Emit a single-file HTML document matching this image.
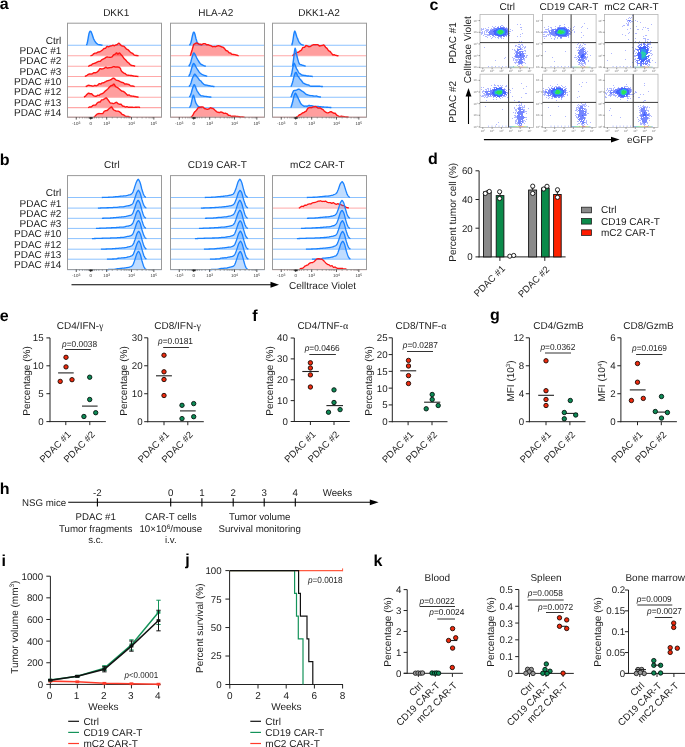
<!DOCTYPE html>
<html><head><meta charset="utf-8"><title>Figure</title>
<style>html,body{margin:0;padding:0;background:#fff;} svg{display:block;will-change:transform;} text{font-family:"Liberation Sans",sans-serif;text-rendering:geometricPrecision;}</style>
</head><body>
<svg width="685" height="747" viewBox="0 0 685 747" font-family="Liberation Sans, sans-serif">
<rect width="685" height="747" fill="#fff"/>
<text x="-0.30" y="9.20" font-size="16" text-anchor="start" font-weight="bold" fill="#000">a</text>
<text x="61.30" y="43.90" font-size="10" text-anchor="end" fill="#1c1c1c">Ctrl</text>
<text x="61.30" y="54.19" font-size="10" text-anchor="end" fill="#1c1c1c">PDAC #1</text>
<text x="61.30" y="64.48" font-size="10" text-anchor="end" fill="#1c1c1c">PDAC #2</text>
<text x="61.30" y="74.77" font-size="10" text-anchor="end" fill="#1c1c1c">PDAC #3</text>
<text x="61.30" y="85.06" font-size="10" text-anchor="end" fill="#1c1c1c">PDAC #10</text>
<text x="61.30" y="95.35" font-size="10" text-anchor="end" fill="#1c1c1c">PDAC #12</text>
<text x="61.30" y="105.64" font-size="10" text-anchor="end" fill="#1c1c1c">PDAC #13</text>
<text x="61.30" y="115.93" font-size="10" text-anchor="end" fill="#1c1c1c">PDAC #14</text>
<text x="116.20" y="16.30" font-size="10" text-anchor="middle" fill="#1c1c1c">DKK1</text>
<text x="215.70" y="16.30" font-size="10" text-anchor="middle" fill="#1c1c1c">HLA-A2</text>
<text x="319.00" y="16.30" font-size="10" text-anchor="middle" fill="#1c1c1c">DKK1-A2</text>
<path d="M86.5,45.30 L86.5,45.30 L87.0,43.74 L87.5,41.82 L88.0,39.11 L88.5,36.10 L89.0,33.56 L89.5,32.16 L90.0,31.28 L90.5,31.24 L91.0,31.59 L91.5,32.71 L92.0,34.05 L92.5,35.49 L93.0,37.03 L93.5,38.52 L94.0,39.69 L94.5,40.51 L95.0,41.28 L95.5,42.05 L96.0,42.85 L96.5,43.34 L97.0,43.67 L97.5,44.01 L98.0,44.33 L98.5,44.59 L99.0,44.67 L99.5,44.73 L100.0,44.80 L100.5,44.91 L101.0,45.02 L101.5,45.12 L102.0,45.19 L102.5,45.30 L102.5,45.30 Z" fill="rgba(26,130,255,0.42)" stroke="none"/>
<line x1="67.50" y1="45.30" x2="161.50" y2="45.30" stroke="#8cc2ff" stroke-width="1.1"/>
<path d="M86.5,45.30 L86.5,45.30 L87.0,43.74 L87.5,41.82 L88.0,39.11 L88.5,36.10 L89.0,33.56 L89.5,32.16 L90.0,31.28 L90.5,31.24 L91.0,31.59 L91.5,32.71 L92.0,34.05 L92.5,35.49 L93.0,37.03 L93.5,38.52 L94.0,39.69 L94.5,40.51 L95.0,41.28 L95.5,42.05 L96.0,42.85 L96.5,43.34 L97.0,43.67 L97.5,44.01 L98.0,44.33 L98.5,44.59 L99.0,44.67 L99.5,44.73 L100.0,44.80 L100.5,44.91 L101.0,45.02 L101.5,45.12 L102.0,45.19 L102.5,45.30" fill="none" stroke="#1a82ff" stroke-width="1.4000000000000001" stroke-linejoin="round"/>
<path d="M90.5,55.80 L90.5,55.80 L91.0,55.59 L91.5,55.42 L92.0,55.32 L92.5,54.94 L93.0,54.46 L93.5,53.86 L94.0,53.59 L94.5,53.38 L95.0,53.16 L95.5,53.12 L96.0,53.08 L96.5,53.05 L97.0,52.70 L97.5,52.36 L98.0,52.02 L98.5,51.98 L99.0,51.94 L99.5,51.88 L100.0,51.58 L100.5,51.28 L101.0,50.98 L101.5,50.66 L102.0,50.33 L102.5,50.00 L103.0,49.52 L103.5,49.03 L104.0,48.55 L104.5,48.47 L105.0,48.40 L105.5,48.32 L106.0,47.67 L106.5,47.01 L107.0,46.36 L107.5,46.48 L108.0,46.61 L108.5,46.81 L109.0,46.57 L109.5,46.34 L110.0,46.11 L110.5,45.99 L111.0,45.87 L111.5,45.84 L112.0,45.61 L112.5,45.41 L113.0,45.22 L113.5,45.51 L114.0,45.68 L114.5,45.70 L115.0,45.45 L115.5,45.20 L116.0,44.94 L116.5,44.79 L117.0,44.54 L117.5,44.28 L118.0,43.80 L118.5,43.35 L119.0,43.12 L119.5,43.62 L120.0,44.23 L120.5,44.83 L121.0,45.37 L121.5,45.69 L122.0,45.95 L122.5,46.02 L123.0,46.09 L123.5,46.16 L124.0,46.42 L124.5,46.84 L125.0,47.37 L125.5,47.96 L126.0,48.55 L126.5,49.14 L127.0,49.31 L127.5,49.47 L128.0,49.63 L128.5,50.18 L129.0,50.73 L129.5,51.28 L130.0,51.78 L130.5,52.25 L131.0,52.65 L131.5,52.87 L132.0,53.08 L132.5,53.29 L133.0,53.83 L133.5,54.38 L134.0,54.86 L134.5,55.13 L135.0,55.29 L135.5,55.37 L136.0,55.44 L136.5,55.50 L137.0,55.56 L137.5,55.63 L138.0,55.70 L138.5,55.80 L138.5,55.80 Z" fill="rgba(255,40,40,0.45)" stroke="none"/>
<line x1="67.50" y1="55.80" x2="161.50" y2="55.80" stroke="#ffa8a8" stroke-width="1.1"/>
<path d="M90.5,55.80 L90.5,55.80 L91.0,55.59 L91.5,55.42 L92.0,55.32 L92.5,54.94 L93.0,54.46 L93.5,53.86 L94.0,53.59 L94.5,53.38 L95.0,53.16 L95.5,53.12 L96.0,53.08 L96.5,53.05 L97.0,52.70 L97.5,52.36 L98.0,52.02 L98.5,51.98 L99.0,51.94 L99.5,51.88 L100.0,51.58 L100.5,51.28 L101.0,50.98 L101.5,50.66 L102.0,50.33 L102.5,50.00 L103.0,49.52 L103.5,49.03 L104.0,48.55 L104.5,48.47 L105.0,48.40 L105.5,48.32 L106.0,47.67 L106.5,47.01 L107.0,46.36 L107.5,46.48 L108.0,46.61 L108.5,46.81 L109.0,46.57 L109.5,46.34 L110.0,46.11 L110.5,45.99 L111.0,45.87 L111.5,45.84 L112.0,45.61 L112.5,45.41 L113.0,45.22 L113.5,45.51 L114.0,45.68 L114.5,45.70 L115.0,45.45 L115.5,45.20 L116.0,44.94 L116.5,44.79 L117.0,44.54 L117.5,44.28 L118.0,43.80 L118.5,43.35 L119.0,43.12 L119.5,43.62 L120.0,44.23 L120.5,44.83 L121.0,45.37 L121.5,45.69 L122.0,45.95 L122.5,46.02 L123.0,46.09 L123.5,46.16 L124.0,46.42 L124.5,46.84 L125.0,47.37 L125.5,47.96 L126.0,48.55 L126.5,49.14 L127.0,49.31 L127.5,49.47 L128.0,49.63 L128.5,50.18 L129.0,50.73 L129.5,51.28 L130.0,51.78 L130.5,52.25 L131.0,52.65 L131.5,52.87 L132.0,53.08 L132.5,53.29 L133.0,53.83 L133.5,54.38 L134.0,54.86 L134.5,55.13 L135.0,55.29 L135.5,55.37 L136.0,55.44 L136.5,55.50 L137.0,55.56 L137.5,55.63 L138.0,55.70 L138.5,55.80" fill="none" stroke="#ff1414" stroke-width="1.4000000000000001" stroke-linejoin="round"/>
<path d="M88.1,66.30 L88.1,66.30 L88.6,66.11 L89.1,65.84 L89.6,65.51 L90.1,65.38 L90.6,65.31 L91.1,65.31 L91.6,64.85 L92.1,64.36 L92.6,63.88 L93.1,63.71 L93.6,63.54 L94.1,63.37 L94.6,63.26 L95.1,63.15 L95.6,63.03 L96.1,62.70 L96.6,62.37 L97.1,62.03 L97.6,61.82 L98.1,61.60 L98.6,61.37 L99.1,61.37 L99.6,61.37 L100.1,61.37 L100.6,60.90 L101.1,60.43 L101.6,59.96 L102.1,59.67 L102.6,59.37 L103.1,59.08 L103.6,58.88 L104.1,58.68 L104.6,58.47 L105.1,58.05 L105.6,57.64 L106.1,57.22 L106.6,57.06 L107.1,57.02 L107.6,57.00 L108.1,57.09 L108.6,57.17 L109.1,57.26 L109.6,57.24 L110.1,57.23 L110.6,57.22 L111.1,57.16 L111.6,57.03 L112.1,56.80 L112.6,56.18 L113.1,55.56 L113.6,54.95 L114.1,54.70 L114.6,54.46 L115.1,54.19 L115.6,53.74 L116.1,53.14 L116.6,52.85 L117.1,53.36 L117.6,53.95 L118.1,54.01 L118.6,53.55 L119.1,53.09 L119.6,53.00 L120.1,53.53 L120.6,54.16 L121.1,54.83 L121.6,55.30 L122.1,55.78 L122.6,56.26 L123.1,57.06 L123.6,57.87 L124.1,58.67 L124.6,59.07 L125.1,59.48 L125.6,59.88 L126.1,60.50 L126.6,61.12 L127.1,61.72 L127.6,62.20 L128.1,62.54 L128.6,62.85 L129.1,63.38 L129.6,63.91 L130.1,64.43 L130.6,64.83 L131.1,65.23 L131.6,65.50 L132.1,65.53 L132.6,65.58 L133.1,65.64 L133.6,65.71 L134.1,65.82 L134.6,65.96 L135.1,66.30 L135.1,66.30 Z" fill="rgba(255,40,40,0.45)" stroke="none"/>
<line x1="67.50" y1="66.30" x2="161.50" y2="66.30" stroke="#ffa8a8" stroke-width="1.1"/>
<path d="M88.1,66.30 L88.1,66.30 L88.6,66.11 L89.1,65.84 L89.6,65.51 L90.1,65.38 L90.6,65.31 L91.1,65.31 L91.6,64.85 L92.1,64.36 L92.6,63.88 L93.1,63.71 L93.6,63.54 L94.1,63.37 L94.6,63.26 L95.1,63.15 L95.6,63.03 L96.1,62.70 L96.6,62.37 L97.1,62.03 L97.6,61.82 L98.1,61.60 L98.6,61.37 L99.1,61.37 L99.6,61.37 L100.1,61.37 L100.6,60.90 L101.1,60.43 L101.6,59.96 L102.1,59.67 L102.6,59.37 L103.1,59.08 L103.6,58.88 L104.1,58.68 L104.6,58.47 L105.1,58.05 L105.6,57.64 L106.1,57.22 L106.6,57.06 L107.1,57.02 L107.6,57.00 L108.1,57.09 L108.6,57.17 L109.1,57.26 L109.6,57.24 L110.1,57.23 L110.6,57.22 L111.1,57.16 L111.6,57.03 L112.1,56.80 L112.6,56.18 L113.1,55.56 L113.6,54.95 L114.1,54.70 L114.6,54.46 L115.1,54.19 L115.6,53.74 L116.1,53.14 L116.6,52.85 L117.1,53.36 L117.6,53.95 L118.1,54.01 L118.6,53.55 L119.1,53.09 L119.6,53.00 L120.1,53.53 L120.6,54.16 L121.1,54.83 L121.6,55.30 L122.1,55.78 L122.6,56.26 L123.1,57.06 L123.6,57.87 L124.1,58.67 L124.6,59.07 L125.1,59.48 L125.6,59.88 L126.1,60.50 L126.6,61.12 L127.1,61.72 L127.6,62.20 L128.1,62.54 L128.6,62.85 L129.1,63.38 L129.6,63.91 L130.1,64.43 L130.6,64.83 L131.1,65.23 L131.6,65.50 L132.1,65.53 L132.6,65.58 L133.1,65.64 L133.6,65.71 L134.1,65.82 L134.6,65.96 L135.1,66.30" fill="none" stroke="#ff1414" stroke-width="1.4000000000000001" stroke-linejoin="round"/>
<path d="M84.9,76.50 L84.9,76.50 L85.4,76.16 L85.9,75.91 L86.4,75.74 L86.9,75.41 L87.4,75.03 L87.9,74.62 L88.4,74.35 L88.9,74.09 L89.4,73.90 L89.9,73.98 L90.4,74.06 L90.9,74.13 L91.4,74.03 L91.9,73.93 L92.4,73.82 L92.9,73.41 L93.4,73.00 L93.9,72.61 L94.4,72.69 L94.9,72.78 L95.4,72.87 L95.9,72.61 L96.4,72.36 L96.9,72.10 L97.4,71.73 L97.9,71.35 L98.4,70.89 L98.9,70.26 L99.4,69.45 L99.9,68.69 L100.4,68.61 L100.9,68.80 L101.4,69.04 L101.9,68.95 L102.4,68.85 L102.9,68.76 L103.4,68.58 L103.9,68.40 L104.4,68.22 L104.9,67.84 L105.4,67.48 L105.9,67.15 L106.4,67.47 L106.9,67.79 L107.4,68.12 L107.9,67.97 L108.4,67.82 L108.9,67.68 L109.4,67.68 L109.9,67.67 L110.4,67.65 L110.9,67.56 L111.4,67.46 L111.9,67.37 L112.4,67.10 L112.9,66.84 L113.4,66.57 L113.9,66.64 L114.4,66.74 L114.9,66.93 L115.4,66.94 L115.9,66.96 L116.4,66.98 L116.9,66.95 L117.4,66.93 L117.9,66.91 L118.4,67.08 L118.9,67.25 L119.4,67.42 L119.9,67.80 L120.4,68.58 L120.9,69.87 L121.4,70.91 L121.9,71.71 L122.4,71.96 L122.9,72.36 L123.4,72.76 L123.9,73.16 L124.4,73.34 L124.9,73.52 L125.4,73.70 L125.9,74.22 L126.4,74.64 L126.9,75.04 L127.4,75.12 L127.9,75.20 L128.4,75.26 L128.9,75.29 L129.4,75.34 L129.9,75.41 L130.4,75.45 L130.9,75.47 L131.4,75.47 L131.9,75.61 L132.4,75.74 L132.9,75.86 L133.4,75.94 L133.9,76.01 L134.4,76.08 L134.9,76.16 L135.4,76.22 L135.9,76.29 L136.4,76.32 L136.9,76.36 L137.4,76.40 L137.9,76.44 L138.4,76.50 L138.4,76.50 Z" fill="rgba(255,40,40,0.45)" stroke="none"/>
<line x1="67.50" y1="76.50" x2="161.50" y2="76.50" stroke="#ffa8a8" stroke-width="1.1"/>
<path d="M84.9,76.50 L84.9,76.50 L85.4,76.16 L85.9,75.91 L86.4,75.74 L86.9,75.41 L87.4,75.03 L87.9,74.62 L88.4,74.35 L88.9,74.09 L89.4,73.90 L89.9,73.98 L90.4,74.06 L90.9,74.13 L91.4,74.03 L91.9,73.93 L92.4,73.82 L92.9,73.41 L93.4,73.00 L93.9,72.61 L94.4,72.69 L94.9,72.78 L95.4,72.87 L95.9,72.61 L96.4,72.36 L96.9,72.10 L97.4,71.73 L97.9,71.35 L98.4,70.89 L98.9,70.26 L99.4,69.45 L99.9,68.69 L100.4,68.61 L100.9,68.80 L101.4,69.04 L101.9,68.95 L102.4,68.85 L102.9,68.76 L103.4,68.58 L103.9,68.40 L104.4,68.22 L104.9,67.84 L105.4,67.48 L105.9,67.15 L106.4,67.47 L106.9,67.79 L107.4,68.12 L107.9,67.97 L108.4,67.82 L108.9,67.68 L109.4,67.68 L109.9,67.67 L110.4,67.65 L110.9,67.56 L111.4,67.46 L111.9,67.37 L112.4,67.10 L112.9,66.84 L113.4,66.57 L113.9,66.64 L114.4,66.74 L114.9,66.93 L115.4,66.94 L115.9,66.96 L116.4,66.98 L116.9,66.95 L117.4,66.93 L117.9,66.91 L118.4,67.08 L118.9,67.25 L119.4,67.42 L119.9,67.80 L120.4,68.58 L120.9,69.87 L121.4,70.91 L121.9,71.71 L122.4,71.96 L122.9,72.36 L123.4,72.76 L123.9,73.16 L124.4,73.34 L124.9,73.52 L125.4,73.70 L125.9,74.22 L126.4,74.64 L126.9,75.04 L127.4,75.12 L127.9,75.20 L128.4,75.26 L128.9,75.29 L129.4,75.34 L129.9,75.41 L130.4,75.45 L130.9,75.47 L131.4,75.47 L131.9,75.61 L132.4,75.74 L132.9,75.86 L133.4,75.94 L133.9,76.01 L134.4,76.08 L134.9,76.16 L135.4,76.22 L135.9,76.29 L136.4,76.32 L136.9,76.36 L137.4,76.40 L137.9,76.44 L138.4,76.50" fill="none" stroke="#ff1414" stroke-width="1.4000000000000001" stroke-linejoin="round"/>
<path d="M85.7,86.60 L85.7,86.60 L86.2,86.31 L86.7,86.03 L87.2,85.76 L87.7,85.52 L88.2,85.34 L88.7,85.26 L89.2,85.35 L89.7,85.46 L90.2,85.61 L90.7,85.61 L91.2,85.73 L91.7,85.88 L92.2,86.00 L92.7,86.14 L93.2,86.10 L93.7,85.92 L94.2,85.71 L94.7,85.49 L95.2,85.54 L95.7,85.67 L96.2,85.86 L96.7,85.69 L97.2,85.43 L97.7,85.18 L98.2,84.65 L98.7,84.13 L99.2,83.60 L99.7,83.78 L100.2,83.96 L100.7,84.14 L101.2,83.70 L101.7,83.27 L102.2,82.85 L102.7,82.83 L103.2,82.82 L103.7,82.81 L104.2,82.49 L104.7,82.18 L105.2,81.86 L105.7,81.60 L106.2,81.32 L106.7,81.03 L107.2,80.92 L107.7,80.80 L108.2,80.69 L108.7,80.52 L109.2,80.36 L109.7,80.20 L110.2,79.98 L110.7,79.75 L111.2,79.53 L111.7,79.13 L112.2,78.74 L112.7,78.34 L113.2,78.12 L113.7,78.13 L114.2,78.41 L114.7,78.87 L115.2,79.32 L115.7,79.77 L116.2,80.07 L116.7,80.24 L117.2,80.38 L117.7,80.51 L118.2,80.65 L118.7,80.78 L119.2,81.08 L119.7,81.38 L120.2,81.67 L120.7,81.88 L121.2,82.12 L121.7,82.40 L122.2,82.47 L122.7,82.54 L123.2,82.60 L123.7,83.07 L124.2,83.54 L124.7,84.01 L125.2,84.03 L125.7,84.03 L126.2,83.99 L126.7,84.06 L127.2,84.13 L127.7,84.20 L128.2,84.35 L128.7,84.50 L129.2,84.65 L129.7,85.10 L130.2,85.50 L130.7,85.83 L131.2,85.88 L131.7,85.95 L132.2,86.02 L132.7,86.06 L133.2,86.14 L133.7,86.25 L134.2,86.45 L134.7,86.60 L134.7,86.60 Z" fill="rgba(255,40,40,0.45)" stroke="none"/>
<line x1="67.50" y1="86.60" x2="161.50" y2="86.60" stroke="#ffa8a8" stroke-width="1.1"/>
<path d="M85.7,86.60 L85.7,86.60 L86.2,86.31 L86.7,86.03 L87.2,85.76 L87.7,85.52 L88.2,85.34 L88.7,85.26 L89.2,85.35 L89.7,85.46 L90.2,85.61 L90.7,85.61 L91.2,85.73 L91.7,85.88 L92.2,86.00 L92.7,86.14 L93.2,86.10 L93.7,85.92 L94.2,85.71 L94.7,85.49 L95.2,85.54 L95.7,85.67 L96.2,85.86 L96.7,85.69 L97.2,85.43 L97.7,85.18 L98.2,84.65 L98.7,84.13 L99.2,83.60 L99.7,83.78 L100.2,83.96 L100.7,84.14 L101.2,83.70 L101.7,83.27 L102.2,82.85 L102.7,82.83 L103.2,82.82 L103.7,82.81 L104.2,82.49 L104.7,82.18 L105.2,81.86 L105.7,81.60 L106.2,81.32 L106.7,81.03 L107.2,80.92 L107.7,80.80 L108.2,80.69 L108.7,80.52 L109.2,80.36 L109.7,80.20 L110.2,79.98 L110.7,79.75 L111.2,79.53 L111.7,79.13 L112.2,78.74 L112.7,78.34 L113.2,78.12 L113.7,78.13 L114.2,78.41 L114.7,78.87 L115.2,79.32 L115.7,79.77 L116.2,80.07 L116.7,80.24 L117.2,80.38 L117.7,80.51 L118.2,80.65 L118.7,80.78 L119.2,81.08 L119.7,81.38 L120.2,81.67 L120.7,81.88 L121.2,82.12 L121.7,82.40 L122.2,82.47 L122.7,82.54 L123.2,82.60 L123.7,83.07 L124.2,83.54 L124.7,84.01 L125.2,84.03 L125.7,84.03 L126.2,83.99 L126.7,84.06 L127.2,84.13 L127.7,84.20 L128.2,84.35 L128.7,84.50 L129.2,84.65 L129.7,85.10 L130.2,85.50 L130.7,85.83 L131.2,85.88 L131.7,85.95 L132.2,86.02 L132.7,86.06 L133.2,86.14 L133.7,86.25 L134.2,86.45 L134.7,86.60" fill="none" stroke="#ff1414" stroke-width="1.4000000000000001" stroke-linejoin="round"/>
<path d="M84.1,97.20 L84.1,97.20 L84.6,96.66 L85.1,96.26 L85.6,96.02 L86.1,95.38 L86.6,94.76 L87.1,94.22 L87.6,93.83 L88.1,93.44 L88.6,93.08 L89.1,93.23 L89.6,93.55 L90.1,93.91 L90.6,93.76 L91.1,93.64 L91.6,93.64 L92.1,94.16 L92.6,94.70 L93.1,95.23 L93.6,95.62 L94.1,95.92 L94.6,96.17 L95.1,96.21 L95.6,96.27 L96.1,96.29 L96.6,96.01 L97.1,95.62 L97.6,95.22 L98.1,95.29 L98.6,95.36 L99.1,95.43 L99.6,94.98 L100.1,94.53 L100.6,94.08 L101.1,94.02 L101.6,93.93 L102.1,93.74 L102.6,93.43 L103.1,93.09 L103.6,92.76 L104.1,92.22 L104.6,91.69 L105.1,91.15 L105.6,90.75 L106.1,90.36 L106.6,89.96 L107.1,89.52 L107.6,89.09 L108.1,88.66 L108.6,88.06 L109.1,87.46 L109.6,86.87 L110.1,86.45 L110.6,86.03 L111.1,85.60 L111.6,85.51 L112.1,85.42 L112.6,85.33 L113.1,84.59 L113.6,84.12 L114.1,84.23 L114.6,85.00 L115.1,85.76 L115.6,86.53 L116.1,86.92 L116.6,87.15 L117.1,87.30 L117.6,87.67 L118.1,88.04 L118.6,88.41 L119.1,88.84 L119.6,89.28 L120.1,89.72 L120.6,90.15 L121.1,90.60 L121.6,91.09 L122.1,91.13 L122.6,91.18 L123.1,91.23 L123.6,91.56 L124.1,91.89 L124.6,92.23 L125.1,92.77 L125.6,93.29 L126.1,93.76 L126.6,94.25 L127.1,94.74 L127.6,95.22 L128.1,95.13 L128.6,95.05 L129.1,94.96 L129.6,95.24 L130.1,95.56 L130.6,95.86 L131.1,95.97 L131.6,96.03 L132.1,96.08 L132.6,96.14 L133.1,96.21 L133.6,96.28 L134.1,96.37 L134.6,96.46 L135.1,96.55 L135.6,96.67 L136.1,96.78 L136.6,96.88 L137.1,96.98 L137.6,97.06 L138.1,97.13 L138.6,97.20 L138.6,97.20 Z" fill="rgba(255,40,40,0.45)" stroke="none"/>
<line x1="67.50" y1="97.20" x2="161.50" y2="97.20" stroke="#ffa8a8" stroke-width="1.1"/>
<path d="M84.1,97.20 L84.1,97.20 L84.6,96.66 L85.1,96.26 L85.6,96.02 L86.1,95.38 L86.6,94.76 L87.1,94.22 L87.6,93.83 L88.1,93.44 L88.6,93.08 L89.1,93.23 L89.6,93.55 L90.1,93.91 L90.6,93.76 L91.1,93.64 L91.6,93.64 L92.1,94.16 L92.6,94.70 L93.1,95.23 L93.6,95.62 L94.1,95.92 L94.6,96.17 L95.1,96.21 L95.6,96.27 L96.1,96.29 L96.6,96.01 L97.1,95.62 L97.6,95.22 L98.1,95.29 L98.6,95.36 L99.1,95.43 L99.6,94.98 L100.1,94.53 L100.6,94.08 L101.1,94.02 L101.6,93.93 L102.1,93.74 L102.6,93.43 L103.1,93.09 L103.6,92.76 L104.1,92.22 L104.6,91.69 L105.1,91.15 L105.6,90.75 L106.1,90.36 L106.6,89.96 L107.1,89.52 L107.6,89.09 L108.1,88.66 L108.6,88.06 L109.1,87.46 L109.6,86.87 L110.1,86.45 L110.6,86.03 L111.1,85.60 L111.6,85.51 L112.1,85.42 L112.6,85.33 L113.1,84.59 L113.6,84.12 L114.1,84.23 L114.6,85.00 L115.1,85.76 L115.6,86.53 L116.1,86.92 L116.6,87.15 L117.1,87.30 L117.6,87.67 L118.1,88.04 L118.6,88.41 L119.1,88.84 L119.6,89.28 L120.1,89.72 L120.6,90.15 L121.1,90.60 L121.6,91.09 L122.1,91.13 L122.6,91.18 L123.1,91.23 L123.6,91.56 L124.1,91.89 L124.6,92.23 L125.1,92.77 L125.6,93.29 L126.1,93.76 L126.6,94.25 L127.1,94.74 L127.6,95.22 L128.1,95.13 L128.6,95.05 L129.1,94.96 L129.6,95.24 L130.1,95.56 L130.6,95.86 L131.1,95.97 L131.6,96.03 L132.1,96.08 L132.6,96.14 L133.1,96.21 L133.6,96.28 L134.1,96.37 L134.6,96.46 L135.1,96.55 L135.6,96.67 L136.1,96.78 L136.6,96.88 L137.1,96.98 L137.6,97.06 L138.1,97.13 L138.6,97.20" fill="none" stroke="#ff1414" stroke-width="1.4000000000000001" stroke-linejoin="round"/>
<path d="M88.1,107.60 L88.1,107.60 L88.6,107.40 L89.1,107.18 L89.6,106.94 L90.1,106.89 L90.6,106.94 L91.1,107.07 L91.6,106.66 L92.1,106.15 L92.6,105.56 L93.1,105.43 L93.6,105.30 L94.1,105.08 L94.6,105.11 L95.1,105.13 L95.6,105.15 L96.1,104.47 L96.6,103.79 L97.1,103.10 L97.6,102.77 L98.1,102.44 L98.6,102.11 L99.1,102.07 L99.6,102.03 L100.1,101.99 L100.6,101.30 L101.1,100.61 L101.6,99.92 L102.1,99.87 L102.6,99.83 L103.1,99.79 L103.6,99.44 L104.1,99.11 L104.6,98.78 L105.1,98.40 L105.6,98.02 L106.1,97.77 L106.6,98.13 L107.1,98.75 L107.6,99.40 L108.1,100.04 L108.6,100.68 L109.1,101.32 L109.6,102.15 L110.1,102.73 L110.6,103.11 L111.1,103.14 L111.6,103.17 L112.1,103.20 L112.6,103.47 L113.1,103.66 L113.6,103.66 L114.1,103.40 L114.6,103.13 L115.1,102.86 L115.6,102.56 L116.1,102.32 L116.6,102.35 L117.1,102.81 L117.6,103.29 L118.1,103.76 L118.6,103.92 L119.1,104.07 L119.6,104.21 L120.1,104.24 L120.6,104.28 L121.1,104.31 L121.6,104.86 L122.1,105.40 L122.6,105.95 L123.1,106.08 L123.6,106.21 L124.1,106.31 L124.6,106.59 L125.1,106.80 L125.6,106.99 L126.1,106.82 L126.6,106.69 L127.1,106.59 L127.6,106.84 L128.1,107.05 L128.6,107.24 L129.1,107.27 L129.6,107.28 L130.1,107.29 L130.6,107.24 L131.1,107.20 L131.6,107.18 L132.1,107.25 L132.6,107.31 L133.1,107.36 L133.6,107.38 L134.1,107.38 L134.6,107.34 L135.1,107.31 L135.6,107.27 L136.1,107.23 L136.6,107.21 L137.1,107.19 L137.6,107.17 L138.1,107.15 L138.6,107.15 L139.1,107.26 L139.6,107.42 L140.1,107.60 L140.1,107.60 Z" fill="rgba(255,40,40,0.45)" stroke="none"/>
<line x1="67.50" y1="107.60" x2="161.50" y2="107.60" stroke="#ffa8a8" stroke-width="1.1"/>
<path d="M88.1,107.60 L88.1,107.60 L88.6,107.40 L89.1,107.18 L89.6,106.94 L90.1,106.89 L90.6,106.94 L91.1,107.07 L91.6,106.66 L92.1,106.15 L92.6,105.56 L93.1,105.43 L93.6,105.30 L94.1,105.08 L94.6,105.11 L95.1,105.13 L95.6,105.15 L96.1,104.47 L96.6,103.79 L97.1,103.10 L97.6,102.77 L98.1,102.44 L98.6,102.11 L99.1,102.07 L99.6,102.03 L100.1,101.99 L100.6,101.30 L101.1,100.61 L101.6,99.92 L102.1,99.87 L102.6,99.83 L103.1,99.79 L103.6,99.44 L104.1,99.11 L104.6,98.78 L105.1,98.40 L105.6,98.02 L106.1,97.77 L106.6,98.13 L107.1,98.75 L107.6,99.40 L108.1,100.04 L108.6,100.68 L109.1,101.32 L109.6,102.15 L110.1,102.73 L110.6,103.11 L111.1,103.14 L111.6,103.17 L112.1,103.20 L112.6,103.47 L113.1,103.66 L113.6,103.66 L114.1,103.40 L114.6,103.13 L115.1,102.86 L115.6,102.56 L116.1,102.32 L116.6,102.35 L117.1,102.81 L117.6,103.29 L118.1,103.76 L118.6,103.92 L119.1,104.07 L119.6,104.21 L120.1,104.24 L120.6,104.28 L121.1,104.31 L121.6,104.86 L122.1,105.40 L122.6,105.95 L123.1,106.08 L123.6,106.21 L124.1,106.31 L124.6,106.59 L125.1,106.80 L125.6,106.99 L126.1,106.82 L126.6,106.69 L127.1,106.59 L127.6,106.84 L128.1,107.05 L128.6,107.24 L129.1,107.27 L129.6,107.28 L130.1,107.29 L130.6,107.24 L131.1,107.20 L131.6,107.18 L132.1,107.25 L132.6,107.31 L133.1,107.36 L133.6,107.38 L134.1,107.38 L134.6,107.34 L135.1,107.31 L135.6,107.27 L136.1,107.23 L136.6,107.21 L137.1,107.19 L137.6,107.17 L138.1,107.15 L138.6,107.15 L139.1,107.26 L139.6,107.42 L140.1,107.60" fill="none" stroke="#ff1414" stroke-width="1.4000000000000001" stroke-linejoin="round"/>
<path d="M93.7,117.20 L93.7,117.20 L94.2,116.88 L94.7,116.49 L95.2,116.02 L95.7,115.45 L96.2,114.90 L96.7,114.35 L97.2,114.13 L97.7,113.92 L98.2,113.72 L98.7,113.57 L99.2,113.56 L99.7,113.58 L100.2,113.60 L100.7,113.62 L101.2,113.64 L101.7,113.66 L102.2,113.67 L102.7,113.60 L103.2,112.90 L103.7,112.16 L104.2,111.42 L104.7,111.20 L105.2,110.97 L105.7,110.75 L106.2,110.65 L106.7,110.55 L107.2,110.45 L107.7,109.96 L108.2,109.46 L108.7,108.97 L109.2,108.57 L109.7,108.17 L110.2,107.76 L110.7,107.31 L111.2,106.95 L111.7,107.00 L112.2,107.76 L112.7,108.57 L113.2,109.38 L113.7,109.85 L114.2,110.13 L114.7,110.32 L115.2,110.58 L115.7,110.84 L116.2,111.10 L116.7,111.11 L117.2,111.12 L117.7,111.15 L118.2,111.26 L118.7,111.40 L119.2,111.55 L119.7,111.94 L120.2,112.32 L120.7,112.71 L121.2,113.29 L121.7,113.86 L122.2,114.41 L122.7,114.57 L123.2,114.72 L123.7,114.88 L124.2,115.28 L124.7,115.68 L125.2,116.08 L125.7,116.27 L126.2,116.35 L126.7,116.42 L127.2,116.41 L127.7,116.44 L128.2,116.49 L128.7,116.69 L129.2,116.86 L129.7,117.01 L130.2,117.10 L130.7,117.20 L130.7,117.20 Z" fill="rgba(255,40,40,0.45)" stroke="none"/>
<line x1="67.50" y1="117.20" x2="161.50" y2="117.20" stroke="#ffa8a8" stroke-width="1.1"/>
<path d="M93.7,117.20 L93.7,117.20 L94.2,116.88 L94.7,116.49 L95.2,116.02 L95.7,115.45 L96.2,114.90 L96.7,114.35 L97.2,114.13 L97.7,113.92 L98.2,113.72 L98.7,113.57 L99.2,113.56 L99.7,113.58 L100.2,113.60 L100.7,113.62 L101.2,113.64 L101.7,113.66 L102.2,113.67 L102.7,113.60 L103.2,112.90 L103.7,112.16 L104.2,111.42 L104.7,111.20 L105.2,110.97 L105.7,110.75 L106.2,110.65 L106.7,110.55 L107.2,110.45 L107.7,109.96 L108.2,109.46 L108.7,108.97 L109.2,108.57 L109.7,108.17 L110.2,107.76 L110.7,107.31 L111.2,106.95 L111.7,107.00 L112.2,107.76 L112.7,108.57 L113.2,109.38 L113.7,109.85 L114.2,110.13 L114.7,110.32 L115.2,110.58 L115.7,110.84 L116.2,111.10 L116.7,111.11 L117.2,111.12 L117.7,111.15 L118.2,111.26 L118.7,111.40 L119.2,111.55 L119.7,111.94 L120.2,112.32 L120.7,112.71 L121.2,113.29 L121.7,113.86 L122.2,114.41 L122.7,114.57 L123.2,114.72 L123.7,114.88 L124.2,115.28 L124.7,115.68 L125.2,116.08 L125.7,116.27 L126.2,116.35 L126.7,116.42 L127.2,116.41 L127.7,116.44 L128.2,116.49 L128.7,116.69 L129.2,116.86 L129.7,117.01 L130.2,117.10 L130.7,117.20" fill="none" stroke="#ff1414" stroke-width="1.4000000000000001" stroke-linejoin="round"/>
<rect x="67.50" y="23.20" width="94.00" height="94.00" fill="none" stroke="#9a9a9a" stroke-width="1"/>
<line x1="76.25" y1="117.20" x2="76.25" y2="119.60" stroke="#111" stroke-width="0.7"/>
<text x="76.25" y="125.00" font-size="4.4" text-anchor="middle" fill="#333">-10<tspan dy="-1.5" font-size="3.5">3</tspan></text>
<line x1="90.68" y1="117.20" x2="90.68" y2="119.60" stroke="#111" stroke-width="0.7"/>
<text x="90.68" y="125.00" font-size="4.4" text-anchor="middle" fill="#333">0</text>
<line x1="106.69" y1="117.20" x2="106.69" y2="119.60" stroke="#111" stroke-width="0.7"/>
<text x="106.69" y="125.00" font-size="4.4" text-anchor="middle" fill="#333">10<tspan dy="-1.5" font-size="3.5">3</tspan></text>
<line x1="131.46" y1="117.20" x2="131.46" y2="119.60" stroke="#111" stroke-width="0.7"/>
<text x="131.46" y="125.00" font-size="4.4" text-anchor="middle" fill="#333">10<tspan dy="-1.5" font-size="3.5">4</tspan></text>
<line x1="153.84" y1="117.20" x2="153.84" y2="119.60" stroke="#111" stroke-width="0.7"/>
<text x="153.84" y="125.00" font-size="4.4" text-anchor="middle" fill="#333">10<tspan dy="-1.5" font-size="3.5">5</tspan></text>
<line x1="79.44" y1="117.20" x2="79.44" y2="118.50" stroke="#555" stroke-width="0.5"/>
<line x1="82.42" y1="117.20" x2="82.42" y2="118.50" stroke="#555" stroke-width="0.5"/>
<line x1="84.91" y1="117.20" x2="84.91" y2="118.50" stroke="#555" stroke-width="0.5"/>
<line x1="86.90" y1="117.20" x2="86.90" y2="118.50" stroke="#555" stroke-width="0.5"/>
<line x1="88.39" y1="117.20" x2="88.39" y2="118.50" stroke="#555" stroke-width="0.5"/>
<line x1="89.38" y1="117.20" x2="89.38" y2="118.50" stroke="#555" stroke-width="0.5"/>
<line x1="91.87" y1="117.20" x2="91.87" y2="118.50" stroke="#555" stroke-width="0.5"/>
<line x1="92.87" y1="117.20" x2="92.87" y2="118.50" stroke="#555" stroke-width="0.5"/>
<line x1="94.36" y1="117.20" x2="94.36" y2="118.50" stroke="#555" stroke-width="0.5"/>
<line x1="96.35" y1="117.20" x2="96.35" y2="118.50" stroke="#555" stroke-width="0.5"/>
<line x1="98.83" y1="117.20" x2="98.83" y2="118.50" stroke="#555" stroke-width="0.5"/>
<line x1="102.31" y1="117.20" x2="102.31" y2="118.50" stroke="#555" stroke-width="0.5"/>
<line x1="112.26" y1="117.20" x2="112.26" y2="118.50" stroke="#555" stroke-width="0.5"/>
<line x1="117.24" y1="117.20" x2="117.24" y2="118.50" stroke="#555" stroke-width="0.5"/>
<line x1="121.21" y1="117.20" x2="121.21" y2="118.50" stroke="#555" stroke-width="0.5"/>
<line x1="124.20" y1="117.20" x2="124.20" y2="118.50" stroke="#555" stroke-width="0.5"/>
<line x1="126.19" y1="117.20" x2="126.19" y2="118.50" stroke="#555" stroke-width="0.5"/>
<line x1="128.18" y1="117.20" x2="128.18" y2="118.50" stroke="#555" stroke-width="0.5"/>
<line x1="129.67" y1="117.20" x2="129.67" y2="118.50" stroke="#555" stroke-width="0.5"/>
<line x1="137.13" y1="117.20" x2="137.13" y2="118.50" stroke="#555" stroke-width="0.5"/>
<line x1="142.10" y1="117.20" x2="142.10" y2="118.50" stroke="#555" stroke-width="0.5"/>
<line x1="146.08" y1="117.20" x2="146.08" y2="118.50" stroke="#555" stroke-width="0.5"/>
<line x1="149.07" y1="117.20" x2="149.07" y2="118.50" stroke="#555" stroke-width="0.5"/>
<line x1="151.06" y1="117.20" x2="151.06" y2="118.50" stroke="#555" stroke-width="0.5"/>
<line x1="152.55" y1="117.20" x2="152.55" y2="118.50" stroke="#555" stroke-width="0.5"/>
<rect x="89.38" y="117.20" width="3.20" height="1.60" fill="#222" stroke="none" stroke-width="1"/>
<path d="M189.5,45.30 L189.5,45.30 L190.0,44.43 L190.5,43.47 L191.0,42.23 L191.5,40.06 L192.0,37.69 L192.5,35.46 L193.0,33.60 L193.5,32.14 L194.0,32.24 L194.5,32.97 L195.0,34.41 L195.5,36.55 L196.0,38.68 L196.5,40.32 L197.0,41.76 L197.5,42.73 L198.0,43.39 L198.5,43.99 L199.0,44.36 L199.5,44.52 L200.0,44.65 L200.5,44.83 L201.0,44.99 L201.5,45.15 L202.0,45.30 L202.0,45.30 Z" fill="rgba(26,130,255,0.42)" stroke="none"/>
<line x1="170.50" y1="45.30" x2="264.50" y2="45.30" stroke="#8cc2ff" stroke-width="1.1"/>
<path d="M189.5,45.30 L189.5,45.30 L190.0,44.43 L190.5,43.47 L191.0,42.23 L191.5,40.06 L192.0,37.69 L192.5,35.46 L193.0,33.60 L193.5,32.14 L194.0,32.24 L194.5,32.97 L195.0,34.41 L195.5,36.55 L196.0,38.68 L196.5,40.32 L197.0,41.76 L197.5,42.73 L198.0,43.39 L198.5,43.99 L199.0,44.36 L199.5,44.52 L200.0,44.65 L200.5,44.83 L201.0,44.99 L201.5,45.15 L202.0,45.30" fill="none" stroke="#1a82ff" stroke-width="1.4000000000000001" stroke-linejoin="round"/>
<path d="M190.1,55.80 L190.1,55.80 L190.6,54.76 L191.1,53.11 L191.6,51.47 L192.1,50.02 L192.6,48.28 L193.1,46.46 L193.6,44.68 L194.1,44.15 L194.6,43.93 L195.1,43.63 L195.6,43.32 L196.1,43.02 L196.6,43.04 L197.1,43.19 L197.6,43.38 L198.1,43.64 L198.6,43.91 L199.1,44.17 L199.6,44.20 L200.1,44.22 L200.6,44.23 L201.1,44.42 L201.6,44.48 L202.1,44.52 L202.6,44.23 L203.1,43.93 L203.6,43.64 L204.1,43.65 L204.6,43.67 L205.1,43.71 L205.6,43.99 L206.1,44.36 L206.6,44.76 L207.1,44.73 L207.6,44.71 L208.1,44.68 L208.6,44.90 L209.1,45.12 L209.6,45.33 L210.1,45.48 L210.6,45.62 L211.1,45.76 L211.6,46.08 L212.1,46.40 L212.6,46.72 L213.1,46.67 L213.6,46.60 L214.1,46.45 L214.6,46.56 L215.1,46.62 L215.6,46.69 L216.1,46.47 L216.6,46.25 L217.1,46.02 L217.6,45.88 L218.1,45.76 L218.6,45.76 L219.1,45.87 L219.6,46.01 L220.1,46.15 L220.6,46.35 L221.1,46.57 L221.6,46.90 L222.1,47.02 L222.6,47.15 L223.1,47.28 L223.6,47.72 L224.1,48.15 L224.6,48.59 L225.1,49.29 L225.6,49.98 L226.1,50.65 L226.6,50.77 L227.1,50.89 L227.6,51.00 L228.1,51.61 L228.6,52.21 L229.1,52.81 L229.6,52.92 L230.1,53.02 L230.6,53.13 L231.1,53.60 L231.6,54.01 L232.1,54.28 L232.6,54.34 L233.1,54.40 L233.6,54.47 L234.1,54.52 L234.6,54.58 L235.1,54.66 L235.6,54.81 L236.1,54.96 L236.6,55.12 L237.1,55.28 L237.6,55.44 L238.1,55.60 L238.6,55.80 L238.6,55.80 Z" fill="rgba(255,40,40,0.45)" stroke="none"/>
<line x1="170.50" y1="55.80" x2="264.50" y2="55.80" stroke="#ffa8a8" stroke-width="1.1"/>
<path d="M190.1,55.80 L190.1,55.80 L190.6,54.76 L191.1,53.11 L191.6,51.47 L192.1,50.02 L192.6,48.28 L193.1,46.46 L193.6,44.68 L194.1,44.15 L194.6,43.93 L195.1,43.63 L195.6,43.32 L196.1,43.02 L196.6,43.04 L197.1,43.19 L197.6,43.38 L198.1,43.64 L198.6,43.91 L199.1,44.17 L199.6,44.20 L200.1,44.22 L200.6,44.23 L201.1,44.42 L201.6,44.48 L202.1,44.52 L202.6,44.23 L203.1,43.93 L203.6,43.64 L204.1,43.65 L204.6,43.67 L205.1,43.71 L205.6,43.99 L206.1,44.36 L206.6,44.76 L207.1,44.73 L207.6,44.71 L208.1,44.68 L208.6,44.90 L209.1,45.12 L209.6,45.33 L210.1,45.48 L210.6,45.62 L211.1,45.76 L211.6,46.08 L212.1,46.40 L212.6,46.72 L213.1,46.67 L213.6,46.60 L214.1,46.45 L214.6,46.56 L215.1,46.62 L215.6,46.69 L216.1,46.47 L216.6,46.25 L217.1,46.02 L217.6,45.88 L218.1,45.76 L218.6,45.76 L219.1,45.87 L219.6,46.01 L220.1,46.15 L220.6,46.35 L221.1,46.57 L221.6,46.90 L222.1,47.02 L222.6,47.15 L223.1,47.28 L223.6,47.72 L224.1,48.15 L224.6,48.59 L225.1,49.29 L225.6,49.98 L226.1,50.65 L226.6,50.77 L227.1,50.89 L227.6,51.00 L228.1,51.61 L228.6,52.21 L229.1,52.81 L229.6,52.92 L230.1,53.02 L230.6,53.13 L231.1,53.60 L231.6,54.01 L232.1,54.28 L232.6,54.34 L233.1,54.40 L233.6,54.47 L234.1,54.52 L234.6,54.58 L235.1,54.66 L235.6,54.81 L236.1,54.96 L236.6,55.12 L237.1,55.28 L237.6,55.44 L238.1,55.60 L238.6,55.80" fill="none" stroke="#ff1414" stroke-width="1.4000000000000001" stroke-linejoin="round"/>
<path d="M188.8,66.30 L188.8,66.30 L189.3,65.35 L189.8,64.44 L190.3,63.47 L190.8,61.99 L191.3,60.11 L191.8,58.19 L192.3,56.47 L192.8,54.92 L193.3,53.54 L193.8,52.88 L194.3,53.29 L194.8,53.97 L195.3,54.89 L195.8,55.98 L196.3,57.06 L196.8,58.12 L197.3,59.04 L197.8,59.94 L198.3,60.72 L198.8,61.50 L199.3,62.24 L199.8,62.98 L200.3,63.56 L200.8,64.11 L201.3,64.44 L201.8,64.74 L202.3,64.92 L202.8,65.19 L203.3,65.45 L203.8,65.68 L204.3,65.85 L204.8,65.98 L205.3,66.11 L205.8,66.30 L205.8,66.30 Z" fill="rgba(26,130,255,0.42)" stroke="none"/>
<line x1="170.50" y1="66.30" x2="264.50" y2="66.30" stroke="#8cc2ff" stroke-width="1.1"/>
<path d="M188.8,66.30 L188.8,66.30 L189.3,65.35 L189.8,64.44 L190.3,63.47 L190.8,61.99 L191.3,60.11 L191.8,58.19 L192.3,56.47 L192.8,54.92 L193.3,53.54 L193.8,52.88 L194.3,53.29 L194.8,53.97 L195.3,54.89 L195.8,55.98 L196.3,57.06 L196.8,58.12 L197.3,59.04 L197.8,59.94 L198.3,60.72 L198.8,61.50 L199.3,62.24 L199.8,62.98 L200.3,63.56 L200.8,64.11 L201.3,64.44 L201.8,64.74 L202.3,64.92 L202.8,65.19 L203.3,65.45 L203.8,65.68 L204.3,65.85 L204.8,65.98 L205.3,66.11 L205.8,66.30" fill="none" stroke="#1a82ff" stroke-width="1.4000000000000001" stroke-linejoin="round"/>
<path d="M188.6,76.50 L188.6,76.50 L189.1,75.66 L189.6,74.69 L190.1,73.57 L190.6,72.09 L191.1,70.21 L191.6,68.31 L192.1,66.69 L192.6,65.28 L193.1,64.05 L193.6,63.42 L194.1,63.77 L194.6,64.35 L195.1,65.13 L195.6,66.09 L196.1,67.10 L196.6,68.03 L197.1,68.88 L197.6,69.59 L198.1,70.34 L198.6,71.09 L199.1,71.84 L199.6,72.50 L200.1,73.00 L200.6,73.37 L201.1,73.73 L201.6,74.07 L202.1,74.37 L202.6,74.63 L203.1,74.87 L203.6,75.11 L204.1,75.30 L204.6,75.49 L205.1,75.67 L205.6,75.77 L206.1,75.92 L206.6,76.09 L207.1,76.50 L207.1,76.50 Z" fill="rgba(26,130,255,0.42)" stroke="none"/>
<line x1="170.50" y1="76.50" x2="264.50" y2="76.50" stroke="#8cc2ff" stroke-width="1.1"/>
<path d="M188.6,76.50 L188.6,76.50 L189.1,75.66 L189.6,74.69 L190.1,73.57 L190.6,72.09 L191.1,70.21 L191.6,68.31 L192.1,66.69 L192.6,65.28 L193.1,64.05 L193.6,63.42 L194.1,63.77 L194.6,64.35 L195.1,65.13 L195.6,66.09 L196.1,67.10 L196.6,68.03 L197.1,68.88 L197.6,69.59 L198.1,70.34 L198.6,71.09 L199.1,71.84 L199.6,72.50 L200.1,73.00 L200.6,73.37 L201.1,73.73 L201.6,74.07 L202.1,74.37 L202.6,74.63 L203.1,74.87 L203.6,75.11 L204.1,75.30 L204.6,75.49 L205.1,75.67 L205.6,75.77 L206.1,75.92 L206.6,76.09 L207.1,76.50" fill="none" stroke="#1a82ff" stroke-width="1.4000000000000001" stroke-linejoin="round"/>
<path d="M189.0,86.60 L189.0,86.60 L189.5,85.82 L190.0,85.09 L190.5,84.25 L191.0,82.97 L191.5,81.31 L192.0,79.56 L192.5,78.06 L193.0,76.95 L193.5,76.03 L194.0,75.00 L194.5,74.18 L195.0,74.27 L195.5,74.87 L196.0,75.53 L196.5,76.19 L197.0,76.78 L197.5,77.38 L198.0,77.98 L198.5,78.73 L199.0,79.45 L199.5,80.07 L200.0,80.44 L200.5,80.80 L201.0,81.17 L201.5,81.82 L202.0,82.46 L202.5,83.07 L203.0,83.50 L203.5,83.93 L204.0,84.36 L204.5,84.69 L205.0,84.96 L205.5,85.01 L206.0,85.07 L206.5,85.13 L207.0,85.21 L207.5,85.34 L208.0,85.47 L208.5,85.59 L209.0,85.70 L209.5,85.79 L210.0,85.87 L210.5,85.99 L211.0,86.10 L211.5,86.20 L212.0,86.26 L212.5,86.32 L213.0,86.39 L213.5,86.45 L214.0,86.51 L214.5,86.60 L214.5,86.60 Z" fill="rgba(26,130,255,0.42)" stroke="none"/>
<line x1="170.50" y1="86.60" x2="264.50" y2="86.60" stroke="#8cc2ff" stroke-width="1.1"/>
<path d="M189.0,86.60 L189.0,86.60 L189.5,85.82 L190.0,85.09 L190.5,84.25 L191.0,82.97 L191.5,81.31 L192.0,79.56 L192.5,78.06 L193.0,76.95 L193.5,76.03 L194.0,75.00 L194.5,74.18 L195.0,74.27 L195.5,74.87 L196.0,75.53 L196.5,76.19 L197.0,76.78 L197.5,77.38 L198.0,77.98 L198.5,78.73 L199.0,79.45 L199.5,80.07 L200.0,80.44 L200.5,80.80 L201.0,81.17 L201.5,81.82 L202.0,82.46 L202.5,83.07 L203.0,83.50 L203.5,83.93 L204.0,84.36 L204.5,84.69 L205.0,84.96 L205.5,85.01 L206.0,85.07 L206.5,85.13 L207.0,85.21 L207.5,85.34 L208.0,85.47 L208.5,85.59 L209.0,85.70 L209.5,85.79 L210.0,85.87 L210.5,85.99 L211.0,86.10 L211.5,86.20 L212.0,86.26 L212.5,86.32 L213.0,86.39 L213.5,86.45 L214.0,86.51 L214.5,86.60" fill="none" stroke="#1a82ff" stroke-width="1.4000000000000001" stroke-linejoin="round"/>
<path d="M189.4,97.20 L189.4,97.20 L189.9,96.25 L190.4,95.26 L190.9,94.13 L191.4,92.48 L191.9,90.55 L192.4,88.68 L192.9,87.23 L193.4,85.97 L193.9,84.90 L194.4,84.64 L194.9,85.49 L195.4,86.59 L195.9,87.92 L196.4,89.29 L196.9,90.62 L197.4,91.44 L197.9,92.13 L198.4,92.80 L198.9,93.63 L199.4,94.22 L199.9,94.71 L200.4,95.18 L200.9,95.61 L201.4,95.87 L201.9,95.87 L202.4,95.87 L202.9,95.88 L203.4,96.05 L203.9,96.21 L204.4,96.36 L204.9,96.38 L205.4,96.39 L205.9,96.40 L206.4,96.49 L206.9,96.58 L207.4,96.66 L207.9,96.75 L208.4,96.84 L208.9,96.91 L209.4,96.95 L209.9,96.99 L210.4,97.04 L210.9,97.12 L211.4,97.20 L211.4,97.20 Z" fill="rgba(26,130,255,0.42)" stroke="none"/>
<line x1="170.50" y1="97.20" x2="264.50" y2="97.20" stroke="#8cc2ff" stroke-width="1.1"/>
<path d="M189.4,97.20 L189.4,97.20 L189.9,96.25 L190.4,95.26 L190.9,94.13 L191.4,92.48 L191.9,90.55 L192.4,88.68 L192.9,87.23 L193.4,85.97 L193.9,84.90 L194.4,84.64 L194.9,85.49 L195.4,86.59 L195.9,87.92 L196.4,89.29 L196.9,90.62 L197.4,91.44 L197.9,92.13 L198.4,92.80 L198.9,93.63 L199.4,94.22 L199.9,94.71 L200.4,95.18 L200.9,95.61 L201.4,95.87 L201.9,95.87 L202.4,95.87 L202.9,95.88 L203.4,96.05 L203.9,96.21 L204.4,96.36 L204.9,96.38 L205.4,96.39 L205.9,96.40 L206.4,96.49 L206.9,96.58 L207.4,96.66 L207.9,96.75 L208.4,96.84 L208.9,96.91 L209.4,96.95 L209.9,96.99 L210.4,97.04 L210.9,97.12 L211.4,97.20" fill="none" stroke="#1a82ff" stroke-width="1.4000000000000001" stroke-linejoin="round"/>
<path d="M189.4,107.60 L189.4,107.60 L189.9,106.79 L190.4,105.87 L190.9,104.68 L191.4,102.57 L191.9,100.11 L192.4,97.94 L192.9,96.25 L193.4,95.16 L193.9,96.13 L194.4,97.71 L194.9,99.67 L195.4,101.62 L195.9,102.87 L196.4,103.89 L196.9,104.68 L197.4,105.42 L197.9,106.03 L198.4,106.44 L198.9,106.65 L199.4,106.87 L199.9,107.08 L200.4,107.22 L200.9,107.33 L201.4,107.45 L201.9,107.60 L201.9,107.60 Z" fill="rgba(26,130,255,0.42)" stroke="none"/>
<line x1="170.50" y1="107.60" x2="264.50" y2="107.60" stroke="#8cc2ff" stroke-width="1.1"/>
<path d="M189.4,107.60 L189.4,107.60 L189.9,106.79 L190.4,105.87 L190.9,104.68 L191.4,102.57 L191.9,100.11 L192.4,97.94 L192.9,96.25 L193.4,95.16 L193.9,96.13 L194.4,97.71 L194.9,99.67 L195.4,101.62 L195.9,102.87 L196.4,103.89 L196.9,104.68 L197.4,105.42 L197.9,106.03 L198.4,106.44 L198.9,106.65 L199.4,106.87 L199.9,107.08 L200.4,107.22 L200.9,107.33 L201.4,107.45 L201.9,107.60" fill="none" stroke="#1a82ff" stroke-width="1.4000000000000001" stroke-linejoin="round"/>
<path d="M191.0,117.20 L191.0,117.20 L191.5,116.67 L192.0,116.09 L192.5,115.46 L193.0,114.80 L193.5,113.84 L194.0,112.81 L194.5,112.15 L195.0,111.56 L195.5,111.21 L196.0,110.65 L196.5,110.10 L197.0,109.54 L197.5,108.72 L198.0,107.97 L198.5,107.50 L199.0,107.50 L199.5,107.50 L200.0,107.49 L200.5,107.19 L201.0,106.95 L201.5,106.87 L202.0,106.92 L202.5,106.97 L203.0,107.02 L203.5,107.51 L204.0,108.05 L204.5,108.63 L205.0,108.71 L205.5,108.79 L206.0,108.87 L206.5,109.15 L207.0,109.28 L207.5,109.30 L208.0,109.14 L208.5,108.99 L209.0,108.83 L209.5,108.45 L210.0,108.08 L210.5,107.70 L211.0,107.94 L211.5,108.19 L212.0,108.43 L212.5,108.31 L213.0,108.48 L213.5,108.78 L214.0,109.28 L214.5,109.78 L215.0,110.29 L215.5,110.71 L216.0,111.14 L216.5,111.56 L217.0,111.90 L217.5,112.07 L218.0,112.21 L218.5,112.36 L219.0,112.51 L219.5,112.66 L220.0,112.43 L220.5,112.20 L221.0,111.97 L221.5,112.13 L222.0,112.30 L222.5,112.47 L223.0,112.76 L223.5,113.08 L224.0,113.39 L224.5,113.35 L225.0,113.31 L225.5,113.28 L226.0,113.40 L226.5,113.55 L227.0,113.70 L227.5,114.24 L228.0,114.78 L228.5,115.32 L229.0,115.36 L229.5,115.40 L230.0,115.42 L230.5,115.76 L231.0,116.05 L231.5,116.32 L232.0,116.28 L232.5,116.26 L233.0,116.23 L233.5,116.25 L234.0,116.27 L234.5,116.29 L235.0,116.30 L235.5,116.32 L236.0,116.35 L236.5,116.36 L237.0,116.38 L237.5,116.41 L238.0,116.53 L238.5,116.64 L239.0,116.74 L239.5,116.80 L240.0,116.85 L240.5,116.89 L241.0,116.88 L241.5,116.89 L242.0,116.91 L242.5,116.99 L243.0,117.05 L243.5,117.11 L244.0,117.14 L244.5,117.20 L244.5,117.20 Z" fill="rgba(255,40,40,0.45)" stroke="none"/>
<line x1="170.50" y1="117.20" x2="264.50" y2="117.20" stroke="#ffa8a8" stroke-width="1.1"/>
<path d="M191.0,117.20 L191.0,117.20 L191.5,116.67 L192.0,116.09 L192.5,115.46 L193.0,114.80 L193.5,113.84 L194.0,112.81 L194.5,112.15 L195.0,111.56 L195.5,111.21 L196.0,110.65 L196.5,110.10 L197.0,109.54 L197.5,108.72 L198.0,107.97 L198.5,107.50 L199.0,107.50 L199.5,107.50 L200.0,107.49 L200.5,107.19 L201.0,106.95 L201.5,106.87 L202.0,106.92 L202.5,106.97 L203.0,107.02 L203.5,107.51 L204.0,108.05 L204.5,108.63 L205.0,108.71 L205.5,108.79 L206.0,108.87 L206.5,109.15 L207.0,109.28 L207.5,109.30 L208.0,109.14 L208.5,108.99 L209.0,108.83 L209.5,108.45 L210.0,108.08 L210.5,107.70 L211.0,107.94 L211.5,108.19 L212.0,108.43 L212.5,108.31 L213.0,108.48 L213.5,108.78 L214.0,109.28 L214.5,109.78 L215.0,110.29 L215.5,110.71 L216.0,111.14 L216.5,111.56 L217.0,111.90 L217.5,112.07 L218.0,112.21 L218.5,112.36 L219.0,112.51 L219.5,112.66 L220.0,112.43 L220.5,112.20 L221.0,111.97 L221.5,112.13 L222.0,112.30 L222.5,112.47 L223.0,112.76 L223.5,113.08 L224.0,113.39 L224.5,113.35 L225.0,113.31 L225.5,113.28 L226.0,113.40 L226.5,113.55 L227.0,113.70 L227.5,114.24 L228.0,114.78 L228.5,115.32 L229.0,115.36 L229.5,115.40 L230.0,115.42 L230.5,115.76 L231.0,116.05 L231.5,116.32 L232.0,116.28 L232.5,116.26 L233.0,116.23 L233.5,116.25 L234.0,116.27 L234.5,116.29 L235.0,116.30 L235.5,116.32 L236.0,116.35 L236.5,116.36 L237.0,116.38 L237.5,116.41 L238.0,116.53 L238.5,116.64 L239.0,116.74 L239.5,116.80 L240.0,116.85 L240.5,116.89 L241.0,116.88 L241.5,116.89 L242.0,116.91 L242.5,116.99 L243.0,117.05 L243.5,117.11 L244.0,117.14 L244.5,117.20" fill="none" stroke="#ff1414" stroke-width="1.4000000000000001" stroke-linejoin="round"/>
<rect x="170.50" y="23.20" width="94.00" height="94.00" fill="none" stroke="#9a9a9a" stroke-width="1"/>
<line x1="179.25" y1="117.20" x2="179.25" y2="119.60" stroke="#111" stroke-width="0.7"/>
<text x="179.25" y="125.00" font-size="4.4" text-anchor="middle" fill="#333">-10<tspan dy="-1.5" font-size="3.5">3</tspan></text>
<line x1="193.68" y1="117.20" x2="193.68" y2="119.60" stroke="#111" stroke-width="0.7"/>
<text x="193.68" y="125.00" font-size="4.4" text-anchor="middle" fill="#333">0</text>
<line x1="209.69" y1="117.20" x2="209.69" y2="119.60" stroke="#111" stroke-width="0.7"/>
<text x="209.69" y="125.00" font-size="4.4" text-anchor="middle" fill="#333">10<tspan dy="-1.5" font-size="3.5">3</tspan></text>
<line x1="234.46" y1="117.20" x2="234.46" y2="119.60" stroke="#111" stroke-width="0.7"/>
<text x="234.46" y="125.00" font-size="4.4" text-anchor="middle" fill="#333">10<tspan dy="-1.5" font-size="3.5">4</tspan></text>
<line x1="256.84" y1="117.20" x2="256.84" y2="119.60" stroke="#111" stroke-width="0.7"/>
<text x="256.84" y="125.00" font-size="4.4" text-anchor="middle" fill="#333">10<tspan dy="-1.5" font-size="3.5">5</tspan></text>
<line x1="182.44" y1="117.20" x2="182.44" y2="118.50" stroke="#555" stroke-width="0.5"/>
<line x1="185.42" y1="117.20" x2="185.42" y2="118.50" stroke="#555" stroke-width="0.5"/>
<line x1="187.91" y1="117.20" x2="187.91" y2="118.50" stroke="#555" stroke-width="0.5"/>
<line x1="189.90" y1="117.20" x2="189.90" y2="118.50" stroke="#555" stroke-width="0.5"/>
<line x1="191.39" y1="117.20" x2="191.39" y2="118.50" stroke="#555" stroke-width="0.5"/>
<line x1="192.38" y1="117.20" x2="192.38" y2="118.50" stroke="#555" stroke-width="0.5"/>
<line x1="194.87" y1="117.20" x2="194.87" y2="118.50" stroke="#555" stroke-width="0.5"/>
<line x1="195.87" y1="117.20" x2="195.87" y2="118.50" stroke="#555" stroke-width="0.5"/>
<line x1="197.36" y1="117.20" x2="197.36" y2="118.50" stroke="#555" stroke-width="0.5"/>
<line x1="199.35" y1="117.20" x2="199.35" y2="118.50" stroke="#555" stroke-width="0.5"/>
<line x1="201.83" y1="117.20" x2="201.83" y2="118.50" stroke="#555" stroke-width="0.5"/>
<line x1="205.31" y1="117.20" x2="205.31" y2="118.50" stroke="#555" stroke-width="0.5"/>
<line x1="215.26" y1="117.20" x2="215.26" y2="118.50" stroke="#555" stroke-width="0.5"/>
<line x1="220.24" y1="117.20" x2="220.24" y2="118.50" stroke="#555" stroke-width="0.5"/>
<line x1="224.21" y1="117.20" x2="224.21" y2="118.50" stroke="#555" stroke-width="0.5"/>
<line x1="227.20" y1="117.20" x2="227.20" y2="118.50" stroke="#555" stroke-width="0.5"/>
<line x1="229.19" y1="117.20" x2="229.19" y2="118.50" stroke="#555" stroke-width="0.5"/>
<line x1="231.18" y1="117.20" x2="231.18" y2="118.50" stroke="#555" stroke-width="0.5"/>
<line x1="232.67" y1="117.20" x2="232.67" y2="118.50" stroke="#555" stroke-width="0.5"/>
<line x1="240.13" y1="117.20" x2="240.13" y2="118.50" stroke="#555" stroke-width="0.5"/>
<line x1="245.10" y1="117.20" x2="245.10" y2="118.50" stroke="#555" stroke-width="0.5"/>
<line x1="249.08" y1="117.20" x2="249.08" y2="118.50" stroke="#555" stroke-width="0.5"/>
<line x1="252.07" y1="117.20" x2="252.07" y2="118.50" stroke="#555" stroke-width="0.5"/>
<line x1="254.06" y1="117.20" x2="254.06" y2="118.50" stroke="#555" stroke-width="0.5"/>
<line x1="255.55" y1="117.20" x2="255.55" y2="118.50" stroke="#555" stroke-width="0.5"/>
<rect x="192.38" y="117.20" width="3.20" height="1.60" fill="#222" stroke="none" stroke-width="1"/>
<path d="M291.8,45.30 L291.8,45.30 L292.3,43.29 L292.8,41.06 L293.3,37.74 L293.8,34.38 L294.3,32.06 L294.8,31.10 L295.3,32.04 L295.8,33.49 L296.3,35.18 L296.8,36.80 L297.3,38.02 L297.8,39.14 L298.3,40.41 L298.8,41.57 L299.3,42.36 L299.8,42.95 L300.3,43.51 L300.8,43.95 L301.3,44.35 L301.8,44.69 L302.3,44.91 L302.8,45.02 L303.3,45.13 L303.8,45.30 L303.8,45.30 Z" fill="rgba(26,130,255,0.42)" stroke="none"/>
<line x1="272.50" y1="45.30" x2="366.50" y2="45.30" stroke="#8cc2ff" stroke-width="1.1"/>
<path d="M291.8,45.30 L291.8,45.30 L292.3,43.29 L292.8,41.06 L293.3,37.74 L293.8,34.38 L294.3,32.06 L294.8,31.10 L295.3,32.04 L295.8,33.49 L296.3,35.18 L296.8,36.80 L297.3,38.02 L297.8,39.14 L298.3,40.41 L298.8,41.57 L299.3,42.36 L299.8,42.95 L300.3,43.51 L300.8,43.95 L301.3,44.35 L301.8,44.69 L302.3,44.91 L302.8,45.02 L303.3,45.13 L303.8,45.30" fill="none" stroke="#1a82ff" stroke-width="1.4000000000000001" stroke-linejoin="round"/>
<path d="M292.5,55.80 L292.5,55.80 L293.0,55.37 L293.5,54.85 L294.0,54.24 L294.5,53.90 L295.0,53.65 L295.5,53.39 L296.0,53.01 L296.5,52.65 L297.0,52.42 L297.5,52.33 L298.0,52.25 L298.5,52.16 L299.0,51.78 L299.5,51.39 L300.0,50.95 L300.5,50.69 L301.0,50.32 L301.5,49.94 L302.0,49.03 L302.5,48.14 L303.0,47.34 L303.5,47.34 L304.0,47.37 L304.5,47.39 L305.0,46.74 L305.5,46.09 L306.0,45.45 L306.5,45.57 L307.0,45.74 L307.5,46.02 L308.0,46.19 L308.5,46.55 L309.0,46.75 L309.5,46.66 L310.0,46.48 L310.5,46.30 L311.0,45.97 L311.5,45.64 L312.0,45.23 L312.5,45.03 L313.0,44.84 L313.5,44.65 L314.0,44.65 L314.5,44.66 L315.0,44.73 L315.5,44.64 L316.0,44.62 L316.5,44.60 L317.0,44.63 L317.5,44.65 L318.0,44.69 L318.5,45.15 L319.0,45.61 L319.5,46.07 L320.0,45.91 L320.5,45.76 L321.0,45.57 L321.5,45.57 L322.0,45.48 L322.5,45.36 L323.0,45.18 L323.5,45.02 L324.0,45.05 L324.5,45.73 L325.0,46.46 L325.5,47.24 L326.0,47.60 L326.5,48.01 L327.0,48.41 L327.5,49.19 L328.0,49.95 L328.5,50.65 L329.0,50.93 L329.5,51.19 L330.0,51.46 L330.5,52.05 L331.0,52.64 L331.5,53.19 L332.0,53.89 L332.5,54.49 L333.0,55.03 L333.5,54.81 L334.0,54.73 L334.5,54.78 L335.0,55.10 L335.5,55.29 L336.0,55.40 L336.5,55.51 L337.0,55.61 L337.5,55.69 L338.0,55.72 L338.5,55.80 L338.5,55.80 Z" fill="rgba(255,40,40,0.45)" stroke="none"/>
<line x1="272.50" y1="55.80" x2="366.50" y2="55.80" stroke="#ffa8a8" stroke-width="1.1"/>
<path d="M292.5,55.80 L292.5,55.80 L293.0,55.37 L293.5,54.85 L294.0,54.24 L294.5,53.90 L295.0,53.65 L295.5,53.39 L296.0,53.01 L296.5,52.65 L297.0,52.42 L297.5,52.33 L298.0,52.25 L298.5,52.16 L299.0,51.78 L299.5,51.39 L300.0,50.95 L300.5,50.69 L301.0,50.32 L301.5,49.94 L302.0,49.03 L302.5,48.14 L303.0,47.34 L303.5,47.34 L304.0,47.37 L304.5,47.39 L305.0,46.74 L305.5,46.09 L306.0,45.45 L306.5,45.57 L307.0,45.74 L307.5,46.02 L308.0,46.19 L308.5,46.55 L309.0,46.75 L309.5,46.66 L310.0,46.48 L310.5,46.30 L311.0,45.97 L311.5,45.64 L312.0,45.23 L312.5,45.03 L313.0,44.84 L313.5,44.65 L314.0,44.65 L314.5,44.66 L315.0,44.73 L315.5,44.64 L316.0,44.62 L316.5,44.60 L317.0,44.63 L317.5,44.65 L318.0,44.69 L318.5,45.15 L319.0,45.61 L319.5,46.07 L320.0,45.91 L320.5,45.76 L321.0,45.57 L321.5,45.57 L322.0,45.48 L322.5,45.36 L323.0,45.18 L323.5,45.02 L324.0,45.05 L324.5,45.73 L325.0,46.46 L325.5,47.24 L326.0,47.60 L326.5,48.01 L327.0,48.41 L327.5,49.19 L328.0,49.95 L328.5,50.65 L329.0,50.93 L329.5,51.19 L330.0,51.46 L330.5,52.05 L331.0,52.64 L331.5,53.19 L332.0,53.89 L332.5,54.49 L333.0,55.03 L333.5,54.81 L334.0,54.73 L334.5,54.78 L335.0,55.10 L335.5,55.29 L336.0,55.40 L336.5,55.51 L337.0,55.61 L337.5,55.69 L338.0,55.72 L338.5,55.80" fill="none" stroke="#ff1414" stroke-width="1.4000000000000001" stroke-linejoin="round"/>
<path d="M292.6,66.30 L292.6,66.30 L293.1,62.64 L293.6,58.96 L294.1,54.42 L294.6,50.35 L295.1,48.12 L295.6,49.51 L296.1,51.84 L296.6,54.35 L297.1,56.77 L297.6,58.65 L298.1,60.38 L298.6,62.01 L299.1,63.38 L299.6,64.14 L300.1,64.45 L300.6,64.59 L301.1,64.73 L301.6,64.87 L302.1,65.05 L302.6,65.23 L303.1,65.39 L303.6,65.53 L304.1,65.67 L304.6,65.82 L305.1,66.01 L305.6,66.30 L305.6,66.30 Z" fill="rgba(26,130,255,0.42)" stroke="none"/>
<line x1="272.50" y1="66.30" x2="366.50" y2="66.30" stroke="#8cc2ff" stroke-width="1.1"/>
<path d="M292.6,66.30 L292.6,66.30 L293.1,62.64 L293.6,58.96 L294.1,54.42 L294.6,50.35 L295.1,48.12 L295.6,49.51 L296.1,51.84 L296.6,54.35 L297.1,56.77 L297.6,58.65 L298.1,60.38 L298.6,62.01 L299.1,63.38 L299.6,64.14 L300.1,64.45 L300.6,64.59 L301.1,64.73 L301.6,64.87 L302.1,65.05 L302.6,65.23 L303.1,65.39 L303.6,65.53 L304.1,65.67 L304.6,65.82 L305.1,66.01 L305.6,66.30" fill="none" stroke="#1a82ff" stroke-width="1.4000000000000001" stroke-linejoin="round"/>
<path d="M290.8,76.50 L290.8,76.50 L291.3,74.91 L291.8,72.96 L292.3,70.38 L292.8,67.68 L293.3,65.29 L293.8,63.57 L294.3,63.28 L294.8,64.29 L295.3,65.52 L295.8,66.88 L296.3,68.15 L296.8,69.08 L297.3,69.86 L297.8,70.73 L298.3,71.77 L298.8,72.63 L299.3,73.20 L299.8,73.55 L300.3,73.92 L300.8,74.29 L301.3,74.66 L301.8,74.98 L302.3,75.17 L302.8,75.27 L303.3,75.29 L303.8,75.33 L304.3,75.37 L304.8,75.45 L305.3,75.54 L305.8,75.62 L306.3,75.76 L306.8,75.88 L307.3,75.97 L307.8,76.01 L308.3,76.04 L308.8,76.07 L309.3,76.12 L309.8,76.17 L310.3,76.21 L310.8,76.27 L311.3,76.32 L311.8,76.38 L312.3,76.43 L312.8,76.50 L312.8,76.50 Z" fill="rgba(26,130,255,0.42)" stroke="none"/>
<line x1="272.50" y1="76.50" x2="366.50" y2="76.50" stroke="#8cc2ff" stroke-width="1.1"/>
<path d="M290.8,76.50 L290.8,76.50 L291.3,74.91 L291.8,72.96 L292.3,70.38 L292.8,67.68 L293.3,65.29 L293.8,63.57 L294.3,63.28 L294.8,64.29 L295.3,65.52 L295.8,66.88 L296.3,68.15 L296.8,69.08 L297.3,69.86 L297.8,70.73 L298.3,71.77 L298.8,72.63 L299.3,73.20 L299.8,73.55 L300.3,73.92 L300.8,74.29 L301.3,74.66 L301.8,74.98 L302.3,75.17 L302.8,75.27 L303.3,75.29 L303.8,75.33 L304.3,75.37 L304.8,75.45 L305.3,75.54 L305.8,75.62 L306.3,75.76 L306.8,75.88 L307.3,75.97 L307.8,76.01 L308.3,76.04 L308.8,76.07 L309.3,76.12 L309.8,76.17 L310.3,76.21 L310.8,76.27 L311.3,76.32 L311.8,76.38 L312.3,76.43 L312.8,76.50" fill="none" stroke="#1a82ff" stroke-width="1.4000000000000001" stroke-linejoin="round"/>
<path d="M290.9,86.60 L290.9,86.60 L291.4,85.46 L291.9,84.19 L292.4,82.79 L292.9,80.94 L293.4,78.89 L293.9,76.87 L294.4,75.17 L294.9,73.65 L295.4,72.64 L295.9,72.35 L296.4,72.82 L296.9,74.07 L297.4,75.29 L297.9,76.09 L298.4,76.69 L298.9,77.41 L299.4,78.12 L299.9,78.83 L300.4,79.43 L300.9,80.01 L301.4,80.59 L301.9,81.28 L302.4,81.97 L302.9,82.65 L303.4,83.15 L303.9,83.43 L304.4,83.54 L304.9,83.83 L305.4,84.12 L305.9,84.41 L306.4,84.54 L306.9,84.67 L307.4,84.80 L307.9,84.87 L308.4,84.99 L308.9,85.15 L309.4,85.52 L309.9,85.85 L310.4,86.12 L310.9,86.22 L311.4,86.24 L311.9,86.23 L312.4,86.24 L312.9,86.25 L313.4,86.27 L313.9,86.26 L314.4,86.26 L314.9,86.26 L315.4,86.26 L315.9,86.26 L316.4,86.25 L316.9,86.25 L317.4,86.24 L317.9,86.23 L318.4,86.23 L318.9,86.24 L319.4,86.25 L319.9,86.28 L320.4,86.34 L320.9,86.40 L321.4,86.44 L321.9,86.49 L322.4,86.53 L322.9,86.60 L322.9,86.60 Z" fill="rgba(26,130,255,0.42)" stroke="none"/>
<line x1="272.50" y1="86.60" x2="366.50" y2="86.60" stroke="#8cc2ff" stroke-width="1.1"/>
<path d="M290.9,86.60 L290.9,86.60 L291.4,85.46 L291.9,84.19 L292.4,82.79 L292.9,80.94 L293.4,78.89 L293.9,76.87 L294.4,75.17 L294.9,73.65 L295.4,72.64 L295.9,72.35 L296.4,72.82 L296.9,74.07 L297.4,75.29 L297.9,76.09 L298.4,76.69 L298.9,77.41 L299.4,78.12 L299.9,78.83 L300.4,79.43 L300.9,80.01 L301.4,80.59 L301.9,81.28 L302.4,81.97 L302.9,82.65 L303.4,83.15 L303.9,83.43 L304.4,83.54 L304.9,83.83 L305.4,84.12 L305.9,84.41 L306.4,84.54 L306.9,84.67 L307.4,84.80 L307.9,84.87 L308.4,84.99 L308.9,85.15 L309.4,85.52 L309.9,85.85 L310.4,86.12 L310.9,86.22 L311.4,86.24 L311.9,86.23 L312.4,86.24 L312.9,86.25 L313.4,86.27 L313.9,86.26 L314.4,86.26 L314.9,86.26 L315.4,86.26 L315.9,86.26 L316.4,86.25 L316.9,86.25 L317.4,86.24 L317.9,86.23 L318.4,86.23 L318.9,86.24 L319.4,86.25 L319.9,86.28 L320.4,86.34 L320.9,86.40 L321.4,86.44 L321.9,86.49 L322.4,86.53 L322.9,86.60" fill="none" stroke="#1a82ff" stroke-width="1.4000000000000001" stroke-linejoin="round"/>
<path d="M290.9,97.20 L290.9,97.20 L291.4,95.92 L291.9,94.54 L292.4,93.27 L292.9,92.13 L293.4,91.10 L293.9,90.57 L294.4,90.50 L294.9,90.49 L295.4,90.45 L295.9,90.28 L296.4,90.09 L296.9,89.91 L297.4,89.63 L297.9,89.36 L298.4,89.11 L298.9,89.10 L299.4,89.33 L299.9,89.62 L300.4,89.97 L300.9,90.35 L301.4,90.74 L301.9,91.01 L302.4,91.27 L302.9,91.57 L303.4,91.98 L303.9,92.40 L304.4,92.82 L304.9,93.26 L305.4,93.70 L305.9,94.14 L306.4,94.47 L306.9,94.65 L307.4,94.78 L307.9,94.92 L308.4,95.06 L308.9,95.19 L309.4,95.39 L309.9,95.55 L310.4,95.65 L310.9,95.65 L311.4,95.64 L311.9,95.64 L312.4,95.75 L312.9,95.86 L313.4,95.96 L313.9,96.03 L314.4,96.09 L314.9,96.16 L315.4,96.11 L315.9,96.06 L316.4,96.03 L316.9,96.17 L317.4,96.34 L317.9,96.51 L318.4,96.62 L318.9,96.73 L319.4,96.84 L319.9,96.94 L320.4,97.04 L320.9,97.20 L320.9,97.20 Z" fill="rgba(26,130,255,0.42)" stroke="none"/>
<line x1="272.50" y1="97.20" x2="366.50" y2="97.20" stroke="#8cc2ff" stroke-width="1.1"/>
<path d="M290.9,97.20 L290.9,97.20 L291.4,95.92 L291.9,94.54 L292.4,93.27 L292.9,92.13 L293.4,91.10 L293.9,90.57 L294.4,90.50 L294.9,90.49 L295.4,90.45 L295.9,90.28 L296.4,90.09 L296.9,89.91 L297.4,89.63 L297.9,89.36 L298.4,89.11 L298.9,89.10 L299.4,89.33 L299.9,89.62 L300.4,89.97 L300.9,90.35 L301.4,90.74 L301.9,91.01 L302.4,91.27 L302.9,91.57 L303.4,91.98 L303.9,92.40 L304.4,92.82 L304.9,93.26 L305.4,93.70 L305.9,94.14 L306.4,94.47 L306.9,94.65 L307.4,94.78 L307.9,94.92 L308.4,95.06 L308.9,95.19 L309.4,95.39 L309.9,95.55 L310.4,95.65 L310.9,95.65 L311.4,95.64 L311.9,95.64 L312.4,95.75 L312.9,95.86 L313.4,95.96 L313.9,96.03 L314.4,96.09 L314.9,96.16 L315.4,96.11 L315.9,96.06 L316.4,96.03 L316.9,96.17 L317.4,96.34 L317.9,96.51 L318.4,96.62 L318.9,96.73 L319.4,96.84 L319.9,96.94 L320.4,97.04 L320.9,97.20" fill="none" stroke="#1a82ff" stroke-width="1.4000000000000001" stroke-linejoin="round"/>
<path d="M290.9,107.60 L290.9,107.60 L291.4,106.06 L291.9,104.48 L292.4,102.80 L292.9,100.75 L293.4,98.50 L293.9,96.39 L294.4,94.87 L294.9,93.75 L295.4,93.14 L295.9,93.71 L296.4,94.56 L296.9,95.64 L297.4,96.65 L297.9,97.67 L298.4,98.67 L298.9,99.76 L299.4,100.84 L299.9,101.92 L300.4,102.89 L300.9,103.77 L301.4,104.30 L301.9,104.69 L302.4,105.06 L302.9,105.41 L303.4,105.79 L303.9,106.02 L304.4,106.23 L304.9,106.15 L305.4,106.09 L305.9,106.03 L306.4,106.18 L306.9,106.22 L307.4,106.24 L307.9,105.97 L308.4,105.70 L308.9,105.43 L309.4,105.45 L309.9,105.54 L310.4,105.77 L310.9,105.76 L311.4,105.76 L311.9,105.76 L312.4,105.93 L312.9,106.11 L313.4,106.26 L313.9,106.30 L314.4,106.33 L314.9,106.37 L315.4,106.39 L315.9,106.42 L316.4,106.45 L316.9,106.44 L317.4,106.44 L317.9,106.44 L318.4,106.54 L318.9,106.64 L319.4,106.73 L319.9,106.71 L320.4,106.70 L320.9,106.70 L321.4,106.81 L321.9,106.92 L322.4,107.02 L322.9,107.04 L323.4,107.05 L323.9,107.07 L324.4,107.09 L324.9,107.10 L325.4,107.12 L325.9,107.16 L326.4,107.20 L326.9,107.24 L327.4,107.27 L327.9,107.30 L328.4,107.33 L328.9,107.37 L329.4,107.42 L329.9,107.46 L330.4,107.50 L330.9,107.54 L331.4,107.60 L331.4,107.60 Z" fill="rgba(26,130,255,0.42)" stroke="none"/>
<line x1="272.50" y1="107.60" x2="366.50" y2="107.60" stroke="#8cc2ff" stroke-width="1.1"/>
<path d="M290.9,107.60 L290.9,107.60 L291.4,106.06 L291.9,104.48 L292.4,102.80 L292.9,100.75 L293.4,98.50 L293.9,96.39 L294.4,94.87 L294.9,93.75 L295.4,93.14 L295.9,93.71 L296.4,94.56 L296.9,95.64 L297.4,96.65 L297.9,97.67 L298.4,98.67 L298.9,99.76 L299.4,100.84 L299.9,101.92 L300.4,102.89 L300.9,103.77 L301.4,104.30 L301.9,104.69 L302.4,105.06 L302.9,105.41 L303.4,105.79 L303.9,106.02 L304.4,106.23 L304.9,106.15 L305.4,106.09 L305.9,106.03 L306.4,106.18 L306.9,106.22 L307.4,106.24 L307.9,105.97 L308.4,105.70 L308.9,105.43 L309.4,105.45 L309.9,105.54 L310.4,105.77 L310.9,105.76 L311.4,105.76 L311.9,105.76 L312.4,105.93 L312.9,106.11 L313.4,106.26 L313.9,106.30 L314.4,106.33 L314.9,106.37 L315.4,106.39 L315.9,106.42 L316.4,106.45 L316.9,106.44 L317.4,106.44 L317.9,106.44 L318.4,106.54 L318.9,106.64 L319.4,106.73 L319.9,106.71 L320.4,106.70 L320.9,106.70 L321.4,106.81 L321.9,106.92 L322.4,107.02 L322.9,107.04 L323.4,107.05 L323.9,107.07 L324.4,107.09 L324.9,107.10 L325.4,107.12 L325.9,107.16 L326.4,107.20 L326.9,107.24 L327.4,107.27 L327.9,107.30 L328.4,107.33 L328.9,107.37 L329.4,107.42 L329.9,107.46 L330.4,107.50 L330.9,107.54 L331.4,107.60" fill="none" stroke="#1a82ff" stroke-width="1.4000000000000001" stroke-linejoin="round"/>
<path d="M296.2,117.20 L296.2,117.20 L296.7,116.87 L297.2,116.61 L297.7,116.41 L298.2,115.99 L298.7,115.50 L299.2,114.99 L299.7,114.75 L300.2,114.51 L300.7,114.26 L301.2,113.94 L301.7,113.57 L302.2,113.19 L302.7,112.95 L303.2,112.73 L303.7,112.59 L304.2,112.27 L304.7,111.98 L305.2,111.70 L305.7,111.48 L306.2,111.13 L306.7,110.22 L307.2,109.36 L307.7,108.53 L308.2,108.06 L308.7,107.79 L309.2,107.61 L309.7,107.46 L310.2,107.52 L310.7,107.61 L311.2,107.72 L311.7,107.50 L312.2,107.27 L312.7,106.99 L313.2,106.92 L313.7,106.84 L314.2,106.77 L314.7,106.65 L315.2,106.56 L315.7,106.62 L316.2,106.88 L316.7,107.18 L317.2,107.48 L317.7,107.86 L318.2,108.01 L318.7,108.11 L319.2,108.03 L319.7,107.96 L320.2,107.89 L320.7,108.27 L321.2,108.65 L321.7,109.07 L322.2,109.15 L322.7,109.47 L323.2,109.83 L323.7,110.37 L324.2,110.91 L324.7,111.42 L325.2,111.78 L325.7,112.11 L326.2,112.43 L326.7,112.69 L327.2,112.89 L327.7,112.85 L328.2,112.71 L328.7,112.55 L329.2,112.40 L329.7,112.14 L330.2,111.88 L330.7,111.62 L331.2,111.77 L331.7,111.97 L332.2,112.43 L332.7,112.68 L333.2,112.93 L333.7,113.18 L334.2,113.20 L334.7,113.21 L335.2,113.21 L335.7,113.86 L336.2,114.50 L336.7,115.14 L337.2,115.42 L337.7,115.70 L338.2,115.99 L338.7,116.26 L339.2,116.46 L339.7,116.60 L340.2,116.48 L340.7,116.35 L341.2,116.21 L341.7,116.28 L342.2,116.35 L342.7,116.42 L343.2,116.51 L343.7,116.59 L344.2,116.68 L344.7,116.78 L345.2,116.88 L345.7,116.96 L346.2,116.95 L346.7,116.96 L347.2,116.98 L347.7,117.07 L348.2,117.13 L348.7,117.20 L348.7,117.20 Z" fill="rgba(255,40,40,0.45)" stroke="none"/>
<line x1="272.50" y1="117.20" x2="366.50" y2="117.20" stroke="#ffa8a8" stroke-width="1.1"/>
<path d="M296.2,117.20 L296.2,117.20 L296.7,116.87 L297.2,116.61 L297.7,116.41 L298.2,115.99 L298.7,115.50 L299.2,114.99 L299.7,114.75 L300.2,114.51 L300.7,114.26 L301.2,113.94 L301.7,113.57 L302.2,113.19 L302.7,112.95 L303.2,112.73 L303.7,112.59 L304.2,112.27 L304.7,111.98 L305.2,111.70 L305.7,111.48 L306.2,111.13 L306.7,110.22 L307.2,109.36 L307.7,108.53 L308.2,108.06 L308.7,107.79 L309.2,107.61 L309.7,107.46 L310.2,107.52 L310.7,107.61 L311.2,107.72 L311.7,107.50 L312.2,107.27 L312.7,106.99 L313.2,106.92 L313.7,106.84 L314.2,106.77 L314.7,106.65 L315.2,106.56 L315.7,106.62 L316.2,106.88 L316.7,107.18 L317.2,107.48 L317.7,107.86 L318.2,108.01 L318.7,108.11 L319.2,108.03 L319.7,107.96 L320.2,107.89 L320.7,108.27 L321.2,108.65 L321.7,109.07 L322.2,109.15 L322.7,109.47 L323.2,109.83 L323.7,110.37 L324.2,110.91 L324.7,111.42 L325.2,111.78 L325.7,112.11 L326.2,112.43 L326.7,112.69 L327.2,112.89 L327.7,112.85 L328.2,112.71 L328.7,112.55 L329.2,112.40 L329.7,112.14 L330.2,111.88 L330.7,111.62 L331.2,111.77 L331.7,111.97 L332.2,112.43 L332.7,112.68 L333.2,112.93 L333.7,113.18 L334.2,113.20 L334.7,113.21 L335.2,113.21 L335.7,113.86 L336.2,114.50 L336.7,115.14 L337.2,115.42 L337.7,115.70 L338.2,115.99 L338.7,116.26 L339.2,116.46 L339.7,116.60 L340.2,116.48 L340.7,116.35 L341.2,116.21 L341.7,116.28 L342.2,116.35 L342.7,116.42 L343.2,116.51 L343.7,116.59 L344.2,116.68 L344.7,116.78 L345.2,116.88 L345.7,116.96 L346.2,116.95 L346.7,116.96 L347.2,116.98 L347.7,117.07 L348.2,117.13 L348.7,117.20" fill="none" stroke="#ff1414" stroke-width="1.4000000000000001" stroke-linejoin="round"/>
<rect x="272.50" y="23.20" width="94.00" height="94.00" fill="none" stroke="#9a9a9a" stroke-width="1"/>
<line x1="281.25" y1="117.20" x2="281.25" y2="119.60" stroke="#111" stroke-width="0.7"/>
<text x="281.25" y="125.00" font-size="4.4" text-anchor="middle" fill="#333">-10<tspan dy="-1.5" font-size="3.5">3</tspan></text>
<line x1="295.68" y1="117.20" x2="295.68" y2="119.60" stroke="#111" stroke-width="0.7"/>
<text x="295.68" y="125.00" font-size="4.4" text-anchor="middle" fill="#333">0</text>
<line x1="311.69" y1="117.20" x2="311.69" y2="119.60" stroke="#111" stroke-width="0.7"/>
<text x="311.69" y="125.00" font-size="4.4" text-anchor="middle" fill="#333">10<tspan dy="-1.5" font-size="3.5">3</tspan></text>
<line x1="336.46" y1="117.20" x2="336.46" y2="119.60" stroke="#111" stroke-width="0.7"/>
<text x="336.46" y="125.00" font-size="4.4" text-anchor="middle" fill="#333">10<tspan dy="-1.5" font-size="3.5">4</tspan></text>
<line x1="358.84" y1="117.20" x2="358.84" y2="119.60" stroke="#111" stroke-width="0.7"/>
<text x="358.84" y="125.00" font-size="4.4" text-anchor="middle" fill="#333">10<tspan dy="-1.5" font-size="3.5">5</tspan></text>
<line x1="284.44" y1="117.20" x2="284.44" y2="118.50" stroke="#555" stroke-width="0.5"/>
<line x1="287.42" y1="117.20" x2="287.42" y2="118.50" stroke="#555" stroke-width="0.5"/>
<line x1="289.91" y1="117.20" x2="289.91" y2="118.50" stroke="#555" stroke-width="0.5"/>
<line x1="291.90" y1="117.20" x2="291.90" y2="118.50" stroke="#555" stroke-width="0.5"/>
<line x1="293.39" y1="117.20" x2="293.39" y2="118.50" stroke="#555" stroke-width="0.5"/>
<line x1="294.38" y1="117.20" x2="294.38" y2="118.50" stroke="#555" stroke-width="0.5"/>
<line x1="296.87" y1="117.20" x2="296.87" y2="118.50" stroke="#555" stroke-width="0.5"/>
<line x1="297.87" y1="117.20" x2="297.87" y2="118.50" stroke="#555" stroke-width="0.5"/>
<line x1="299.36" y1="117.20" x2="299.36" y2="118.50" stroke="#555" stroke-width="0.5"/>
<line x1="301.35" y1="117.20" x2="301.35" y2="118.50" stroke="#555" stroke-width="0.5"/>
<line x1="303.83" y1="117.20" x2="303.83" y2="118.50" stroke="#555" stroke-width="0.5"/>
<line x1="307.31" y1="117.20" x2="307.31" y2="118.50" stroke="#555" stroke-width="0.5"/>
<line x1="317.26" y1="117.20" x2="317.26" y2="118.50" stroke="#555" stroke-width="0.5"/>
<line x1="322.24" y1="117.20" x2="322.24" y2="118.50" stroke="#555" stroke-width="0.5"/>
<line x1="326.21" y1="117.20" x2="326.21" y2="118.50" stroke="#555" stroke-width="0.5"/>
<line x1="329.20" y1="117.20" x2="329.20" y2="118.50" stroke="#555" stroke-width="0.5"/>
<line x1="331.19" y1="117.20" x2="331.19" y2="118.50" stroke="#555" stroke-width="0.5"/>
<line x1="333.18" y1="117.20" x2="333.18" y2="118.50" stroke="#555" stroke-width="0.5"/>
<line x1="334.67" y1="117.20" x2="334.67" y2="118.50" stroke="#555" stroke-width="0.5"/>
<line x1="342.13" y1="117.20" x2="342.13" y2="118.50" stroke="#555" stroke-width="0.5"/>
<line x1="347.10" y1="117.20" x2="347.10" y2="118.50" stroke="#555" stroke-width="0.5"/>
<line x1="351.08" y1="117.20" x2="351.08" y2="118.50" stroke="#555" stroke-width="0.5"/>
<line x1="354.07" y1="117.20" x2="354.07" y2="118.50" stroke="#555" stroke-width="0.5"/>
<line x1="356.06" y1="117.20" x2="356.06" y2="118.50" stroke="#555" stroke-width="0.5"/>
<line x1="357.55" y1="117.20" x2="357.55" y2="118.50" stroke="#555" stroke-width="0.5"/>
<rect x="294.38" y="117.20" width="3.20" height="1.60" fill="#222" stroke="none" stroke-width="1"/>
<text x="-0.30" y="165.20" font-size="16" text-anchor="start" font-weight="bold" fill="#000">b</text>
<text x="61.30" y="196.40" font-size="10" text-anchor="end" fill="#1c1c1c">Ctrl</text>
<text x="61.30" y="206.64" font-size="10" text-anchor="end" fill="#1c1c1c">PDAC #1</text>
<text x="61.30" y="216.88" font-size="10" text-anchor="end" fill="#1c1c1c">PDAC #2</text>
<text x="61.30" y="227.12" font-size="10" text-anchor="end" fill="#1c1c1c">PDAC #3</text>
<text x="61.30" y="237.36" font-size="10" text-anchor="end" fill="#1c1c1c">PDAC #10</text>
<text x="61.30" y="247.60" font-size="10" text-anchor="end" fill="#1c1c1c">PDAC #12</text>
<text x="61.30" y="257.84" font-size="10" text-anchor="end" fill="#1c1c1c">PDAC #13</text>
<text x="61.30" y="268.08" font-size="10" text-anchor="end" fill="#1c1c1c">PDAC #14</text>
<text x="111.90" y="168.00" font-size="10" text-anchor="middle" fill="#1c1c1c">Ctrl</text>
<text x="217.30" y="168.00" font-size="10" text-anchor="middle" fill="#1c1c1c">CD19 CAR-T</text>
<text x="317.30" y="168.00" font-size="10" text-anchor="middle" fill="#1c1c1c">mC2 CAR-T</text>
<path d="M101.8,197.50 L101.8,197.50 L102.3,197.48 L102.8,197.47 L103.3,197.45 L103.8,197.43 L104.3,197.41 L104.8,197.39 L105.3,197.37 L105.8,197.36 L106.3,197.34 L106.8,197.32 L107.3,197.30 L107.8,197.28 L108.3,197.26 L108.8,197.25 L109.3,197.24 L109.8,197.21 L110.3,197.19 L110.8,197.16 L111.3,197.14 L111.8,197.12 L112.3,197.07 L112.8,197.03 L113.3,196.98 L113.8,196.94 L114.3,196.87 L114.8,196.80 L115.3,196.73 L115.8,196.71 L116.3,196.69 L116.8,196.68 L117.3,196.65 L117.8,196.61 L118.3,196.57 L118.8,196.48 L119.3,196.39 L119.8,196.30 L120.3,196.24 L120.8,196.19 L121.3,196.14 L121.8,196.11 L122.3,196.07 L122.8,196.04 L123.3,196.00 L123.8,195.96 L124.3,195.90 L124.8,195.88 L125.3,195.85 L125.8,195.82 L126.3,195.70 L126.8,195.58 L127.3,195.46 L127.8,195.30 L128.3,195.15 L128.8,194.97 L129.3,194.88 L129.8,194.78 L130.3,194.67 L130.8,194.45 L131.3,194.13 L131.8,193.62 L132.3,193.10 L132.8,192.43 L133.3,191.21 L133.8,189.76 L134.3,188.29 L134.8,186.68 L135.3,185.16 L135.8,183.63 L136.3,182.21 L136.8,181.18 L137.3,180.36 L137.8,179.62 L138.3,179.30 L138.8,179.94 L139.3,180.81 L139.8,181.75 L140.3,183.19 L140.8,185.03 L141.3,187.03 L141.8,188.98 L142.3,190.70 L142.8,192.29 L143.3,193.79 L143.8,194.85 L144.3,195.74 L144.8,196.55 L145.3,196.96 L145.8,197.50 L145.8,197.50 Z" fill="rgba(26,130,255,0.27)" stroke="none"/>
<line x1="67.50" y1="197.50" x2="161.50" y2="197.50" stroke="#8cc2ff" stroke-width="1.0"/>
<path d="M101.8,197.50 L101.8,197.50 L102.3,197.48 L102.8,197.47 L103.3,197.45 L103.8,197.43 L104.3,197.41 L104.8,197.39 L105.3,197.37 L105.8,197.36 L106.3,197.34 L106.8,197.32 L107.3,197.30 L107.8,197.28 L108.3,197.26 L108.8,197.25 L109.3,197.24 L109.8,197.21 L110.3,197.19 L110.8,197.16 L111.3,197.14 L111.8,197.12 L112.3,197.07 L112.8,197.03 L113.3,196.98 L113.8,196.94 L114.3,196.87 L114.8,196.80 L115.3,196.73 L115.8,196.71 L116.3,196.69 L116.8,196.68 L117.3,196.65 L117.8,196.61 L118.3,196.57 L118.8,196.48 L119.3,196.39 L119.8,196.30 L120.3,196.24 L120.8,196.19 L121.3,196.14 L121.8,196.11 L122.3,196.07 L122.8,196.04 L123.3,196.00 L123.8,195.96 L124.3,195.90 L124.8,195.88 L125.3,195.85 L125.8,195.82 L126.3,195.70 L126.8,195.58 L127.3,195.46 L127.8,195.30 L128.3,195.15 L128.8,194.97 L129.3,194.88 L129.8,194.78 L130.3,194.67 L130.8,194.45 L131.3,194.13 L131.8,193.62 L132.3,193.10 L132.8,192.43 L133.3,191.21 L133.8,189.76 L134.3,188.29 L134.8,186.68 L135.3,185.16 L135.8,183.63 L136.3,182.21 L136.8,181.18 L137.3,180.36 L137.8,179.62 L138.3,179.30 L138.8,179.94 L139.3,180.81 L139.8,181.75 L140.3,183.19 L140.8,185.03 L141.3,187.03 L141.8,188.98 L142.3,190.70 L142.8,192.29 L143.3,193.79 L143.8,194.85 L144.3,195.74 L144.8,196.55 L145.3,196.96 L145.8,197.50" fill="none" stroke="#1a82ff" stroke-width="1.3" stroke-linejoin="round"/>
<path d="M97.9,208.10 L97.9,208.10 L98.4,208.08 L98.9,208.07 L99.4,208.05 L99.9,208.03 L100.4,208.01 L100.9,207.99 L101.4,207.97 L101.9,207.95 L102.4,207.93 L102.9,207.91 L103.4,207.90 L103.9,207.88 L104.4,207.87 L104.9,207.85 L105.4,207.84 L105.9,207.82 L106.4,207.79 L106.9,207.76 L107.4,207.75 L107.9,207.75 L108.4,207.75 L108.9,207.71 L109.4,207.66 L109.9,207.62 L110.4,207.59 L110.9,207.57 L111.4,207.55 L111.9,207.54 L112.4,207.53 L112.9,207.52 L113.4,207.47 L113.9,207.41 L114.4,207.34 L114.9,207.33 L115.4,207.31 L115.9,207.30 L116.4,207.30 L116.9,207.29 L117.4,207.29 L117.9,207.21 L118.4,207.12 L118.9,207.03 L119.4,206.99 L119.9,206.95 L120.4,206.91 L120.9,206.88 L121.4,206.84 L121.9,206.81 L122.4,206.81 L122.9,206.82 L123.4,206.83 L123.9,206.72 L124.4,206.61 L124.9,206.45 L125.4,206.32 L125.9,206.19 L126.4,206.06 L126.9,205.96 L127.4,205.87 L127.9,205.78 L128.4,205.74 L128.9,205.69 L129.4,205.58 L129.9,205.36 L130.4,205.15 L130.9,204.93 L131.4,204.75 L131.9,204.36 L132.4,203.92 L132.9,203.28 L133.4,202.16 L133.9,200.82 L134.4,199.49 L134.9,198.05 L135.4,196.54 L135.9,194.95 L136.4,193.44 L136.9,192.30 L137.4,191.50 L137.9,190.75 L138.4,190.28 L138.9,190.84 L139.4,191.67 L139.9,192.58 L140.4,193.91 L140.9,195.73 L141.4,197.65 L141.9,199.54 L142.4,201.24 L142.9,202.84 L143.4,204.29 L143.9,205.38 L144.4,206.20 L144.9,206.98 L145.4,207.46 L145.9,207.79 L146.4,208.10 L146.4,208.10 Z" fill="rgba(26,130,255,0.27)" stroke="none"/>
<line x1="67.50" y1="208.10" x2="161.50" y2="208.10" stroke="#8cc2ff" stroke-width="1.0"/>
<path d="M97.9,208.10 L97.9,208.10 L98.4,208.08 L98.9,208.07 L99.4,208.05 L99.9,208.03 L100.4,208.01 L100.9,207.99 L101.4,207.97 L101.9,207.95 L102.4,207.93 L102.9,207.91 L103.4,207.90 L103.9,207.88 L104.4,207.87 L104.9,207.85 L105.4,207.84 L105.9,207.82 L106.4,207.79 L106.9,207.76 L107.4,207.75 L107.9,207.75 L108.4,207.75 L108.9,207.71 L109.4,207.66 L109.9,207.62 L110.4,207.59 L110.9,207.57 L111.4,207.55 L111.9,207.54 L112.4,207.53 L112.9,207.52 L113.4,207.47 L113.9,207.41 L114.4,207.34 L114.9,207.33 L115.4,207.31 L115.9,207.30 L116.4,207.30 L116.9,207.29 L117.4,207.29 L117.9,207.21 L118.4,207.12 L118.9,207.03 L119.4,206.99 L119.9,206.95 L120.4,206.91 L120.9,206.88 L121.4,206.84 L121.9,206.81 L122.4,206.81 L122.9,206.82 L123.4,206.83 L123.9,206.72 L124.4,206.61 L124.9,206.45 L125.4,206.32 L125.9,206.19 L126.4,206.06 L126.9,205.96 L127.4,205.87 L127.9,205.78 L128.4,205.74 L128.9,205.69 L129.4,205.58 L129.9,205.36 L130.4,205.15 L130.9,204.93 L131.4,204.75 L131.9,204.36 L132.4,203.92 L132.9,203.28 L133.4,202.16 L133.9,200.82 L134.4,199.49 L134.9,198.05 L135.4,196.54 L135.9,194.95 L136.4,193.44 L136.9,192.30 L137.4,191.50 L137.9,190.75 L138.4,190.28 L138.9,190.84 L139.4,191.67 L139.9,192.58 L140.4,193.91 L140.9,195.73 L141.4,197.65 L141.9,199.54 L142.4,201.24 L142.9,202.84 L143.4,204.29 L143.9,205.38 L144.4,206.20 L144.9,206.98 L145.4,207.46 L145.9,207.79 L146.4,208.10" fill="none" stroke="#1a82ff" stroke-width="1.3" stroke-linejoin="round"/>
<path d="M101.9,218.30 L101.9,218.30 L102.4,218.28 L102.9,218.27 L103.4,218.25 L103.9,218.23 L104.4,218.21 L104.9,218.19 L105.4,218.18 L105.9,218.16 L106.4,218.15 L106.9,218.13 L107.4,218.11 L107.9,218.09 L108.4,218.07 L108.9,218.06 L109.4,218.04 L109.9,218.03 L110.4,218.01 L110.9,217.99 L111.4,217.97 L111.9,217.94 L112.4,217.88 L112.9,217.82 L113.4,217.76 L113.9,217.70 L114.4,217.67 L114.9,217.65 L115.4,217.63 L115.9,217.55 L116.4,217.47 L116.9,217.39 L117.4,217.36 L117.9,217.32 L118.4,217.28 L118.9,217.25 L119.4,217.21 L119.9,217.18 L120.4,217.12 L120.9,217.06 L121.4,217.00 L121.9,216.95 L122.4,216.89 L122.9,216.84 L123.4,216.80 L123.9,216.76 L124.4,216.70 L124.9,216.62 L125.4,216.54 L125.9,216.46 L126.4,216.33 L126.9,216.20 L127.4,216.06 L127.9,215.97 L128.4,215.87 L128.9,215.74 L129.4,215.60 L129.9,215.45 L130.4,215.29 L130.9,215.13 L131.4,214.84 L131.9,214.40 L132.4,213.85 L132.9,213.07 L133.4,211.82 L133.9,210.47 L134.4,209.08 L134.9,207.55 L135.4,205.96 L135.9,204.38 L136.4,202.92 L136.9,201.94 L137.4,201.10 L137.9,200.36 L138.4,200.37 L138.9,201.16 L139.4,202.11 L139.9,203.07 L140.4,204.63 L140.9,206.47 L141.4,208.41 L141.9,210.27 L142.4,211.93 L142.9,213.56 L143.4,215.06 L143.9,216.06 L144.4,216.84 L144.9,217.48 L145.4,217.83 L145.9,218.30 L145.9,218.30 Z" fill="rgba(26,130,255,0.27)" stroke="none"/>
<line x1="67.50" y1="218.30" x2="161.50" y2="218.30" stroke="#8cc2ff" stroke-width="1.0"/>
<path d="M101.9,218.30 L101.9,218.30 L102.4,218.28 L102.9,218.27 L103.4,218.25 L103.9,218.23 L104.4,218.21 L104.9,218.19 L105.4,218.18 L105.9,218.16 L106.4,218.15 L106.9,218.13 L107.4,218.11 L107.9,218.09 L108.4,218.07 L108.9,218.06 L109.4,218.04 L109.9,218.03 L110.4,218.01 L110.9,217.99 L111.4,217.97 L111.9,217.94 L112.4,217.88 L112.9,217.82 L113.4,217.76 L113.9,217.70 L114.4,217.67 L114.9,217.65 L115.4,217.63 L115.9,217.55 L116.4,217.47 L116.9,217.39 L117.4,217.36 L117.9,217.32 L118.4,217.28 L118.9,217.25 L119.4,217.21 L119.9,217.18 L120.4,217.12 L120.9,217.06 L121.4,217.00 L121.9,216.95 L122.4,216.89 L122.9,216.84 L123.4,216.80 L123.9,216.76 L124.4,216.70 L124.9,216.62 L125.4,216.54 L125.9,216.46 L126.4,216.33 L126.9,216.20 L127.4,216.06 L127.9,215.97 L128.4,215.87 L128.9,215.74 L129.4,215.60 L129.9,215.45 L130.4,215.29 L130.9,215.13 L131.4,214.84 L131.9,214.40 L132.4,213.85 L132.9,213.07 L133.4,211.82 L133.9,210.47 L134.4,209.08 L134.9,207.55 L135.4,205.96 L135.9,204.38 L136.4,202.92 L136.9,201.94 L137.4,201.10 L137.9,200.36 L138.4,200.37 L138.9,201.16 L139.4,202.11 L139.9,203.07 L140.4,204.63 L140.9,206.47 L141.4,208.41 L141.9,210.27 L142.4,211.93 L142.9,213.56 L143.4,215.06 L143.9,216.06 L144.4,216.84 L144.9,217.48 L145.4,217.83 L145.9,218.30" fill="none" stroke="#1a82ff" stroke-width="1.3" stroke-linejoin="round"/>
<path d="M95.9,228.40 L95.9,228.40 L96.4,228.38 L96.9,228.37 L97.4,228.35 L97.9,228.33 L98.4,228.31 L98.9,228.29 L99.4,228.27 L99.9,228.25 L100.4,228.23 L100.9,228.21 L101.4,228.19 L101.9,228.17 L102.4,228.15 L102.9,228.14 L103.4,228.13 L103.9,228.11 L104.4,228.10 L104.9,228.09 L105.4,228.06 L105.9,228.03 L106.4,227.99 L106.9,227.97 L107.4,227.95 L107.9,227.93 L108.4,227.91 L108.9,227.88 L109.4,227.86 L109.9,227.84 L110.4,227.82 L110.9,227.80 L111.4,227.77 L111.9,227.75 L112.4,227.72 L112.9,227.71 L113.4,227.71 L113.9,227.71 L114.4,227.68 L114.9,227.64 L115.4,227.61 L115.9,227.57 L116.4,227.52 L116.9,227.46 L117.4,227.43 L117.9,227.40 L118.4,227.38 L118.9,227.32 L119.4,227.25 L119.9,227.19 L120.4,227.14 L120.9,227.09 L121.4,227.04 L121.9,227.06 L122.4,227.08 L122.9,227.11 L123.4,227.07 L123.9,227.02 L124.4,226.96 L124.9,226.80 L125.4,226.64 L125.9,226.48 L126.4,226.36 L126.9,226.24 L127.4,226.12 L127.9,226.06 L128.4,225.99 L128.9,225.89 L129.4,225.70 L129.9,225.50 L130.4,225.30 L130.9,225.10 L131.4,224.78 L131.9,224.31 L132.4,223.79 L132.9,223.05 L133.4,221.83 L133.9,220.44 L134.4,219.00 L134.9,217.42 L135.4,215.85 L135.9,214.27 L136.4,212.82 L136.9,211.87 L137.4,211.06 L137.9,210.35 L138.4,210.30 L138.9,211.03 L139.4,211.94 L139.9,213.03 L140.4,214.74 L140.9,216.73 L141.4,218.60 L141.9,220.38 L142.4,221.97 L142.9,223.56 L143.4,225.03 L143.9,225.99 L144.4,226.82 L144.9,227.54 L145.4,227.92 L145.9,228.40 L145.9,228.40 Z" fill="rgba(26,130,255,0.27)" stroke="none"/>
<line x1="67.50" y1="228.40" x2="161.50" y2="228.40" stroke="#8cc2ff" stroke-width="1.0"/>
<path d="M95.9,228.40 L95.9,228.40 L96.4,228.38 L96.9,228.37 L97.4,228.35 L97.9,228.33 L98.4,228.31 L98.9,228.29 L99.4,228.27 L99.9,228.25 L100.4,228.23 L100.9,228.21 L101.4,228.19 L101.9,228.17 L102.4,228.15 L102.9,228.14 L103.4,228.13 L103.9,228.11 L104.4,228.10 L104.9,228.09 L105.4,228.06 L105.9,228.03 L106.4,227.99 L106.9,227.97 L107.4,227.95 L107.9,227.93 L108.4,227.91 L108.9,227.88 L109.4,227.86 L109.9,227.84 L110.4,227.82 L110.9,227.80 L111.4,227.77 L111.9,227.75 L112.4,227.72 L112.9,227.71 L113.4,227.71 L113.9,227.71 L114.4,227.68 L114.9,227.64 L115.4,227.61 L115.9,227.57 L116.4,227.52 L116.9,227.46 L117.4,227.43 L117.9,227.40 L118.4,227.38 L118.9,227.32 L119.4,227.25 L119.9,227.19 L120.4,227.14 L120.9,227.09 L121.4,227.04 L121.9,227.06 L122.4,227.08 L122.9,227.11 L123.4,227.07 L123.9,227.02 L124.4,226.96 L124.9,226.80 L125.4,226.64 L125.9,226.48 L126.4,226.36 L126.9,226.24 L127.4,226.12 L127.9,226.06 L128.4,225.99 L128.9,225.89 L129.4,225.70 L129.9,225.50 L130.4,225.30 L130.9,225.10 L131.4,224.78 L131.9,224.31 L132.4,223.79 L132.9,223.05 L133.4,221.83 L133.9,220.44 L134.4,219.00 L134.9,217.42 L135.4,215.85 L135.9,214.27 L136.4,212.82 L136.9,211.87 L137.4,211.06 L137.9,210.35 L138.4,210.30 L138.9,211.03 L139.4,211.94 L139.9,213.03 L140.4,214.74 L140.9,216.73 L141.4,218.60 L141.9,220.38 L142.4,221.97 L142.9,223.56 L143.4,225.03 L143.9,225.99 L144.4,226.82 L144.9,227.54 L145.4,227.92 L145.9,228.40" fill="none" stroke="#1a82ff" stroke-width="1.3" stroke-linejoin="round"/>
<path d="M91.9,238.60 L91.9,238.60 L92.4,238.58 L92.9,238.57 L93.4,238.55 L93.9,238.53 L94.4,238.52 L94.9,238.51 L95.4,238.49 L95.9,238.47 L96.4,238.46 L96.9,238.43 L97.4,238.41 L97.9,238.39 L98.4,238.37 L98.9,238.36 L99.4,238.35 L99.9,238.33 L100.4,238.31 L100.9,238.29 L101.4,238.28 L101.9,238.27 L102.4,238.26 L102.9,238.23 L103.4,238.19 L103.9,238.16 L104.4,238.15 L104.9,238.14 L105.4,238.13 L105.9,238.12 L106.4,238.11 L106.9,238.10 L107.4,238.08 L107.9,238.06 L108.4,238.05 L108.9,238.04 L109.4,238.04 L109.9,238.04 L110.4,238.01 L110.9,237.98 L111.4,237.95 L111.9,237.92 L112.4,237.90 L112.9,237.88 L113.4,237.89 L113.9,237.90 L114.4,237.91 L114.9,237.90 L115.4,237.89 L115.9,237.87 L116.4,237.84 L116.9,237.78 L117.4,237.72 L117.9,237.70 L118.4,237.68 L118.9,237.66 L119.4,237.60 L119.9,237.54 L120.4,237.48 L120.9,237.45 L121.4,237.42 L121.9,237.39 L122.4,237.36 L122.9,237.34 L123.4,237.32 L123.9,237.26 L124.4,237.18 L124.9,237.07 L125.4,236.92 L125.9,236.77 L126.4,236.63 L126.9,236.55 L127.4,236.48 L127.9,236.41 L128.4,236.34 L128.9,236.26 L129.4,236.14 L129.9,235.98 L130.4,235.81 L130.9,235.65 L131.4,235.42 L131.9,235.01 L132.4,234.51 L132.9,233.83 L133.4,232.75 L133.9,231.37 L134.4,230.02 L134.9,228.60 L135.4,227.07 L135.9,225.51 L136.4,224.00 L136.9,222.78 L137.4,221.92 L137.9,221.13 L138.4,220.57 L138.9,220.91 L139.4,221.70 L139.9,222.58 L140.4,223.85 L140.9,225.72 L141.4,227.73 L141.9,229.57 L142.4,231.25 L142.9,232.81 L143.4,234.35 L143.9,235.62 L144.4,236.53 L144.9,237.37 L145.4,237.94 L145.9,238.27 L146.4,238.60 L146.4,238.60 Z" fill="rgba(26,130,255,0.27)" stroke="none"/>
<line x1="67.50" y1="238.60" x2="161.50" y2="238.60" stroke="#8cc2ff" stroke-width="1.0"/>
<path d="M91.9,238.60 L91.9,238.60 L92.4,238.58 L92.9,238.57 L93.4,238.55 L93.9,238.53 L94.4,238.52 L94.9,238.51 L95.4,238.49 L95.9,238.47 L96.4,238.46 L96.9,238.43 L97.4,238.41 L97.9,238.39 L98.4,238.37 L98.9,238.36 L99.4,238.35 L99.9,238.33 L100.4,238.31 L100.9,238.29 L101.4,238.28 L101.9,238.27 L102.4,238.26 L102.9,238.23 L103.4,238.19 L103.9,238.16 L104.4,238.15 L104.9,238.14 L105.4,238.13 L105.9,238.12 L106.4,238.11 L106.9,238.10 L107.4,238.08 L107.9,238.06 L108.4,238.05 L108.9,238.04 L109.4,238.04 L109.9,238.04 L110.4,238.01 L110.9,237.98 L111.4,237.95 L111.9,237.92 L112.4,237.90 L112.9,237.88 L113.4,237.89 L113.9,237.90 L114.4,237.91 L114.9,237.90 L115.4,237.89 L115.9,237.87 L116.4,237.84 L116.9,237.78 L117.4,237.72 L117.9,237.70 L118.4,237.68 L118.9,237.66 L119.4,237.60 L119.9,237.54 L120.4,237.48 L120.9,237.45 L121.4,237.42 L121.9,237.39 L122.4,237.36 L122.9,237.34 L123.4,237.32 L123.9,237.26 L124.4,237.18 L124.9,237.07 L125.4,236.92 L125.9,236.77 L126.4,236.63 L126.9,236.55 L127.4,236.48 L127.9,236.41 L128.4,236.34 L128.9,236.26 L129.4,236.14 L129.9,235.98 L130.4,235.81 L130.9,235.65 L131.4,235.42 L131.9,235.01 L132.4,234.51 L132.9,233.83 L133.4,232.75 L133.9,231.37 L134.4,230.02 L134.9,228.60 L135.4,227.07 L135.9,225.51 L136.4,224.00 L136.9,222.78 L137.4,221.92 L137.9,221.13 L138.4,220.57 L138.9,220.91 L139.4,221.70 L139.9,222.58 L140.4,223.85 L140.9,225.72 L141.4,227.73 L141.9,229.57 L142.4,231.25 L142.9,232.81 L143.4,234.35 L143.9,235.62 L144.4,236.53 L144.9,237.37 L145.4,237.94 L145.9,238.27 L146.4,238.60" fill="none" stroke="#1a82ff" stroke-width="1.3" stroke-linejoin="round"/>
<path d="M100.9,249.20 L100.9,249.20 L101.4,249.18 L101.9,249.16 L102.4,249.14 L102.9,249.12 L103.4,249.11 L103.9,249.09 L104.4,249.07 L104.9,249.05 L105.4,249.03 L105.9,249.01 L106.4,248.99 L106.9,248.98 L107.4,248.96 L107.9,248.95 L108.4,248.93 L108.9,248.91 L109.4,248.89 L109.9,248.87 L110.4,248.87 L110.9,248.86 L111.4,248.84 L111.9,248.80 L112.4,248.75 L112.9,248.70 L113.4,248.66 L113.9,248.61 L114.4,248.57 L114.9,248.54 L115.4,248.52 L115.9,248.50 L116.4,248.47 L116.9,248.43 L117.4,248.39 L117.9,248.34 L118.4,248.29 L118.9,248.24 L119.4,248.22 L119.9,248.20 L120.4,248.19 L120.9,248.11 L121.4,248.02 L121.9,247.94 L122.4,247.89 L122.9,247.85 L123.4,247.80 L123.9,247.78 L124.4,247.76 L124.9,247.72 L125.4,247.64 L125.9,247.55 L126.4,247.46 L126.9,247.30 L127.4,247.14 L127.9,246.98 L128.4,246.88 L128.9,246.79 L129.4,246.66 L129.9,246.52 L130.4,246.38 L130.9,246.24 L131.4,246.02 L131.9,245.68 L132.4,245.20 L132.9,244.67 L133.4,243.91 L133.9,242.68 L134.4,241.34 L134.9,239.96 L135.4,238.44 L135.9,236.83 L136.4,235.21 L136.9,233.72 L137.4,232.86 L137.9,232.13 L138.4,231.51 L138.9,231.42 L139.4,232.09 L139.9,232.93 L140.4,233.94 L140.9,235.55 L141.4,237.44 L141.9,239.39 L142.4,241.25 L142.9,242.91 L143.4,244.48 L143.9,245.92 L144.4,246.85 L144.9,247.67 L145.4,248.37 L145.9,248.74 L146.4,249.20 L146.4,249.20 Z" fill="rgba(26,130,255,0.27)" stroke="none"/>
<line x1="67.50" y1="249.20" x2="161.50" y2="249.20" stroke="#8cc2ff" stroke-width="1.0"/>
<path d="M100.9,249.20 L100.9,249.20 L101.4,249.18 L101.9,249.16 L102.4,249.14 L102.9,249.12 L103.4,249.11 L103.9,249.09 L104.4,249.07 L104.9,249.05 L105.4,249.03 L105.9,249.01 L106.4,248.99 L106.9,248.98 L107.4,248.96 L107.9,248.95 L108.4,248.93 L108.9,248.91 L109.4,248.89 L109.9,248.87 L110.4,248.87 L110.9,248.86 L111.4,248.84 L111.9,248.80 L112.4,248.75 L112.9,248.70 L113.4,248.66 L113.9,248.61 L114.4,248.57 L114.9,248.54 L115.4,248.52 L115.9,248.50 L116.4,248.47 L116.9,248.43 L117.4,248.39 L117.9,248.34 L118.4,248.29 L118.9,248.24 L119.4,248.22 L119.9,248.20 L120.4,248.19 L120.9,248.11 L121.4,248.02 L121.9,247.94 L122.4,247.89 L122.9,247.85 L123.4,247.80 L123.9,247.78 L124.4,247.76 L124.9,247.72 L125.4,247.64 L125.9,247.55 L126.4,247.46 L126.9,247.30 L127.4,247.14 L127.9,246.98 L128.4,246.88 L128.9,246.79 L129.4,246.66 L129.9,246.52 L130.4,246.38 L130.9,246.24 L131.4,246.02 L131.9,245.68 L132.4,245.20 L132.9,244.67 L133.4,243.91 L133.9,242.68 L134.4,241.34 L134.9,239.96 L135.4,238.44 L135.9,236.83 L136.4,235.21 L136.9,233.72 L137.4,232.86 L137.9,232.13 L138.4,231.51 L138.9,231.42 L139.4,232.09 L139.9,232.93 L140.4,233.94 L140.9,235.55 L141.4,237.44 L141.9,239.39 L142.4,241.25 L142.9,242.91 L143.4,244.48 L143.9,245.92 L144.4,246.85 L144.9,247.67 L145.4,248.37 L145.9,248.74 L146.4,249.20" fill="none" stroke="#1a82ff" stroke-width="1.3" stroke-linejoin="round"/>
<path d="M106.9,259.20 L106.9,259.20 L107.4,259.18 L107.9,259.17 L108.4,259.15 L108.9,259.13 L109.4,259.11 L109.9,259.10 L110.4,259.08 L110.9,259.06 L111.4,259.05 L111.9,259.03 L112.4,259.02 L112.9,259.01 L113.4,258.99 L113.9,258.98 L114.4,258.96 L114.9,258.94 L115.4,258.93 L115.9,258.91 L116.4,258.88 L116.9,258.76 L117.4,258.36 L117.9,258.27 L118.4,258.26 L118.9,258.25 L119.4,258.22 L119.9,258.20 L120.4,258.17 L120.9,258.06 L121.4,257.95 L121.9,257.83 L122.4,257.82 L122.9,257.80 L123.4,257.79 L123.9,257.77 L124.4,257.74 L124.9,257.70 L125.4,257.63 L125.9,257.56 L126.4,257.48 L126.9,257.30 L127.4,257.12 L127.9,256.95 L128.4,256.87 L128.9,256.80 L129.4,256.70 L129.9,256.51 L130.4,256.30 L130.9,256.10 L131.4,255.98 L131.9,255.77 L132.4,255.37 L132.9,254.79 L133.4,254.08 L133.9,252.80 L134.4,251.47 L134.9,250.12 L135.4,248.64 L135.9,247.06 L136.4,245.47 L136.9,243.99 L137.4,242.91 L137.9,242.04 L138.4,241.25 L138.9,240.96 L139.4,241.63 L139.9,242.52 L140.4,243.58 L140.9,245.14 L141.4,247.10 L141.9,249.05 L142.4,250.96 L142.9,252.63 L143.4,254.20 L143.9,255.67 L144.4,256.71 L144.9,257.54 L145.4,258.28 L145.9,258.65 L146.4,259.20 L146.4,259.20 Z" fill="rgba(26,130,255,0.27)" stroke="none"/>
<line x1="67.50" y1="259.20" x2="161.50" y2="259.20" stroke="#8cc2ff" stroke-width="1.0"/>
<path d="M106.9,259.20 L106.9,259.20 L107.4,259.18 L107.9,259.17 L108.4,259.15 L108.9,259.13 L109.4,259.11 L109.9,259.10 L110.4,259.08 L110.9,259.06 L111.4,259.05 L111.9,259.03 L112.4,259.02 L112.9,259.01 L113.4,258.99 L113.9,258.98 L114.4,258.96 L114.9,258.94 L115.4,258.93 L115.9,258.91 L116.4,258.88 L116.9,258.76 L117.4,258.36 L117.9,258.27 L118.4,258.26 L118.9,258.25 L119.4,258.22 L119.9,258.20 L120.4,258.17 L120.9,258.06 L121.4,257.95 L121.9,257.83 L122.4,257.82 L122.9,257.80 L123.4,257.79 L123.9,257.77 L124.4,257.74 L124.9,257.70 L125.4,257.63 L125.9,257.56 L126.4,257.48 L126.9,257.30 L127.4,257.12 L127.9,256.95 L128.4,256.87 L128.9,256.80 L129.4,256.70 L129.9,256.51 L130.4,256.30 L130.9,256.10 L131.4,255.98 L131.9,255.77 L132.4,255.37 L132.9,254.79 L133.4,254.08 L133.9,252.80 L134.4,251.47 L134.9,250.12 L135.4,248.64 L135.9,247.06 L136.4,245.47 L136.9,243.99 L137.4,242.91 L137.9,242.04 L138.4,241.25 L138.9,240.96 L139.4,241.63 L139.9,242.52 L140.4,243.58 L140.9,245.14 L141.4,247.10 L141.9,249.05 L142.4,250.96 L142.9,252.63 L143.4,254.20 L143.9,255.67 L144.4,256.71 L144.9,257.54 L145.4,258.28 L145.9,258.65 L146.4,259.20" fill="none" stroke="#1a82ff" stroke-width="1.3" stroke-linejoin="round"/>
<path d="M105.9,269.60 L105.9,269.60 L106.4,269.58 L106.9,269.57 L107.4,269.55 L107.9,269.53 L108.4,269.51 L108.9,269.49 L109.4,269.47 L109.9,269.46 L110.4,269.44 L110.9,269.43 L111.4,269.41 L111.9,269.40 L112.4,269.37 L112.9,269.35 L113.4,269.32 L113.9,269.31 L114.4,269.29 L114.9,269.27 L115.4,269.26 L115.9,269.19 L116.4,268.92 L116.9,268.80 L117.4,268.77 L117.9,268.76 L118.4,268.68 L118.9,268.61 L119.4,268.53 L119.9,268.47 L120.4,268.41 L120.9,268.35 L121.4,268.29 L121.9,268.23 L122.4,268.18 L122.9,268.13 L123.4,268.08 L123.9,268.03 L124.4,268.02 L124.9,267.97 L125.4,267.92 L125.9,267.82 L126.4,267.73 L126.9,267.63 L127.4,267.56 L127.9,267.48 L128.4,267.41 L128.9,267.29 L129.4,267.14 L129.9,266.96 L130.4,266.76 L130.9,266.56 L131.4,266.32 L131.9,265.92 L132.4,265.43 L132.9,264.84 L133.4,263.83 L133.9,262.51 L134.4,261.12 L134.9,259.61 L135.4,257.99 L135.9,256.35 L136.4,254.83 L136.9,253.60 L137.4,252.74 L137.9,251.92 L138.4,251.31 L138.9,251.67 L139.4,252.51 L139.9,253.44 L140.4,254.67 L140.9,256.53 L141.4,258.54 L141.9,260.51 L142.4,262.28 L142.9,263.93 L143.4,265.50 L143.9,266.77 L144.4,267.67 L144.9,268.44 L145.4,268.93 L145.9,269.25 L146.4,269.60 L146.4,269.60 Z" fill="rgba(26,130,255,0.27)" stroke="none"/>
<line x1="67.50" y1="269.60" x2="161.50" y2="269.60" stroke="#8cc2ff" stroke-width="1.0"/>
<path d="M105.9,269.60 L105.9,269.60 L106.4,269.58 L106.9,269.57 L107.4,269.55 L107.9,269.53 L108.4,269.51 L108.9,269.49 L109.4,269.47 L109.9,269.46 L110.4,269.44 L110.9,269.43 L111.4,269.41 L111.9,269.40 L112.4,269.37 L112.9,269.35 L113.4,269.32 L113.9,269.31 L114.4,269.29 L114.9,269.27 L115.4,269.26 L115.9,269.19 L116.4,268.92 L116.9,268.80 L117.4,268.77 L117.9,268.76 L118.4,268.68 L118.9,268.61 L119.4,268.53 L119.9,268.47 L120.4,268.41 L120.9,268.35 L121.4,268.29 L121.9,268.23 L122.4,268.18 L122.9,268.13 L123.4,268.08 L123.9,268.03 L124.4,268.02 L124.9,267.97 L125.4,267.92 L125.9,267.82 L126.4,267.73 L126.9,267.63 L127.4,267.56 L127.9,267.48 L128.4,267.41 L128.9,267.29 L129.4,267.14 L129.9,266.96 L130.4,266.76 L130.9,266.56 L131.4,266.32 L131.9,265.92 L132.4,265.43 L132.9,264.84 L133.4,263.83 L133.9,262.51 L134.4,261.12 L134.9,259.61 L135.4,257.99 L135.9,256.35 L136.4,254.83 L136.9,253.60 L137.4,252.74 L137.9,251.92 L138.4,251.31 L138.9,251.67 L139.4,252.51 L139.9,253.44 L140.4,254.67 L140.9,256.53 L141.4,258.54 L141.9,260.51 L142.4,262.28 L142.9,263.93 L143.4,265.50 L143.9,266.77 L144.4,267.67 L144.9,268.44 L145.4,268.93 L145.9,269.25 L146.4,269.60" fill="none" stroke="#1a82ff" stroke-width="1.3" stroke-linejoin="round"/>
<rect x="67.50" y="175.60" width="94.00" height="94.00" fill="none" stroke="#9a9a9a" stroke-width="1"/>
<line x1="76.25" y1="269.60" x2="76.25" y2="272.00" stroke="#111" stroke-width="0.7"/>
<text x="76.25" y="277.40" font-size="4.4" text-anchor="middle" fill="#333">-10<tspan dy="-1.5" font-size="3.5">3</tspan></text>
<line x1="90.68" y1="269.60" x2="90.68" y2="272.00" stroke="#111" stroke-width="0.7"/>
<text x="90.68" y="277.40" font-size="4.4" text-anchor="middle" fill="#333">0</text>
<line x1="106.69" y1="269.60" x2="106.69" y2="272.00" stroke="#111" stroke-width="0.7"/>
<text x="106.69" y="277.40" font-size="4.4" text-anchor="middle" fill="#333">10<tspan dy="-1.5" font-size="3.5">3</tspan></text>
<line x1="131.46" y1="269.60" x2="131.46" y2="272.00" stroke="#111" stroke-width="0.7"/>
<text x="131.46" y="277.40" font-size="4.4" text-anchor="middle" fill="#333">10<tspan dy="-1.5" font-size="3.5">4</tspan></text>
<line x1="153.84" y1="269.60" x2="153.84" y2="272.00" stroke="#111" stroke-width="0.7"/>
<text x="153.84" y="277.40" font-size="4.4" text-anchor="middle" fill="#333">10<tspan dy="-1.5" font-size="3.5">5</tspan></text>
<line x1="79.44" y1="269.60" x2="79.44" y2="270.90" stroke="#555" stroke-width="0.5"/>
<line x1="82.42" y1="269.60" x2="82.42" y2="270.90" stroke="#555" stroke-width="0.5"/>
<line x1="84.91" y1="269.60" x2="84.91" y2="270.90" stroke="#555" stroke-width="0.5"/>
<line x1="86.90" y1="269.60" x2="86.90" y2="270.90" stroke="#555" stroke-width="0.5"/>
<line x1="88.39" y1="269.60" x2="88.39" y2="270.90" stroke="#555" stroke-width="0.5"/>
<line x1="89.38" y1="269.60" x2="89.38" y2="270.90" stroke="#555" stroke-width="0.5"/>
<line x1="91.87" y1="269.60" x2="91.87" y2="270.90" stroke="#555" stroke-width="0.5"/>
<line x1="92.87" y1="269.60" x2="92.87" y2="270.90" stroke="#555" stroke-width="0.5"/>
<line x1="94.36" y1="269.60" x2="94.36" y2="270.90" stroke="#555" stroke-width="0.5"/>
<line x1="96.35" y1="269.60" x2="96.35" y2="270.90" stroke="#555" stroke-width="0.5"/>
<line x1="98.83" y1="269.60" x2="98.83" y2="270.90" stroke="#555" stroke-width="0.5"/>
<line x1="102.31" y1="269.60" x2="102.31" y2="270.90" stroke="#555" stroke-width="0.5"/>
<line x1="112.26" y1="269.60" x2="112.26" y2="270.90" stroke="#555" stroke-width="0.5"/>
<line x1="117.24" y1="269.60" x2="117.24" y2="270.90" stroke="#555" stroke-width="0.5"/>
<line x1="121.21" y1="269.60" x2="121.21" y2="270.90" stroke="#555" stroke-width="0.5"/>
<line x1="124.20" y1="269.60" x2="124.20" y2="270.90" stroke="#555" stroke-width="0.5"/>
<line x1="126.19" y1="269.60" x2="126.19" y2="270.90" stroke="#555" stroke-width="0.5"/>
<line x1="128.18" y1="269.60" x2="128.18" y2="270.90" stroke="#555" stroke-width="0.5"/>
<line x1="129.67" y1="269.60" x2="129.67" y2="270.90" stroke="#555" stroke-width="0.5"/>
<line x1="137.13" y1="269.60" x2="137.13" y2="270.90" stroke="#555" stroke-width="0.5"/>
<line x1="142.10" y1="269.60" x2="142.10" y2="270.90" stroke="#555" stroke-width="0.5"/>
<line x1="146.08" y1="269.60" x2="146.08" y2="270.90" stroke="#555" stroke-width="0.5"/>
<line x1="149.07" y1="269.60" x2="149.07" y2="270.90" stroke="#555" stroke-width="0.5"/>
<line x1="151.06" y1="269.60" x2="151.06" y2="270.90" stroke="#555" stroke-width="0.5"/>
<line x1="152.55" y1="269.60" x2="152.55" y2="270.90" stroke="#555" stroke-width="0.5"/>
<rect x="89.38" y="269.60" width="3.20" height="1.60" fill="#222" stroke="none" stroke-width="1"/>
<path d="M204.8,197.50 L204.8,197.50 L205.3,197.48 L205.8,197.46 L206.3,197.44 L206.8,197.43 L207.3,197.41 L207.8,197.39 L208.3,197.38 L208.8,197.36 L209.3,197.35 L209.8,197.33 L210.3,197.30 L210.8,197.28 L211.3,197.27 L211.8,197.25 L212.3,197.24 L212.8,197.22 L213.3,197.19 L213.8,197.17 L214.3,197.16 L214.8,197.14 L215.3,197.09 L215.8,197.01 L216.3,196.93 L216.8,196.85 L217.3,196.77 L217.8,196.68 L218.3,196.62 L218.8,196.62 L219.3,196.62 L219.8,196.63 L220.3,196.57 L220.8,196.50 L221.3,196.44 L221.8,196.39 L222.3,196.34 L222.8,196.30 L223.3,196.26 L223.8,196.23 L224.3,196.20 L224.8,196.10 L225.3,195.99 L225.8,195.88 L226.3,195.88 L226.8,195.86 L227.3,195.85 L227.8,195.71 L228.3,195.57 L228.8,195.44 L229.3,195.35 L229.8,195.26 L230.3,195.17 L230.8,195.03 L231.3,194.87 L231.8,194.71 L232.3,194.53 L232.8,194.30 L233.3,193.88 L233.8,193.28 L234.3,192.59 L234.8,191.50 L235.3,190.24 L235.8,188.90 L236.3,187.48 L236.8,185.84 L237.3,184.19 L237.8,182.59 L238.3,181.39 L238.8,180.56 L239.3,179.80 L239.8,179.23 L240.3,179.61 L240.8,180.45 L241.3,181.39 L241.8,182.62 L242.3,184.46 L242.8,186.44 L243.3,188.39 L243.8,190.18 L244.3,191.83 L244.8,193.41 L245.3,194.71 L245.8,195.57 L246.3,196.30 L246.8,196.80 L247.3,197.14 L247.8,197.50 L247.8,197.50 Z" fill="rgba(26,130,255,0.27)" stroke="none"/>
<line x1="170.50" y1="197.50" x2="264.50" y2="197.50" stroke="#8cc2ff" stroke-width="1.0"/>
<path d="M204.8,197.50 L204.8,197.50 L205.3,197.48 L205.8,197.46 L206.3,197.44 L206.8,197.43 L207.3,197.41 L207.8,197.39 L208.3,197.38 L208.8,197.36 L209.3,197.35 L209.8,197.33 L210.3,197.30 L210.8,197.28 L211.3,197.27 L211.8,197.25 L212.3,197.24 L212.8,197.22 L213.3,197.19 L213.8,197.17 L214.3,197.16 L214.8,197.14 L215.3,197.09 L215.8,197.01 L216.3,196.93 L216.8,196.85 L217.3,196.77 L217.8,196.68 L218.3,196.62 L218.8,196.62 L219.3,196.62 L219.8,196.63 L220.3,196.57 L220.8,196.50 L221.3,196.44 L221.8,196.39 L222.3,196.34 L222.8,196.30 L223.3,196.26 L223.8,196.23 L224.3,196.20 L224.8,196.10 L225.3,195.99 L225.8,195.88 L226.3,195.88 L226.8,195.86 L227.3,195.85 L227.8,195.71 L228.3,195.57 L228.8,195.44 L229.3,195.35 L229.8,195.26 L230.3,195.17 L230.8,195.03 L231.3,194.87 L231.8,194.71 L232.3,194.53 L232.8,194.30 L233.3,193.88 L233.8,193.28 L234.3,192.59 L234.8,191.50 L235.3,190.24 L235.8,188.90 L236.3,187.48 L236.8,185.84 L237.3,184.19 L237.8,182.59 L238.3,181.39 L238.8,180.56 L239.3,179.80 L239.8,179.23 L240.3,179.61 L240.8,180.45 L241.3,181.39 L241.8,182.62 L242.3,184.46 L242.8,186.44 L243.3,188.39 L243.8,190.18 L244.3,191.83 L244.8,193.41 L245.3,194.71 L245.8,195.57 L246.3,196.30 L246.8,196.80 L247.3,197.14 L247.8,197.50" fill="none" stroke="#1a82ff" stroke-width="1.3" stroke-linejoin="round"/>
<path d="M200.9,208.10 L200.9,208.10 L201.4,208.08 L201.9,208.06 L202.4,208.05 L202.9,208.03 L203.4,208.01 L203.9,208.00 L204.4,207.98 L204.9,207.96 L205.4,207.93 L205.9,207.92 L206.4,207.91 L206.9,207.90 L207.4,207.88 L207.9,207.86 L208.4,207.84 L208.9,207.82 L209.4,207.80 L209.9,207.77 L210.4,207.76 L210.9,207.75 L211.4,207.73 L211.9,207.68 L212.4,207.63 L212.9,207.58 L213.4,207.56 L213.9,207.55 L214.4,207.54 L214.9,207.51 L215.4,207.48 L215.9,207.45 L216.4,207.44 L216.9,207.43 L217.4,207.42 L217.9,207.35 L218.4,207.27 L218.9,207.19 L219.4,207.17 L219.9,207.16 L220.4,207.16 L220.9,207.10 L221.4,207.04 L221.9,206.98 L222.4,206.92 L222.9,206.85 L223.4,206.79 L223.9,206.76 L224.4,206.74 L224.9,206.71 L225.4,206.62 L225.9,206.53 L226.4,206.40 L226.9,206.36 L227.4,206.32 L227.9,206.27 L228.4,206.18 L228.9,206.08 L229.4,205.98 L229.9,205.91 L230.4,205.83 L230.9,205.71 L231.4,205.54 L231.9,205.37 L232.4,205.19 L232.9,204.97 L233.4,204.61 L233.9,204.13 L234.4,203.54 L234.9,202.64 L235.4,201.34 L235.9,200.04 L236.4,198.68 L236.9,197.20 L237.4,195.60 L237.9,194.03 L238.4,192.67 L238.9,191.82 L239.4,191.07 L239.9,190.48 L240.4,190.57 L240.9,191.26 L241.4,192.06 L241.9,193.18 L242.4,195.00 L242.9,196.99 L243.4,198.82 L243.9,200.51 L244.4,202.06 L244.9,203.60 L245.4,204.94 L245.9,205.85 L246.4,206.65 L246.9,207.29 L247.4,207.66 L247.9,208.10 L247.9,208.10 Z" fill="rgba(26,130,255,0.27)" stroke="none"/>
<line x1="170.50" y1="208.10" x2="264.50" y2="208.10" stroke="#8cc2ff" stroke-width="1.0"/>
<path d="M200.9,208.10 L200.9,208.10 L201.4,208.08 L201.9,208.06 L202.4,208.05 L202.9,208.03 L203.4,208.01 L203.9,208.00 L204.4,207.98 L204.9,207.96 L205.4,207.93 L205.9,207.92 L206.4,207.91 L206.9,207.90 L207.4,207.88 L207.9,207.86 L208.4,207.84 L208.9,207.82 L209.4,207.80 L209.9,207.77 L210.4,207.76 L210.9,207.75 L211.4,207.73 L211.9,207.68 L212.4,207.63 L212.9,207.58 L213.4,207.56 L213.9,207.55 L214.4,207.54 L214.9,207.51 L215.4,207.48 L215.9,207.45 L216.4,207.44 L216.9,207.43 L217.4,207.42 L217.9,207.35 L218.4,207.27 L218.9,207.19 L219.4,207.17 L219.9,207.16 L220.4,207.16 L220.9,207.10 L221.4,207.04 L221.9,206.98 L222.4,206.92 L222.9,206.85 L223.4,206.79 L223.9,206.76 L224.4,206.74 L224.9,206.71 L225.4,206.62 L225.9,206.53 L226.4,206.40 L226.9,206.36 L227.4,206.32 L227.9,206.27 L228.4,206.18 L228.9,206.08 L229.4,205.98 L229.9,205.91 L230.4,205.83 L230.9,205.71 L231.4,205.54 L231.9,205.37 L232.4,205.19 L232.9,204.97 L233.4,204.61 L233.9,204.13 L234.4,203.54 L234.9,202.64 L235.4,201.34 L235.9,200.04 L236.4,198.68 L236.9,197.20 L237.4,195.60 L237.9,194.03 L238.4,192.67 L238.9,191.82 L239.4,191.07 L239.9,190.48 L240.4,190.57 L240.9,191.26 L241.4,192.06 L241.9,193.18 L242.4,195.00 L242.9,196.99 L243.4,198.82 L243.9,200.51 L244.4,202.06 L244.9,203.60 L245.4,204.94 L245.9,205.85 L246.4,206.65 L246.9,207.29 L247.4,207.66 L247.9,208.10" fill="none" stroke="#1a82ff" stroke-width="1.3" stroke-linejoin="round"/>
<path d="M204.9,218.30 L204.9,218.30 L205.4,218.28 L205.9,218.27 L206.4,218.25 L206.9,218.23 L207.4,218.22 L207.9,218.20 L208.4,218.18 L208.9,218.16 L209.4,218.13 L209.9,218.12 L210.4,218.10 L210.9,218.08 L211.4,218.07 L211.9,218.06 L212.4,218.05 L212.9,218.03 L213.4,217.99 L213.9,217.96 L214.4,217.94 L214.9,217.91 L215.4,217.84 L215.9,217.79 L216.4,217.75 L216.9,217.71 L217.4,217.61 L217.9,217.51 L218.4,217.43 L218.9,217.40 L219.4,217.37 L219.9,217.35 L220.4,217.33 L220.9,217.31 L221.4,217.29 L221.9,217.23 L222.4,217.17 L222.9,217.11 L223.4,217.04 L223.9,216.97 L224.4,216.89 L224.9,216.90 L225.4,216.91 L225.9,216.91 L226.4,216.80 L226.9,216.67 L227.4,216.55 L227.9,216.42 L228.4,216.28 L228.9,216.14 L229.4,216.09 L229.9,216.03 L230.4,215.97 L230.9,215.74 L231.4,215.49 L231.9,215.25 L232.4,215.10 L232.9,214.89 L233.4,214.47 L233.9,213.96 L234.4,213.34 L234.9,212.23 L235.4,210.96 L235.9,209.65 L236.4,208.23 L236.9,206.67 L237.4,205.09 L237.9,203.59 L238.4,202.40 L238.9,201.51 L239.4,200.66 L239.9,200.19 L240.4,200.83 L240.9,201.75 L241.4,202.66 L241.9,203.96 L242.4,205.76 L242.9,207.66 L243.4,209.52 L243.9,211.18 L244.4,212.82 L244.9,214.38 L245.4,215.58 L245.9,216.48 L246.4,217.26 L246.9,217.72 L247.4,218.02 L247.9,218.30 L247.9,218.30 Z" fill="rgba(26,130,255,0.27)" stroke="none"/>
<line x1="170.50" y1="218.30" x2="264.50" y2="218.30" stroke="#8cc2ff" stroke-width="1.0"/>
<path d="M204.9,218.30 L204.9,218.30 L205.4,218.28 L205.9,218.27 L206.4,218.25 L206.9,218.23 L207.4,218.22 L207.9,218.20 L208.4,218.18 L208.9,218.16 L209.4,218.13 L209.9,218.12 L210.4,218.10 L210.9,218.08 L211.4,218.07 L211.9,218.06 L212.4,218.05 L212.9,218.03 L213.4,217.99 L213.9,217.96 L214.4,217.94 L214.9,217.91 L215.4,217.84 L215.9,217.79 L216.4,217.75 L216.9,217.71 L217.4,217.61 L217.9,217.51 L218.4,217.43 L218.9,217.40 L219.4,217.37 L219.9,217.35 L220.4,217.33 L220.9,217.31 L221.4,217.29 L221.9,217.23 L222.4,217.17 L222.9,217.11 L223.4,217.04 L223.9,216.97 L224.4,216.89 L224.9,216.90 L225.4,216.91 L225.9,216.91 L226.4,216.80 L226.9,216.67 L227.4,216.55 L227.9,216.42 L228.4,216.28 L228.9,216.14 L229.4,216.09 L229.9,216.03 L230.4,215.97 L230.9,215.74 L231.4,215.49 L231.9,215.25 L232.4,215.10 L232.9,214.89 L233.4,214.47 L233.9,213.96 L234.4,213.34 L234.9,212.23 L235.4,210.96 L235.9,209.65 L236.4,208.23 L236.9,206.67 L237.4,205.09 L237.9,203.59 L238.4,202.40 L238.9,201.51 L239.4,200.66 L239.9,200.19 L240.4,200.83 L240.9,201.75 L241.4,202.66 L241.9,203.96 L242.4,205.76 L242.9,207.66 L243.4,209.52 L243.9,211.18 L244.4,212.82 L244.9,214.38 L245.4,215.58 L245.9,216.48 L246.4,217.26 L246.9,217.72 L247.4,218.02 L247.9,218.30" fill="none" stroke="#1a82ff" stroke-width="1.3" stroke-linejoin="round"/>
<path d="M198.9,228.40 L198.9,228.40 L199.4,228.38 L199.9,228.37 L200.4,228.35 L200.9,228.33 L201.4,228.32 L201.9,228.30 L202.4,228.28 L202.9,228.27 L203.4,228.25 L203.9,228.22 L204.4,228.20 L204.9,228.17 L205.4,228.17 L205.9,228.16 L206.4,228.16 L206.9,228.13 L207.4,228.10 L207.9,228.07 L208.4,228.05 L208.9,228.03 L209.4,228.01 L209.9,228.00 L210.4,228.00 L210.9,227.99 L211.4,227.97 L211.9,227.95 L212.4,227.92 L212.9,227.88 L213.4,227.84 L213.9,227.79 L214.4,227.75 L214.9,227.71 L215.4,227.67 L215.9,227.67 L216.4,227.66 L216.9,227.66 L217.4,227.62 L217.9,227.58 L218.4,227.52 L218.9,227.47 L219.4,227.41 L219.9,227.36 L220.4,227.30 L220.9,227.24 L221.4,227.19 L221.9,227.16 L222.4,227.14 L222.9,227.13 L223.4,227.11 L223.9,227.08 L224.4,227.07 L224.9,226.99 L225.4,226.91 L225.9,226.81 L226.4,226.74 L226.9,226.66 L227.4,226.57 L227.9,226.48 L228.4,226.40 L228.9,226.31 L229.4,226.17 L229.9,226.04 L230.4,225.89 L230.9,225.76 L231.4,225.62 L231.9,225.48 L232.4,225.28 L232.9,225.02 L233.4,224.54 L233.9,224.02 L234.4,223.39 L234.9,222.27 L235.4,220.92 L235.9,219.53 L236.4,218.02 L236.9,216.53 L237.4,215.02 L237.9,213.59 L238.4,212.38 L238.9,211.47 L239.4,210.60 L239.9,210.07 L240.4,210.66 L240.9,211.54 L241.4,212.57 L241.9,214.00 L242.4,215.92 L242.9,217.86 L243.4,219.75 L243.9,221.45 L244.4,223.04 L244.9,224.54 L245.4,225.68 L245.9,226.59 L246.4,227.36 L246.9,227.82 L247.4,228.11 L247.9,228.40 L247.9,228.40 Z" fill="rgba(26,130,255,0.27)" stroke="none"/>
<line x1="170.50" y1="228.40" x2="264.50" y2="228.40" stroke="#8cc2ff" stroke-width="1.0"/>
<path d="M198.9,228.40 L198.9,228.40 L199.4,228.38 L199.9,228.37 L200.4,228.35 L200.9,228.33 L201.4,228.32 L201.9,228.30 L202.4,228.28 L202.9,228.27 L203.4,228.25 L203.9,228.22 L204.4,228.20 L204.9,228.17 L205.4,228.17 L205.9,228.16 L206.4,228.16 L206.9,228.13 L207.4,228.10 L207.9,228.07 L208.4,228.05 L208.9,228.03 L209.4,228.01 L209.9,228.00 L210.4,228.00 L210.9,227.99 L211.4,227.97 L211.9,227.95 L212.4,227.92 L212.9,227.88 L213.4,227.84 L213.9,227.79 L214.4,227.75 L214.9,227.71 L215.4,227.67 L215.9,227.67 L216.4,227.66 L216.9,227.66 L217.4,227.62 L217.9,227.58 L218.4,227.52 L218.9,227.47 L219.4,227.41 L219.9,227.36 L220.4,227.30 L220.9,227.24 L221.4,227.19 L221.9,227.16 L222.4,227.14 L222.9,227.13 L223.4,227.11 L223.9,227.08 L224.4,227.07 L224.9,226.99 L225.4,226.91 L225.9,226.81 L226.4,226.74 L226.9,226.66 L227.4,226.57 L227.9,226.48 L228.4,226.40 L228.9,226.31 L229.4,226.17 L229.9,226.04 L230.4,225.89 L230.9,225.76 L231.4,225.62 L231.9,225.48 L232.4,225.28 L232.9,225.02 L233.4,224.54 L233.9,224.02 L234.4,223.39 L234.9,222.27 L235.4,220.92 L235.9,219.53 L236.4,218.02 L236.9,216.53 L237.4,215.02 L237.9,213.59 L238.4,212.38 L238.9,211.47 L239.4,210.60 L239.9,210.07 L240.4,210.66 L240.9,211.54 L241.4,212.57 L241.9,214.00 L242.4,215.92 L242.9,217.86 L243.4,219.75 L243.9,221.45 L244.4,223.04 L244.9,224.54 L245.4,225.68 L245.9,226.59 L246.4,227.36 L246.9,227.82 L247.4,228.11 L247.9,228.40" fill="none" stroke="#1a82ff" stroke-width="1.3" stroke-linejoin="round"/>
<path d="M194.9,238.60 L194.9,238.60 L195.4,238.58 L195.9,238.56 L196.4,238.55 L196.9,238.53 L197.4,238.51 L197.9,238.49 L198.4,238.47 L198.9,238.45 L199.4,238.43 L199.9,238.42 L200.4,238.41 L200.9,238.40 L201.4,238.39 L201.9,238.37 L202.4,238.36 L202.9,238.33 L203.4,238.30 L203.9,238.27 L204.4,238.25 L204.9,238.24 L205.4,238.22 L205.9,238.20 L206.4,238.19 L206.9,238.17 L207.4,238.14 L207.9,238.12 L208.4,238.09 L208.9,238.08 L209.4,238.08 L209.9,238.08 L210.4,238.07 L210.9,238.06 L211.4,238.05 L211.9,238.04 L212.4,238.02 L212.9,238.00 L213.4,238.00 L213.9,237.99 L214.4,237.99 L214.9,237.94 L215.4,237.89 L215.9,237.83 L216.4,237.84 L216.9,237.84 L217.4,237.84 L217.9,237.82 L218.4,237.78 L218.9,237.74 L219.4,237.71 L219.9,237.70 L220.4,237.68 L220.9,237.58 L221.4,237.48 L221.9,237.38 L222.4,237.37 L222.9,237.37 L223.4,237.37 L223.9,237.35 L224.4,237.34 L224.9,237.34 L225.4,237.23 L225.9,237.12 L226.4,236.99 L226.9,236.89 L227.4,236.79 L227.9,236.68 L228.4,236.65 L228.9,236.62 L229.4,236.58 L229.9,236.43 L230.4,236.26 L230.9,236.07 L231.4,235.95 L231.9,235.82 L232.4,235.69 L232.9,235.48 L233.4,235.16 L233.9,234.68 L234.4,234.07 L234.9,233.24 L235.4,231.93 L235.9,230.58 L236.4,229.18 L236.9,227.64 L237.4,226.16 L237.9,224.67 L238.4,223.31 L238.9,222.39 L239.4,221.59 L239.9,220.91 L240.4,220.81 L240.9,221.48 L241.4,222.33 L241.9,223.37 L242.4,225.01 L242.9,226.94 L243.4,228.81 L243.9,230.59 L244.4,232.18 L244.9,233.85 L245.4,235.38 L245.9,236.41 L246.4,237.22 L246.9,237.83 L247.4,238.17 L247.9,238.60 L247.9,238.60 Z" fill="rgba(26,130,255,0.27)" stroke="none"/>
<line x1="170.50" y1="238.60" x2="264.50" y2="238.60" stroke="#8cc2ff" stroke-width="1.0"/>
<path d="M194.9,238.60 L194.9,238.60 L195.4,238.58 L195.9,238.56 L196.4,238.55 L196.9,238.53 L197.4,238.51 L197.9,238.49 L198.4,238.47 L198.9,238.45 L199.4,238.43 L199.9,238.42 L200.4,238.41 L200.9,238.40 L201.4,238.39 L201.9,238.37 L202.4,238.36 L202.9,238.33 L203.4,238.30 L203.9,238.27 L204.4,238.25 L204.9,238.24 L205.4,238.22 L205.9,238.20 L206.4,238.19 L206.9,238.17 L207.4,238.14 L207.9,238.12 L208.4,238.09 L208.9,238.08 L209.4,238.08 L209.9,238.08 L210.4,238.07 L210.9,238.06 L211.4,238.05 L211.9,238.04 L212.4,238.02 L212.9,238.00 L213.4,238.00 L213.9,237.99 L214.4,237.99 L214.9,237.94 L215.4,237.89 L215.9,237.83 L216.4,237.84 L216.9,237.84 L217.4,237.84 L217.9,237.82 L218.4,237.78 L218.9,237.74 L219.4,237.71 L219.9,237.70 L220.4,237.68 L220.9,237.58 L221.4,237.48 L221.9,237.38 L222.4,237.37 L222.9,237.37 L223.4,237.37 L223.9,237.35 L224.4,237.34 L224.9,237.34 L225.4,237.23 L225.9,237.12 L226.4,236.99 L226.9,236.89 L227.4,236.79 L227.9,236.68 L228.4,236.65 L228.9,236.62 L229.4,236.58 L229.9,236.43 L230.4,236.26 L230.9,236.07 L231.4,235.95 L231.9,235.82 L232.4,235.69 L232.9,235.48 L233.4,235.16 L233.9,234.68 L234.4,234.07 L234.9,233.24 L235.4,231.93 L235.9,230.58 L236.4,229.18 L236.9,227.64 L237.4,226.16 L237.9,224.67 L238.4,223.31 L238.9,222.39 L239.4,221.59 L239.9,220.91 L240.4,220.81 L240.9,221.48 L241.4,222.33 L241.9,223.37 L242.4,225.01 L242.9,226.94 L243.4,228.81 L243.9,230.59 L244.4,232.18 L244.9,233.85 L245.4,235.38 L245.9,236.41 L246.4,237.22 L246.9,237.83 L247.4,238.17 L247.9,238.60" fill="none" stroke="#1a82ff" stroke-width="1.3" stroke-linejoin="round"/>
<path d="M203.9,249.20 L203.9,249.20 L204.4,249.18 L204.9,249.16 L205.4,249.14 L205.9,249.13 L206.4,249.11 L206.9,249.10 L207.4,249.08 L207.9,249.06 L208.4,249.04 L208.9,249.02 L209.4,249.01 L209.9,249.00 L210.4,248.97 L210.9,248.95 L211.4,248.92 L211.9,248.91 L212.4,248.89 L212.9,248.88 L213.4,248.87 L213.9,248.86 L214.4,248.84 L214.9,248.76 L215.4,248.68 L215.9,248.60 L216.4,248.55 L216.9,248.50 L217.4,248.45 L217.9,248.42 L218.4,248.39 L218.9,248.37 L219.4,248.32 L219.9,248.27 L220.4,248.22 L220.9,248.16 L221.4,248.10 L221.9,248.04 L222.4,248.00 L222.9,247.95 L223.4,247.90 L223.9,247.85 L224.4,247.79 L224.9,247.74 L225.4,247.68 L225.9,247.62 L226.4,247.55 L226.9,247.46 L227.4,247.37 L227.9,247.27 L228.4,247.24 L228.9,247.21 L229.4,247.18 L229.9,247.10 L230.4,247.02 L230.9,246.93 L231.4,246.74 L231.9,246.53 L232.4,246.33 L232.9,246.15 L233.4,245.93 L233.9,245.49 L234.4,244.94 L234.9,244.27 L235.4,243.12 L235.9,241.81 L236.4,240.44 L236.9,238.97 L237.4,237.39 L237.9,235.81 L238.4,234.30 L238.9,233.19 L239.4,232.36 L239.9,231.58 L240.4,231.08 L240.9,231.68 L241.4,232.56 L241.9,233.48 L242.4,234.78 L242.9,236.59 L243.4,238.54 L243.9,240.45 L244.4,242.17 L244.9,243.81 L245.4,245.36 L245.9,246.55 L246.4,247.39 L246.9,248.13 L247.4,248.58 L247.9,248.90 L248.4,249.20 L248.4,249.20 Z" fill="rgba(26,130,255,0.27)" stroke="none"/>
<line x1="170.50" y1="249.20" x2="264.50" y2="249.20" stroke="#8cc2ff" stroke-width="1.0"/>
<path d="M203.9,249.20 L203.9,249.20 L204.4,249.18 L204.9,249.16 L205.4,249.14 L205.9,249.13 L206.4,249.11 L206.9,249.10 L207.4,249.08 L207.9,249.06 L208.4,249.04 L208.9,249.02 L209.4,249.01 L209.9,249.00 L210.4,248.97 L210.9,248.95 L211.4,248.92 L211.9,248.91 L212.4,248.89 L212.9,248.88 L213.4,248.87 L213.9,248.86 L214.4,248.84 L214.9,248.76 L215.4,248.68 L215.9,248.60 L216.4,248.55 L216.9,248.50 L217.4,248.45 L217.9,248.42 L218.4,248.39 L218.9,248.37 L219.4,248.32 L219.9,248.27 L220.4,248.22 L220.9,248.16 L221.4,248.10 L221.9,248.04 L222.4,248.00 L222.9,247.95 L223.4,247.90 L223.9,247.85 L224.4,247.79 L224.9,247.74 L225.4,247.68 L225.9,247.62 L226.4,247.55 L226.9,247.46 L227.4,247.37 L227.9,247.27 L228.4,247.24 L228.9,247.21 L229.4,247.18 L229.9,247.10 L230.4,247.02 L230.9,246.93 L231.4,246.74 L231.9,246.53 L232.4,246.33 L232.9,246.15 L233.4,245.93 L233.9,245.49 L234.4,244.94 L234.9,244.27 L235.4,243.12 L235.9,241.81 L236.4,240.44 L236.9,238.97 L237.4,237.39 L237.9,235.81 L238.4,234.30 L238.9,233.19 L239.4,232.36 L239.9,231.58 L240.4,231.08 L240.9,231.68 L241.4,232.56 L241.9,233.48 L242.4,234.78 L242.9,236.59 L243.4,238.54 L243.9,240.45 L244.4,242.17 L244.9,243.81 L245.4,245.36 L245.9,246.55 L246.4,247.39 L246.9,248.13 L247.4,248.58 L247.9,248.90 L248.4,249.20" fill="none" stroke="#1a82ff" stroke-width="1.3" stroke-linejoin="round"/>
<path d="M209.9,259.20 L209.9,259.20 L210.4,259.18 L210.9,259.16 L211.4,259.15 L211.9,259.13 L212.4,259.11 L212.9,259.10 L213.4,259.08 L213.9,259.06 L214.4,259.05 L214.9,259.03 L215.4,259.01 L215.9,259.00 L216.4,258.98 L216.9,258.97 L217.4,258.95 L217.9,258.93 L218.4,258.91 L218.9,258.88 L219.4,258.86 L219.9,258.74 L220.4,258.29 L220.9,258.14 L221.4,258.09 L221.9,258.04 L222.4,258.02 L222.9,258.00 L223.4,257.99 L223.9,257.90 L224.4,257.81 L224.9,257.72 L225.4,257.74 L225.9,257.78 L226.4,257.81 L226.9,257.64 L227.4,257.46 L227.9,257.27 L228.4,257.19 L228.9,257.11 L229.4,257.03 L229.9,256.92 L230.4,256.82 L230.9,256.70 L231.4,256.62 L231.9,256.51 L232.4,256.41 L232.9,256.18 L233.4,255.90 L233.9,255.44 L234.4,254.93 L234.9,254.32 L235.4,253.31 L235.9,252.00 L236.4,250.61 L236.9,249.14 L237.4,247.59 L237.9,246.02 L238.4,244.50 L238.9,243.33 L239.4,242.52 L239.9,241.80 L240.4,241.17 L240.9,241.49 L241.4,242.26 L241.9,243.22 L242.4,244.47 L242.9,246.32 L243.4,248.20 L243.9,250.04 L244.4,251.72 L244.9,253.35 L245.4,254.92 L245.9,256.20 L246.4,257.16 L246.9,257.99 L247.4,258.54 L247.9,258.85 L248.4,259.20 L248.4,259.20 Z" fill="rgba(26,130,255,0.27)" stroke="none"/>
<line x1="170.50" y1="259.20" x2="264.50" y2="259.20" stroke="#8cc2ff" stroke-width="1.0"/>
<path d="M209.9,259.20 L209.9,259.20 L210.4,259.18 L210.9,259.16 L211.4,259.15 L211.9,259.13 L212.4,259.11 L212.9,259.10 L213.4,259.08 L213.9,259.06 L214.4,259.05 L214.9,259.03 L215.4,259.01 L215.9,259.00 L216.4,258.98 L216.9,258.97 L217.4,258.95 L217.9,258.93 L218.4,258.91 L218.9,258.88 L219.4,258.86 L219.9,258.74 L220.4,258.29 L220.9,258.14 L221.4,258.09 L221.9,258.04 L222.4,258.02 L222.9,258.00 L223.4,257.99 L223.9,257.90 L224.4,257.81 L224.9,257.72 L225.4,257.74 L225.9,257.78 L226.4,257.81 L226.9,257.64 L227.4,257.46 L227.9,257.27 L228.4,257.19 L228.9,257.11 L229.4,257.03 L229.9,256.92 L230.4,256.82 L230.9,256.70 L231.4,256.62 L231.9,256.51 L232.4,256.41 L232.9,256.18 L233.4,255.90 L233.9,255.44 L234.4,254.93 L234.9,254.32 L235.4,253.31 L235.9,252.00 L236.4,250.61 L236.9,249.14 L237.4,247.59 L237.9,246.02 L238.4,244.50 L238.9,243.33 L239.4,242.52 L239.9,241.80 L240.4,241.17 L240.9,241.49 L241.4,242.26 L241.9,243.22 L242.4,244.47 L242.9,246.32 L243.4,248.20 L243.9,250.04 L244.4,251.72 L244.9,253.35 L245.4,254.92 L245.9,256.20 L246.4,257.16 L246.9,257.99 L247.4,258.54 L247.9,258.85 L248.4,259.20" fill="none" stroke="#1a82ff" stroke-width="1.3" stroke-linejoin="round"/>
<path d="M208.9,269.60 L208.9,269.60 L209.4,269.58 L209.9,269.56 L210.4,269.55 L210.9,269.53 L211.4,269.51 L211.9,269.49 L212.4,269.47 L212.9,269.46 L213.4,269.44 L213.9,269.43 L214.4,269.41 L214.9,269.40 L215.4,269.38 L215.9,269.36 L216.4,269.34 L216.9,269.32 L217.4,269.29 L217.9,269.26 L218.4,269.24 L218.9,269.14 L219.4,268.76 L219.9,268.61 L220.4,268.55 L220.9,268.48 L221.4,268.47 L221.9,268.47 L222.4,268.46 L222.9,268.39 L223.4,268.32 L223.9,268.25 L224.4,268.18 L224.9,268.12 L225.4,268.05 L225.9,268.08 L226.4,268.09 L226.9,268.07 L227.4,267.90 L227.9,267.74 L228.4,267.57 L228.9,267.46 L229.4,267.35 L229.9,267.24 L230.4,267.13 L230.9,266.99 L231.4,266.81 L231.9,266.71 L232.4,266.61 L232.9,266.49 L233.4,266.16 L233.9,265.67 L234.4,265.11 L234.9,264.26 L235.4,262.93 L235.9,261.49 L236.4,260.14 L236.9,258.64 L237.4,257.09 L237.9,255.52 L238.4,254.07 L238.9,253.15 L239.4,252.31 L239.9,251.58 L240.4,251.48 L240.9,252.22 L241.4,253.14 L241.9,254.20 L242.4,255.84 L242.9,257.76 L243.4,259.71 L243.9,261.56 L244.4,263.22 L244.9,264.83 L245.4,266.34 L245.9,267.34 L246.4,268.19 L246.9,268.79 L247.4,269.13 L247.9,269.60 L247.9,269.60 Z" fill="rgba(26,130,255,0.27)" stroke="none"/>
<line x1="170.50" y1="269.60" x2="264.50" y2="269.60" stroke="#8cc2ff" stroke-width="1.0"/>
<path d="M208.9,269.60 L208.9,269.60 L209.4,269.58 L209.9,269.56 L210.4,269.55 L210.9,269.53 L211.4,269.51 L211.9,269.49 L212.4,269.47 L212.9,269.46 L213.4,269.44 L213.9,269.43 L214.4,269.41 L214.9,269.40 L215.4,269.38 L215.9,269.36 L216.4,269.34 L216.9,269.32 L217.4,269.29 L217.9,269.26 L218.4,269.24 L218.9,269.14 L219.4,268.76 L219.9,268.61 L220.4,268.55 L220.9,268.48 L221.4,268.47 L221.9,268.47 L222.4,268.46 L222.9,268.39 L223.4,268.32 L223.9,268.25 L224.4,268.18 L224.9,268.12 L225.4,268.05 L225.9,268.08 L226.4,268.09 L226.9,268.07 L227.4,267.90 L227.9,267.74 L228.4,267.57 L228.9,267.46 L229.4,267.35 L229.9,267.24 L230.4,267.13 L230.9,266.99 L231.4,266.81 L231.9,266.71 L232.4,266.61 L232.9,266.49 L233.4,266.16 L233.9,265.67 L234.4,265.11 L234.9,264.26 L235.4,262.93 L235.9,261.49 L236.4,260.14 L236.9,258.64 L237.4,257.09 L237.9,255.52 L238.4,254.07 L238.9,253.15 L239.4,252.31 L239.9,251.58 L240.4,251.48 L240.9,252.22 L241.4,253.14 L241.9,254.20 L242.4,255.84 L242.9,257.76 L243.4,259.71 L243.9,261.56 L244.4,263.22 L244.9,264.83 L245.4,266.34 L245.9,267.34 L246.4,268.19 L246.9,268.79 L247.4,269.13 L247.9,269.60" fill="none" stroke="#1a82ff" stroke-width="1.3" stroke-linejoin="round"/>
<rect x="170.50" y="175.60" width="94.00" height="94.00" fill="none" stroke="#9a9a9a" stroke-width="1"/>
<line x1="179.25" y1="269.60" x2="179.25" y2="272.00" stroke="#111" stroke-width="0.7"/>
<text x="179.25" y="277.40" font-size="4.4" text-anchor="middle" fill="#333">-10<tspan dy="-1.5" font-size="3.5">3</tspan></text>
<line x1="193.68" y1="269.60" x2="193.68" y2="272.00" stroke="#111" stroke-width="0.7"/>
<text x="193.68" y="277.40" font-size="4.4" text-anchor="middle" fill="#333">0</text>
<line x1="209.69" y1="269.60" x2="209.69" y2="272.00" stroke="#111" stroke-width="0.7"/>
<text x="209.69" y="277.40" font-size="4.4" text-anchor="middle" fill="#333">10<tspan dy="-1.5" font-size="3.5">3</tspan></text>
<line x1="234.46" y1="269.60" x2="234.46" y2="272.00" stroke="#111" stroke-width="0.7"/>
<text x="234.46" y="277.40" font-size="4.4" text-anchor="middle" fill="#333">10<tspan dy="-1.5" font-size="3.5">4</tspan></text>
<line x1="256.84" y1="269.60" x2="256.84" y2="272.00" stroke="#111" stroke-width="0.7"/>
<text x="256.84" y="277.40" font-size="4.4" text-anchor="middle" fill="#333">10<tspan dy="-1.5" font-size="3.5">5</tspan></text>
<line x1="182.44" y1="269.60" x2="182.44" y2="270.90" stroke="#555" stroke-width="0.5"/>
<line x1="185.42" y1="269.60" x2="185.42" y2="270.90" stroke="#555" stroke-width="0.5"/>
<line x1="187.91" y1="269.60" x2="187.91" y2="270.90" stroke="#555" stroke-width="0.5"/>
<line x1="189.90" y1="269.60" x2="189.90" y2="270.90" stroke="#555" stroke-width="0.5"/>
<line x1="191.39" y1="269.60" x2="191.39" y2="270.90" stroke="#555" stroke-width="0.5"/>
<line x1="192.38" y1="269.60" x2="192.38" y2="270.90" stroke="#555" stroke-width="0.5"/>
<line x1="194.87" y1="269.60" x2="194.87" y2="270.90" stroke="#555" stroke-width="0.5"/>
<line x1="195.87" y1="269.60" x2="195.87" y2="270.90" stroke="#555" stroke-width="0.5"/>
<line x1="197.36" y1="269.60" x2="197.36" y2="270.90" stroke="#555" stroke-width="0.5"/>
<line x1="199.35" y1="269.60" x2="199.35" y2="270.90" stroke="#555" stroke-width="0.5"/>
<line x1="201.83" y1="269.60" x2="201.83" y2="270.90" stroke="#555" stroke-width="0.5"/>
<line x1="205.31" y1="269.60" x2="205.31" y2="270.90" stroke="#555" stroke-width="0.5"/>
<line x1="215.26" y1="269.60" x2="215.26" y2="270.90" stroke="#555" stroke-width="0.5"/>
<line x1="220.24" y1="269.60" x2="220.24" y2="270.90" stroke="#555" stroke-width="0.5"/>
<line x1="224.21" y1="269.60" x2="224.21" y2="270.90" stroke="#555" stroke-width="0.5"/>
<line x1="227.20" y1="269.60" x2="227.20" y2="270.90" stroke="#555" stroke-width="0.5"/>
<line x1="229.19" y1="269.60" x2="229.19" y2="270.90" stroke="#555" stroke-width="0.5"/>
<line x1="231.18" y1="269.60" x2="231.18" y2="270.90" stroke="#555" stroke-width="0.5"/>
<line x1="232.67" y1="269.60" x2="232.67" y2="270.90" stroke="#555" stroke-width="0.5"/>
<line x1="240.13" y1="269.60" x2="240.13" y2="270.90" stroke="#555" stroke-width="0.5"/>
<line x1="245.10" y1="269.60" x2="245.10" y2="270.90" stroke="#555" stroke-width="0.5"/>
<line x1="249.08" y1="269.60" x2="249.08" y2="270.90" stroke="#555" stroke-width="0.5"/>
<line x1="252.07" y1="269.60" x2="252.07" y2="270.90" stroke="#555" stroke-width="0.5"/>
<line x1="254.06" y1="269.60" x2="254.06" y2="270.90" stroke="#555" stroke-width="0.5"/>
<line x1="255.55" y1="269.60" x2="255.55" y2="270.90" stroke="#555" stroke-width="0.5"/>
<rect x="192.38" y="269.60" width="3.20" height="1.60" fill="#222" stroke="none" stroke-width="1"/>
<path d="M306.8,197.50 L306.8,197.50 L307.3,197.48 L307.8,197.46 L308.3,197.45 L308.8,197.43 L309.3,197.41 L309.8,197.40 L310.3,197.37 L310.8,197.35 L311.3,197.33 L311.8,197.31 L312.3,197.29 L312.8,197.27 L313.3,197.26 L313.8,197.25 L314.3,197.24 L314.8,197.23 L315.3,197.21 L315.8,197.19 L316.3,197.16 L316.8,197.12 L317.3,197.05 L317.8,196.98 L318.3,196.92 L318.8,196.85 L319.3,196.79 L319.8,196.73 L320.3,196.68 L320.8,196.66 L321.3,196.65 L321.8,196.64 L322.3,196.56 L322.8,196.46 L323.3,196.36 L323.8,196.33 L324.3,196.29 L324.8,196.26 L325.3,196.24 L325.8,196.22 L326.3,196.20 L326.8,196.17 L327.3,196.15 L327.8,196.12 L328.3,196.07 L328.8,195.99 L329.3,195.91 L329.8,195.79 L330.3,195.68 L330.8,195.56 L331.3,195.46 L331.8,195.37 L332.3,195.26 L332.8,195.10 L333.3,194.91 L333.8,194.70 L334.3,194.49 L334.8,194.27 L335.3,194.00 L335.8,193.68 L336.3,193.31 L336.8,192.72 L337.3,191.71 L337.8,190.59 L338.3,189.44 L338.8,188.00 L339.3,186.53 L339.8,185.07 L340.3,183.85 L340.8,183.08 L341.3,182.44 L341.8,181.81 L342.3,181.72 L342.8,182.32 L343.3,183.11 L343.8,184.02 L344.3,185.46 L344.8,187.11 L345.3,188.78 L345.8,190.37 L346.3,191.87 L346.8,193.33 L347.3,194.68 L347.8,195.47 L348.3,196.12 L348.8,196.68 L349.3,197.05 L349.8,197.50 L349.8,197.50 Z" fill="rgba(26,130,255,0.27)" stroke="none"/>
<line x1="272.50" y1="197.50" x2="366.50" y2="197.50" stroke="#8cc2ff" stroke-width="1.0"/>
<path d="M306.8,197.50 L306.8,197.50 L307.3,197.48 L307.8,197.46 L308.3,197.45 L308.8,197.43 L309.3,197.41 L309.8,197.40 L310.3,197.37 L310.8,197.35 L311.3,197.33 L311.8,197.31 L312.3,197.29 L312.8,197.27 L313.3,197.26 L313.8,197.25 L314.3,197.24 L314.8,197.23 L315.3,197.21 L315.8,197.19 L316.3,197.16 L316.8,197.12 L317.3,197.05 L317.8,196.98 L318.3,196.92 L318.8,196.85 L319.3,196.79 L319.8,196.73 L320.3,196.68 L320.8,196.66 L321.3,196.65 L321.8,196.64 L322.3,196.56 L322.8,196.46 L323.3,196.36 L323.8,196.33 L324.3,196.29 L324.8,196.26 L325.3,196.24 L325.8,196.22 L326.3,196.20 L326.8,196.17 L327.3,196.15 L327.8,196.12 L328.3,196.07 L328.8,195.99 L329.3,195.91 L329.8,195.79 L330.3,195.68 L330.8,195.56 L331.3,195.46 L331.8,195.37 L332.3,195.26 L332.8,195.10 L333.3,194.91 L333.8,194.70 L334.3,194.49 L334.8,194.27 L335.3,194.00 L335.8,193.68 L336.3,193.31 L336.8,192.72 L337.3,191.71 L337.8,190.59 L338.3,189.44 L338.8,188.00 L339.3,186.53 L339.8,185.07 L340.3,183.85 L340.8,183.08 L341.3,182.44 L341.8,181.81 L342.3,181.72 L342.8,182.32 L343.3,183.11 L343.8,184.02 L344.3,185.46 L344.8,187.11 L345.3,188.78 L345.8,190.37 L346.3,191.87 L346.8,193.33 L347.3,194.68 L347.8,195.47 L348.3,196.12 L348.8,196.68 L349.3,197.05 L349.8,197.50" fill="none" stroke="#1a82ff" stroke-width="1.3" stroke-linejoin="round"/>
<path d="M298.8,208.10 L298.8,208.10 L299.3,207.87 L299.8,207.58 L300.3,207.23 L300.8,206.89 L301.3,206.57 L301.8,206.25 L302.3,206.34 L302.8,206.44 L303.3,206.53 L303.8,206.05 L304.3,205.62 L304.8,205.22 L305.3,205.23 L305.8,205.23 L306.3,205.24 L306.8,204.96 L307.3,204.65 L307.8,204.32 L308.3,204.17 L308.8,204.02 L309.3,203.87 L309.8,203.92 L310.3,203.96 L310.8,203.98 L311.3,203.64 L311.8,203.29 L312.3,202.95 L312.8,202.79 L313.3,202.68 L313.8,202.61 L314.3,202.54 L314.8,202.47 L315.3,202.41 L315.8,202.23 L316.3,202.01 L316.8,201.75 L317.3,201.54 L317.8,201.33 L318.3,201.11 L318.8,201.08 L319.3,201.03 L319.8,200.98 L320.3,200.76 L320.8,200.91 L321.3,201.22 L321.8,201.45 L322.3,201.48 L322.8,201.37 L323.3,201.41 L323.8,201.46 L324.3,201.50 L324.8,201.33 L325.3,201.25 L325.8,201.22 L326.3,201.58 L326.8,201.94 L327.3,202.30 L327.8,202.42 L328.3,202.52 L328.8,202.60 L329.3,202.59 L329.8,202.57 L330.3,202.56 L330.8,202.83 L331.3,203.10 L331.8,203.37 L332.3,203.14 L332.8,202.90 L333.3,202.67 L333.8,202.98 L334.3,203.30 L334.8,203.64 L335.3,203.87 L335.8,204.10 L336.3,204.33 L336.8,204.13 L337.3,203.92 L337.8,203.69 L338.3,203.91 L338.8,204.12 L339.3,204.34 L339.8,204.37 L340.3,204.45 L340.8,204.56 L341.3,204.87 L341.8,205.19 L342.3,205.50 L342.8,205.48 L343.3,205.53 L343.8,205.63 L344.3,205.98 L344.8,206.34 L345.3,206.70 L345.8,207.13 L346.3,207.45 L346.8,207.68 L347.3,207.68 L347.8,207.75 L348.3,207.89 L348.8,208.10 L348.8,208.10 Z" fill="rgba(255,40,40,0.22)" stroke="none"/>
<line x1="272.50" y1="208.10" x2="366.50" y2="208.10" stroke="#ffa8a8" stroke-width="1.0"/>
<path d="M298.8,208.10 L298.8,208.10 L299.3,207.87 L299.8,207.58 L300.3,207.23 L300.8,206.89 L301.3,206.57 L301.8,206.25 L302.3,206.34 L302.8,206.44 L303.3,206.53 L303.8,206.05 L304.3,205.62 L304.8,205.22 L305.3,205.23 L305.8,205.23 L306.3,205.24 L306.8,204.96 L307.3,204.65 L307.8,204.32 L308.3,204.17 L308.8,204.02 L309.3,203.87 L309.8,203.92 L310.3,203.96 L310.8,203.98 L311.3,203.64 L311.8,203.29 L312.3,202.95 L312.8,202.79 L313.3,202.68 L313.8,202.61 L314.3,202.54 L314.8,202.47 L315.3,202.41 L315.8,202.23 L316.3,202.01 L316.8,201.75 L317.3,201.54 L317.8,201.33 L318.3,201.11 L318.8,201.08 L319.3,201.03 L319.8,200.98 L320.3,200.76 L320.8,200.91 L321.3,201.22 L321.8,201.45 L322.3,201.48 L322.8,201.37 L323.3,201.41 L323.8,201.46 L324.3,201.50 L324.8,201.33 L325.3,201.25 L325.8,201.22 L326.3,201.58 L326.8,201.94 L327.3,202.30 L327.8,202.42 L328.3,202.52 L328.8,202.60 L329.3,202.59 L329.8,202.57 L330.3,202.56 L330.8,202.83 L331.3,203.10 L331.8,203.37 L332.3,203.14 L332.8,202.90 L333.3,202.67 L333.8,202.98 L334.3,203.30 L334.8,203.64 L335.3,203.87 L335.8,204.10 L336.3,204.33 L336.8,204.13 L337.3,203.92 L337.8,203.69 L338.3,203.91 L338.8,204.12 L339.3,204.34 L339.8,204.37 L340.3,204.45 L340.8,204.56 L341.3,204.87 L341.8,205.19 L342.3,205.50 L342.8,205.48 L343.3,205.53 L343.8,205.63 L344.3,205.98 L344.8,206.34 L345.3,206.70 L345.8,207.13 L346.3,207.45 L346.8,207.68 L347.3,207.68 L347.8,207.75 L348.3,207.89 L348.8,208.10" fill="none" stroke="#ff1414" stroke-width="1.3" stroke-linejoin="round"/>
<path d="M306.9,218.30 L306.9,218.30 L307.4,218.28 L307.9,218.27 L308.4,218.25 L308.9,218.23 L309.4,218.21 L309.9,218.19 L310.4,218.17 L310.9,218.16 L311.4,218.14 L311.9,218.12 L312.4,218.11 L312.9,218.09 L313.4,218.07 L313.9,218.06 L314.4,218.04 L314.9,218.02 L315.4,217.99 L315.9,217.97 L316.4,217.95 L316.9,217.93 L317.4,217.88 L317.9,217.79 L318.4,217.70 L318.9,217.61 L319.4,217.56 L319.9,217.52 L320.4,217.50 L320.9,217.45 L321.4,217.40 L321.9,217.35 L322.4,217.31 L322.9,217.27 L323.4,217.22 L323.9,217.16 L324.4,217.09 L324.9,217.02 L325.4,217.01 L325.9,217.00 L326.4,217.00 L326.9,216.96 L327.4,216.93 L327.9,216.89 L328.4,216.83 L328.9,216.74 L329.4,216.65 L329.9,216.55 L330.4,216.45 L330.9,216.35 L331.4,216.26 L331.9,216.16 L332.4,216.06 L332.9,215.90 L333.4,215.71 L333.9,215.51 L334.4,215.34 L334.9,215.13 L335.4,214.77 L335.9,214.24 L336.4,213.62 L336.9,212.69 L337.4,211.49 L337.9,210.19 L338.4,208.83 L338.9,207.22 L339.4,205.58 L339.9,203.96 L340.4,202.68 L340.9,201.85 L341.4,201.12 L341.9,200.47 L342.4,200.60 L342.9,201.34 L343.4,202.24 L343.9,203.32 L344.4,205.11 L344.9,206.97 L345.4,208.81 L345.9,210.53 L346.4,212.24 L346.9,213.90 L347.4,215.36 L347.9,216.23 L348.4,216.96 L348.9,217.53 L349.4,217.89 L349.9,218.30 L349.9,218.30 Z" fill="rgba(26,130,255,0.27)" stroke="none"/>
<line x1="272.50" y1="218.30" x2="366.50" y2="218.30" stroke="#8cc2ff" stroke-width="1.0"/>
<path d="M306.9,218.30 L306.9,218.30 L307.4,218.28 L307.9,218.27 L308.4,218.25 L308.9,218.23 L309.4,218.21 L309.9,218.19 L310.4,218.17 L310.9,218.16 L311.4,218.14 L311.9,218.12 L312.4,218.11 L312.9,218.09 L313.4,218.07 L313.9,218.06 L314.4,218.04 L314.9,218.02 L315.4,217.99 L315.9,217.97 L316.4,217.95 L316.9,217.93 L317.4,217.88 L317.9,217.79 L318.4,217.70 L318.9,217.61 L319.4,217.56 L319.9,217.52 L320.4,217.50 L320.9,217.45 L321.4,217.40 L321.9,217.35 L322.4,217.31 L322.9,217.27 L323.4,217.22 L323.9,217.16 L324.4,217.09 L324.9,217.02 L325.4,217.01 L325.9,217.00 L326.4,217.00 L326.9,216.96 L327.4,216.93 L327.9,216.89 L328.4,216.83 L328.9,216.74 L329.4,216.65 L329.9,216.55 L330.4,216.45 L330.9,216.35 L331.4,216.26 L331.9,216.16 L332.4,216.06 L332.9,215.90 L333.4,215.71 L333.9,215.51 L334.4,215.34 L334.9,215.13 L335.4,214.77 L335.9,214.24 L336.4,213.62 L336.9,212.69 L337.4,211.49 L337.9,210.19 L338.4,208.83 L338.9,207.22 L339.4,205.58 L339.9,203.96 L340.4,202.68 L340.9,201.85 L341.4,201.12 L341.9,200.47 L342.4,200.60 L342.9,201.34 L343.4,202.24 L343.9,203.32 L344.4,205.11 L344.9,206.97 L345.4,208.81 L345.9,210.53 L346.4,212.24 L346.9,213.90 L347.4,215.36 L347.9,216.23 L348.4,216.96 L348.9,217.53 L349.4,217.89 L349.9,218.30" fill="none" stroke="#1a82ff" stroke-width="1.3" stroke-linejoin="round"/>
<path d="M300.9,228.40 L300.9,228.40 L301.4,228.38 L301.9,228.37 L302.4,228.35 L302.9,228.33 L303.4,228.31 L303.9,228.30 L304.4,228.28 L304.9,228.26 L305.4,228.24 L305.9,228.22 L306.4,228.21 L306.9,228.19 L307.4,228.18 L307.9,228.17 L308.4,228.16 L308.9,228.14 L309.4,228.13 L309.9,228.11 L310.4,228.10 L310.9,228.08 L311.4,228.06 L311.9,228.02 L312.4,227.98 L312.9,227.94 L313.4,227.92 L313.9,227.90 L314.4,227.88 L314.9,227.84 L315.4,227.80 L315.9,227.76 L316.4,227.75 L316.9,227.75 L317.4,227.74 L317.9,227.71 L318.4,227.66 L318.9,227.62 L319.4,227.59 L319.9,227.55 L320.4,227.51 L320.9,227.50 L321.4,227.49 L321.9,227.49 L322.4,227.41 L322.9,227.33 L323.4,227.24 L323.9,227.22 L324.4,227.20 L324.9,227.18 L325.4,227.12 L325.9,227.06 L326.4,227.00 L326.9,226.93 L327.4,226.87 L327.9,226.79 L328.4,226.81 L328.9,226.80 L329.4,226.79 L329.9,226.68 L330.4,226.58 L330.9,226.47 L331.4,226.29 L331.9,226.10 L332.4,225.91 L332.9,225.84 L333.4,225.74 L333.9,225.63 L334.4,225.37 L334.9,225.08 L335.4,224.63 L335.9,224.16 L336.4,223.61 L336.9,222.75 L337.4,221.52 L337.9,220.19 L338.4,218.81 L338.9,217.19 L339.4,215.54 L339.9,213.92 L340.4,212.57 L340.9,211.67 L341.4,210.87 L341.9,210.34 L342.4,210.59 L342.9,211.46 L343.4,212.26 L343.9,213.24 L344.4,214.93 L344.9,216.89 L345.4,218.82 L345.9,220.63 L346.4,222.32 L346.9,223.95 L347.4,225.38 L347.9,226.30 L348.4,227.08 L348.9,227.66 L349.4,228.01 L349.9,228.40 L349.9,228.40 Z" fill="rgba(26,130,255,0.27)" stroke="none"/>
<line x1="272.50" y1="228.40" x2="366.50" y2="228.40" stroke="#8cc2ff" stroke-width="1.0"/>
<path d="M300.9,228.40 L300.9,228.40 L301.4,228.38 L301.9,228.37 L302.4,228.35 L302.9,228.33 L303.4,228.31 L303.9,228.30 L304.4,228.28 L304.9,228.26 L305.4,228.24 L305.9,228.22 L306.4,228.21 L306.9,228.19 L307.4,228.18 L307.9,228.17 L308.4,228.16 L308.9,228.14 L309.4,228.13 L309.9,228.11 L310.4,228.10 L310.9,228.08 L311.4,228.06 L311.9,228.02 L312.4,227.98 L312.9,227.94 L313.4,227.92 L313.9,227.90 L314.4,227.88 L314.9,227.84 L315.4,227.80 L315.9,227.76 L316.4,227.75 L316.9,227.75 L317.4,227.74 L317.9,227.71 L318.4,227.66 L318.9,227.62 L319.4,227.59 L319.9,227.55 L320.4,227.51 L320.9,227.50 L321.4,227.49 L321.9,227.49 L322.4,227.41 L322.9,227.33 L323.4,227.24 L323.9,227.22 L324.4,227.20 L324.9,227.18 L325.4,227.12 L325.9,227.06 L326.4,227.00 L326.9,226.93 L327.4,226.87 L327.9,226.79 L328.4,226.81 L328.9,226.80 L329.4,226.79 L329.9,226.68 L330.4,226.58 L330.9,226.47 L331.4,226.29 L331.9,226.10 L332.4,225.91 L332.9,225.84 L333.4,225.74 L333.9,225.63 L334.4,225.37 L334.9,225.08 L335.4,224.63 L335.9,224.16 L336.4,223.61 L336.9,222.75 L337.4,221.52 L337.9,220.19 L338.4,218.81 L338.9,217.19 L339.4,215.54 L339.9,213.92 L340.4,212.57 L340.9,211.67 L341.4,210.87 L341.9,210.34 L342.4,210.59 L342.9,211.46 L343.4,212.26 L343.9,213.24 L344.4,214.93 L344.9,216.89 L345.4,218.82 L345.9,220.63 L346.4,222.32 L346.9,223.95 L347.4,225.38 L347.9,226.30 L348.4,227.08 L348.9,227.66 L349.4,228.01 L349.9,228.40" fill="none" stroke="#1a82ff" stroke-width="1.3" stroke-linejoin="round"/>
<path d="M296.9,238.60 L296.9,238.60 L297.4,238.58 L297.9,238.56 L298.4,238.54 L298.9,238.52 L299.4,238.51 L299.9,238.49 L300.4,238.47 L300.9,238.46 L301.4,238.45 L301.9,238.43 L302.4,238.40 L302.9,238.38 L303.4,238.37 L303.9,238.35 L304.4,238.33 L304.9,238.31 L305.4,238.29 L305.9,238.27 L306.4,238.25 L306.9,238.22 L307.4,238.20 L307.9,238.20 L308.4,238.20 L308.9,238.20 L309.4,238.18 L309.9,238.16 L310.4,238.13 L310.9,238.13 L311.4,238.12 L311.9,238.12 L312.4,238.10 L312.9,238.09 L313.4,238.08 L313.9,238.05 L314.4,238.03 L314.9,238.00 L315.4,237.96 L315.9,237.92 L316.4,237.88 L316.9,237.89 L317.4,237.90 L317.9,237.91 L318.4,237.89 L318.9,237.88 L319.4,237.86 L319.9,237.81 L320.4,237.75 L320.9,237.68 L321.4,237.64 L321.9,237.60 L322.4,237.56 L322.9,237.55 L323.4,237.53 L323.9,237.52 L324.4,237.50 L324.9,237.49 L325.4,237.48 L325.9,237.40 L326.4,237.32 L326.9,237.24 L327.4,237.22 L327.9,237.20 L328.4,237.18 L328.9,237.04 L329.4,236.89 L329.9,236.74 L330.4,236.63 L330.9,236.51 L331.4,236.40 L331.9,236.34 L332.4,236.27 L332.9,236.20 L333.4,236.03 L333.9,235.85 L334.4,235.67 L334.9,235.53 L335.4,235.34 L335.9,234.93 L336.4,234.42 L336.9,233.80 L337.4,232.70 L337.9,231.35 L338.4,229.95 L338.9,228.44 L339.4,226.83 L339.9,225.20 L340.4,223.65 L340.9,222.59 L341.4,221.82 L341.9,221.10 L342.4,220.60 L342.9,221.21 L343.4,222.09 L343.9,223.00 L344.4,224.30 L344.9,226.10 L345.4,228.06 L345.9,229.97 L346.4,231.69 L346.9,233.27 L347.4,234.77 L347.9,235.91 L348.4,236.77 L348.9,237.52 L349.4,237.98 L349.9,238.30 L350.4,238.60 L350.4,238.60 Z" fill="rgba(26,130,255,0.27)" stroke="none"/>
<line x1="272.50" y1="238.60" x2="366.50" y2="238.60" stroke="#8cc2ff" stroke-width="1.0"/>
<path d="M296.9,238.60 L296.9,238.60 L297.4,238.58 L297.9,238.56 L298.4,238.54 L298.9,238.52 L299.4,238.51 L299.9,238.49 L300.4,238.47 L300.9,238.46 L301.4,238.45 L301.9,238.43 L302.4,238.40 L302.9,238.38 L303.4,238.37 L303.9,238.35 L304.4,238.33 L304.9,238.31 L305.4,238.29 L305.9,238.27 L306.4,238.25 L306.9,238.22 L307.4,238.20 L307.9,238.20 L308.4,238.20 L308.9,238.20 L309.4,238.18 L309.9,238.16 L310.4,238.13 L310.9,238.13 L311.4,238.12 L311.9,238.12 L312.4,238.10 L312.9,238.09 L313.4,238.08 L313.9,238.05 L314.4,238.03 L314.9,238.00 L315.4,237.96 L315.9,237.92 L316.4,237.88 L316.9,237.89 L317.4,237.90 L317.9,237.91 L318.4,237.89 L318.9,237.88 L319.4,237.86 L319.9,237.81 L320.4,237.75 L320.9,237.68 L321.4,237.64 L321.9,237.60 L322.4,237.56 L322.9,237.55 L323.4,237.53 L323.9,237.52 L324.4,237.50 L324.9,237.49 L325.4,237.48 L325.9,237.40 L326.4,237.32 L326.9,237.24 L327.4,237.22 L327.9,237.20 L328.4,237.18 L328.9,237.04 L329.4,236.89 L329.9,236.74 L330.4,236.63 L330.9,236.51 L331.4,236.40 L331.9,236.34 L332.4,236.27 L332.9,236.20 L333.4,236.03 L333.9,235.85 L334.4,235.67 L334.9,235.53 L335.4,235.34 L335.9,234.93 L336.4,234.42 L336.9,233.80 L337.4,232.70 L337.9,231.35 L338.4,229.95 L338.9,228.44 L339.4,226.83 L339.9,225.20 L340.4,223.65 L340.9,222.59 L341.4,221.82 L341.9,221.10 L342.4,220.60 L342.9,221.21 L343.4,222.09 L343.9,223.00 L344.4,224.30 L344.9,226.10 L345.4,228.06 L345.9,229.97 L346.4,231.69 L346.9,233.27 L347.4,234.77 L347.9,235.91 L348.4,236.77 L348.9,237.52 L349.4,237.98 L349.9,238.30 L350.4,238.60" fill="none" stroke="#1a82ff" stroke-width="1.3" stroke-linejoin="round"/>
<path d="M305.9,249.20 L305.9,249.20 L306.4,249.18 L306.9,249.17 L307.4,249.15 L307.9,249.13 L308.4,249.11 L308.9,249.10 L309.4,249.08 L309.9,249.06 L310.4,249.04 L310.9,249.03 L311.4,249.02 L311.9,249.01 L312.4,248.99 L312.9,248.97 L313.4,248.95 L313.9,248.93 L314.4,248.90 L314.9,248.88 L315.4,248.86 L315.9,248.84 L316.4,248.79 L316.9,248.76 L317.4,248.73 L317.9,248.70 L318.4,248.66 L318.9,248.62 L319.4,248.58 L319.9,248.49 L320.4,248.40 L320.9,248.31 L321.4,248.31 L321.9,248.32 L322.4,248.33 L322.9,248.26 L323.4,248.19 L323.9,248.12 L324.4,248.10 L324.9,248.08 L325.4,248.06 L325.9,247.99 L326.4,247.91 L326.9,247.83 L327.4,247.80 L327.9,247.76 L328.4,247.72 L328.9,247.66 L329.4,247.58 L329.9,247.50 L330.4,247.41 L330.9,247.32 L331.4,247.23 L331.9,247.09 L332.4,246.96 L332.9,246.82 L333.4,246.63 L333.9,246.41 L334.4,246.19 L334.9,246.02 L335.4,245.81 L335.9,245.46 L336.4,245.00 L336.9,244.47 L337.4,243.63 L337.9,242.35 L338.4,240.97 L338.9,239.54 L339.4,238.05 L339.9,236.53 L340.4,235.04 L340.9,233.73 L341.4,232.86 L341.9,232.10 L342.4,231.47 L342.9,231.62 L343.4,232.38 L343.9,233.25 L344.4,234.30 L344.9,236.05 L345.4,237.98 L345.9,239.90 L346.4,241.68 L346.9,243.27 L347.4,244.80 L347.9,246.13 L348.4,247.04 L348.9,247.82 L349.4,248.42 L349.9,248.78 L350.4,249.20 L350.4,249.20 Z" fill="rgba(26,130,255,0.27)" stroke="none"/>
<line x1="272.50" y1="249.20" x2="366.50" y2="249.20" stroke="#8cc2ff" stroke-width="1.0"/>
<path d="M305.9,249.20 L305.9,249.20 L306.4,249.18 L306.9,249.17 L307.4,249.15 L307.9,249.13 L308.4,249.11 L308.9,249.10 L309.4,249.08 L309.9,249.06 L310.4,249.04 L310.9,249.03 L311.4,249.02 L311.9,249.01 L312.4,248.99 L312.9,248.97 L313.4,248.95 L313.9,248.93 L314.4,248.90 L314.9,248.88 L315.4,248.86 L315.9,248.84 L316.4,248.79 L316.9,248.76 L317.4,248.73 L317.9,248.70 L318.4,248.66 L318.9,248.62 L319.4,248.58 L319.9,248.49 L320.4,248.40 L320.9,248.31 L321.4,248.31 L321.9,248.32 L322.4,248.33 L322.9,248.26 L323.4,248.19 L323.9,248.12 L324.4,248.10 L324.9,248.08 L325.4,248.06 L325.9,247.99 L326.4,247.91 L326.9,247.83 L327.4,247.80 L327.9,247.76 L328.4,247.72 L328.9,247.66 L329.4,247.58 L329.9,247.50 L330.4,247.41 L330.9,247.32 L331.4,247.23 L331.9,247.09 L332.4,246.96 L332.9,246.82 L333.4,246.63 L333.9,246.41 L334.4,246.19 L334.9,246.02 L335.4,245.81 L335.9,245.46 L336.4,245.00 L336.9,244.47 L337.4,243.63 L337.9,242.35 L338.4,240.97 L338.9,239.54 L339.4,238.05 L339.9,236.53 L340.4,235.04 L340.9,233.73 L341.4,232.86 L341.9,232.10 L342.4,231.47 L342.9,231.62 L343.4,232.38 L343.9,233.25 L344.4,234.30 L344.9,236.05 L345.4,237.98 L345.9,239.90 L346.4,241.68 L346.9,243.27 L347.4,244.80 L347.9,246.13 L348.4,247.04 L348.9,247.82 L349.4,248.42 L349.9,248.78 L350.4,249.20" fill="none" stroke="#1a82ff" stroke-width="1.3" stroke-linejoin="round"/>
<path d="M311.9,259.20 L311.9,259.20 L312.4,259.18 L312.9,259.17 L313.4,259.15 L313.9,259.13 L314.4,259.11 L314.9,259.09 L315.4,259.07 L315.9,259.06 L316.4,259.04 L316.9,259.03 L317.4,259.01 L317.9,259.01 L318.4,258.98 L318.9,258.96 L319.4,258.94 L319.9,258.93 L320.4,258.92 L320.9,258.91 L321.4,258.87 L321.9,258.74 L322.4,258.28 L322.9,258.15 L323.4,258.12 L323.9,258.09 L324.4,258.09 L324.9,258.10 L325.4,258.11 L325.9,258.00 L326.4,257.90 L326.9,257.79 L327.4,257.78 L327.9,257.76 L328.4,257.75 L328.9,257.71 L329.4,257.65 L329.9,257.58 L330.4,257.45 L330.9,257.32 L331.4,257.19 L331.9,257.09 L332.4,256.99 L332.9,256.88 L333.4,256.69 L333.9,256.47 L334.4,256.23 L334.9,256.14 L335.4,256.03 L335.9,255.79 L336.4,255.29 L336.9,254.74 L337.4,253.95 L337.9,252.65 L338.4,251.23 L338.9,249.78 L339.4,248.26 L339.9,246.70 L340.4,245.13 L340.9,243.72 L341.4,242.84 L341.9,242.08 L342.4,241.37 L342.9,241.27 L343.4,241.95 L343.9,242.81 L344.4,243.82 L344.9,245.43 L345.4,247.37 L345.9,249.34 L346.4,251.22 L346.9,252.83 L347.4,254.39 L347.9,255.83 L348.4,256.87 L348.9,257.75 L349.4,258.44 L349.9,258.75 L350.4,259.20 L350.4,259.20 Z" fill="rgba(26,130,255,0.27)" stroke="none"/>
<line x1="272.50" y1="259.20" x2="366.50" y2="259.20" stroke="#8cc2ff" stroke-width="1.0"/>
<path d="M311.9,259.20 L311.9,259.20 L312.4,259.18 L312.9,259.17 L313.4,259.15 L313.9,259.13 L314.4,259.11 L314.9,259.09 L315.4,259.07 L315.9,259.06 L316.4,259.04 L316.9,259.03 L317.4,259.01 L317.9,259.01 L318.4,258.98 L318.9,258.96 L319.4,258.94 L319.9,258.93 L320.4,258.92 L320.9,258.91 L321.4,258.87 L321.9,258.74 L322.4,258.28 L322.9,258.15 L323.4,258.12 L323.9,258.09 L324.4,258.09 L324.9,258.10 L325.4,258.11 L325.9,258.00 L326.4,257.90 L326.9,257.79 L327.4,257.78 L327.9,257.76 L328.4,257.75 L328.9,257.71 L329.4,257.65 L329.9,257.58 L330.4,257.45 L330.9,257.32 L331.4,257.19 L331.9,257.09 L332.4,256.99 L332.9,256.88 L333.4,256.69 L333.9,256.47 L334.4,256.23 L334.9,256.14 L335.4,256.03 L335.9,255.79 L336.4,255.29 L336.9,254.74 L337.4,253.95 L337.9,252.65 L338.4,251.23 L338.9,249.78 L339.4,248.26 L339.9,246.70 L340.4,245.13 L340.9,243.72 L341.4,242.84 L341.9,242.08 L342.4,241.37 L342.9,241.27 L343.4,241.95 L343.9,242.81 L344.4,243.82 L344.9,245.43 L345.4,247.37 L345.9,249.34 L346.4,251.22 L346.9,252.83 L347.4,254.39 L347.9,255.83 L348.4,256.87 L348.9,257.75 L349.4,258.44 L349.9,258.75 L350.4,259.20" fill="none" stroke="#1a82ff" stroke-width="1.3" stroke-linejoin="round"/>
<path d="M299.0,269.60 L299.0,269.60 L299.5,269.28 L300.0,268.92 L300.5,268.52 L301.0,268.42 L301.5,268.47 L302.0,268.64 L302.5,268.30 L303.0,267.96 L303.5,267.61 L304.0,267.09 L304.5,266.56 L305.0,266.04 L305.5,265.84 L306.0,265.63 L306.5,265.38 L307.0,265.20 L307.5,265.03 L308.0,264.85 L308.5,264.31 L309.0,263.76 L309.5,263.22 L310.0,263.05 L310.5,262.89 L311.0,262.72 L311.5,262.67 L312.0,262.62 L312.5,262.56 L313.0,262.28 L313.5,262.00 L314.0,261.72 L314.5,261.25 L315.0,260.78 L315.5,260.32 L316.0,259.83 L316.5,259.33 L317.0,258.87 L317.5,258.80 L318.0,258.76 L318.5,258.72 L319.0,258.73 L319.5,258.87 L320.0,259.05 L320.5,259.05 L321.0,259.07 L321.5,259.20 L322.0,259.45 L322.5,259.71 L323.0,259.96 L323.5,260.48 L324.0,261.01 L324.5,261.61 L325.0,262.14 L325.5,262.67 L326.0,263.19 L326.5,263.60 L327.0,264.00 L327.5,264.39 L328.0,264.53 L328.5,264.66 L329.0,264.80 L329.5,265.29 L330.0,265.75 L330.5,266.08 L331.0,265.92 L331.5,265.76 L332.0,265.60 L332.5,266.21 L333.0,266.82 L333.5,267.43 L334.0,267.30 L334.5,267.13 L335.0,266.94 L335.5,267.30 L336.0,267.65 L336.5,268.00 L337.0,268.16 L337.5,268.33 L338.0,268.48 L338.5,268.44 L339.0,268.40 L339.5,268.35 L340.0,268.34 L340.5,268.33 L341.0,268.33 L341.5,268.32 L342.0,268.32 L342.5,268.34 L343.0,268.61 L343.5,268.85 L344.0,269.05 L344.5,268.96 L345.0,268.92 L345.5,268.95 L346.0,269.18 L346.5,269.37 L347.0,269.60 L347.0,269.60 Z" fill="rgba(255,40,40,0.22)" stroke="none"/>
<line x1="272.50" y1="269.60" x2="366.50" y2="269.60" stroke="#ffa8a8" stroke-width="1.0"/>
<path d="M299.0,269.60 L299.0,269.60 L299.5,269.28 L300.0,268.92 L300.5,268.52 L301.0,268.42 L301.5,268.47 L302.0,268.64 L302.5,268.30 L303.0,267.96 L303.5,267.61 L304.0,267.09 L304.5,266.56 L305.0,266.04 L305.5,265.84 L306.0,265.63 L306.5,265.38 L307.0,265.20 L307.5,265.03 L308.0,264.85 L308.5,264.31 L309.0,263.76 L309.5,263.22 L310.0,263.05 L310.5,262.89 L311.0,262.72 L311.5,262.67 L312.0,262.62 L312.5,262.56 L313.0,262.28 L313.5,262.00 L314.0,261.72 L314.5,261.25 L315.0,260.78 L315.5,260.32 L316.0,259.83 L316.5,259.33 L317.0,258.87 L317.5,258.80 L318.0,258.76 L318.5,258.72 L319.0,258.73 L319.5,258.87 L320.0,259.05 L320.5,259.05 L321.0,259.07 L321.5,259.20 L322.0,259.45 L322.5,259.71 L323.0,259.96 L323.5,260.48 L324.0,261.01 L324.5,261.61 L325.0,262.14 L325.5,262.67 L326.0,263.19 L326.5,263.60 L327.0,264.00 L327.5,264.39 L328.0,264.53 L328.5,264.66 L329.0,264.80 L329.5,265.29 L330.0,265.75 L330.5,266.08 L331.0,265.92 L331.5,265.76 L332.0,265.60 L332.5,266.21 L333.0,266.82 L333.5,267.43 L334.0,267.30 L334.5,267.13 L335.0,266.94 L335.5,267.30 L336.0,267.65 L336.5,268.00 L337.0,268.16 L337.5,268.33 L338.0,268.48 L338.5,268.44 L339.0,268.40 L339.5,268.35 L340.0,268.34 L340.5,268.33 L341.0,268.33 L341.5,268.32 L342.0,268.32 L342.5,268.34 L343.0,268.61 L343.5,268.85 L344.0,269.05 L344.5,268.96 L345.0,268.92 L345.5,268.95 L346.0,269.18 L346.5,269.37 L347.0,269.60" fill="none" stroke="#ff1414" stroke-width="1.3" stroke-linejoin="round"/>
<rect x="272.50" y="175.60" width="94.00" height="94.00" fill="none" stroke="#9a9a9a" stroke-width="1"/>
<line x1="281.25" y1="269.60" x2="281.25" y2="272.00" stroke="#111" stroke-width="0.7"/>
<text x="281.25" y="277.40" font-size="4.4" text-anchor="middle" fill="#333">-10<tspan dy="-1.5" font-size="3.5">3</tspan></text>
<line x1="295.68" y1="269.60" x2="295.68" y2="272.00" stroke="#111" stroke-width="0.7"/>
<text x="295.68" y="277.40" font-size="4.4" text-anchor="middle" fill="#333">0</text>
<line x1="311.69" y1="269.60" x2="311.69" y2="272.00" stroke="#111" stroke-width="0.7"/>
<text x="311.69" y="277.40" font-size="4.4" text-anchor="middle" fill="#333">10<tspan dy="-1.5" font-size="3.5">3</tspan></text>
<line x1="336.46" y1="269.60" x2="336.46" y2="272.00" stroke="#111" stroke-width="0.7"/>
<text x="336.46" y="277.40" font-size="4.4" text-anchor="middle" fill="#333">10<tspan dy="-1.5" font-size="3.5">4</tspan></text>
<line x1="358.84" y1="269.60" x2="358.84" y2="272.00" stroke="#111" stroke-width="0.7"/>
<text x="358.84" y="277.40" font-size="4.4" text-anchor="middle" fill="#333">10<tspan dy="-1.5" font-size="3.5">5</tspan></text>
<line x1="284.44" y1="269.60" x2="284.44" y2="270.90" stroke="#555" stroke-width="0.5"/>
<line x1="287.42" y1="269.60" x2="287.42" y2="270.90" stroke="#555" stroke-width="0.5"/>
<line x1="289.91" y1="269.60" x2="289.91" y2="270.90" stroke="#555" stroke-width="0.5"/>
<line x1="291.90" y1="269.60" x2="291.90" y2="270.90" stroke="#555" stroke-width="0.5"/>
<line x1="293.39" y1="269.60" x2="293.39" y2="270.90" stroke="#555" stroke-width="0.5"/>
<line x1="294.38" y1="269.60" x2="294.38" y2="270.90" stroke="#555" stroke-width="0.5"/>
<line x1="296.87" y1="269.60" x2="296.87" y2="270.90" stroke="#555" stroke-width="0.5"/>
<line x1="297.87" y1="269.60" x2="297.87" y2="270.90" stroke="#555" stroke-width="0.5"/>
<line x1="299.36" y1="269.60" x2="299.36" y2="270.90" stroke="#555" stroke-width="0.5"/>
<line x1="301.35" y1="269.60" x2="301.35" y2="270.90" stroke="#555" stroke-width="0.5"/>
<line x1="303.83" y1="269.60" x2="303.83" y2="270.90" stroke="#555" stroke-width="0.5"/>
<line x1="307.31" y1="269.60" x2="307.31" y2="270.90" stroke="#555" stroke-width="0.5"/>
<line x1="317.26" y1="269.60" x2="317.26" y2="270.90" stroke="#555" stroke-width="0.5"/>
<line x1="322.24" y1="269.60" x2="322.24" y2="270.90" stroke="#555" stroke-width="0.5"/>
<line x1="326.21" y1="269.60" x2="326.21" y2="270.90" stroke="#555" stroke-width="0.5"/>
<line x1="329.20" y1="269.60" x2="329.20" y2="270.90" stroke="#555" stroke-width="0.5"/>
<line x1="331.19" y1="269.60" x2="331.19" y2="270.90" stroke="#555" stroke-width="0.5"/>
<line x1="333.18" y1="269.60" x2="333.18" y2="270.90" stroke="#555" stroke-width="0.5"/>
<line x1="334.67" y1="269.60" x2="334.67" y2="270.90" stroke="#555" stroke-width="0.5"/>
<line x1="342.13" y1="269.60" x2="342.13" y2="270.90" stroke="#555" stroke-width="0.5"/>
<line x1="347.10" y1="269.60" x2="347.10" y2="270.90" stroke="#555" stroke-width="0.5"/>
<line x1="351.08" y1="269.60" x2="351.08" y2="270.90" stroke="#555" stroke-width="0.5"/>
<line x1="354.07" y1="269.60" x2="354.07" y2="270.90" stroke="#555" stroke-width="0.5"/>
<line x1="356.06" y1="269.60" x2="356.06" y2="270.90" stroke="#555" stroke-width="0.5"/>
<line x1="357.55" y1="269.60" x2="357.55" y2="270.90" stroke="#555" stroke-width="0.5"/>
<rect x="294.38" y="269.60" width="3.20" height="1.60" fill="#222" stroke="none" stroke-width="1"/>
<line x1="71.50" y1="284.80" x2="272.00" y2="284.80" stroke="#000" stroke-width="1.1"/>
<path d="M279,284.8 L270.5,281.8 L270.5,287.8 Z" fill="#000"/>
<text x="289.00" y="288.80" font-size="10" text-anchor="start" fill="#1c1c1c">Celltrace Violet</text>
<text x="-0.30" y="320.60" font-size="16" text-anchor="start" font-weight="bold" fill="#000">e</text>
<text x="252.30" y="321.30" font-size="16" text-anchor="start" font-weight="bold" fill="#000">f</text>
<text x="490.00" y="320.30" font-size="16" text-anchor="start" font-weight="bold" fill="#000">g</text>
<line x1="50.00" y1="422.10" x2="50.00" y2="337.90" stroke="#222" stroke-width="1"/>
<line x1="46.40" y1="421.60" x2="50.00" y2="421.60" stroke="#222" stroke-width="1"/>
<text x="43.60" y="425.05" font-size="9.7" text-anchor="end" fill="#1c1c1c">0</text>
<line x1="46.40" y1="393.70" x2="50.00" y2="393.70" stroke="#222" stroke-width="1"/>
<text x="43.60" y="397.15" font-size="9.7" text-anchor="end" fill="#1c1c1c">5</text>
<line x1="46.40" y1="365.80" x2="50.00" y2="365.80" stroke="#222" stroke-width="1"/>
<text x="43.60" y="369.25" font-size="9.7" text-anchor="end" fill="#1c1c1c">10</text>
<line x1="46.40" y1="337.90" x2="50.00" y2="337.90" stroke="#222" stroke-width="1"/>
<text x="43.60" y="341.35" font-size="9.7" text-anchor="end" fill="#1c1c1c">15</text>
<line x1="49.50" y1="421.60" x2="105.90" y2="421.60" stroke="#222" stroke-width="1"/>
<line x1="65.80" y1="421.60" x2="65.80" y2="425.10" stroke="#222" stroke-width="1"/>
<line x1="89.80" y1="421.60" x2="89.80" y2="425.10" stroke="#222" stroke-width="1"/>
<text x="80.20" y="328.70" font-size="10" text-anchor="middle" fill="#1c1c1c">CD4/IFN-<tspan font-family="Liberation Serif, serif">γ</tspan></text>
<text x="79.60" y="346.70" font-size="8.7" text-anchor="middle" fill="#1c1c1c" textLength="35" lengthAdjust="spacingAndGlyphs"><tspan font-style="italic">p</tspan>=0.0038</text>
<line x1="64.90" y1="349.50" x2="90.80" y2="349.50" stroke="#333" stroke-width="1"/>
<line x1="58.10" y1="372.90" x2="73.70" y2="372.90" stroke="#222" stroke-width="1.1"/>
<line x1="82.00" y1="406.10" x2="97.60" y2="406.10" stroke="#222" stroke-width="1.1"/>
<circle cx="66.00" cy="357.30" r="2.2" fill="#ee2a0e" stroke="#1a0a05" stroke-width="0.9"/>
<circle cx="66.00" cy="366.90" r="2.2" fill="#ee2a0e" stroke="#1a0a05" stroke-width="0.9"/>
<circle cx="60.20" cy="381.40" r="2.2" fill="#ee2a0e" stroke="#1a0a05" stroke-width="0.9"/>
<circle cx="72.00" cy="379.70" r="2.2" fill="#ee2a0e" stroke="#1a0a05" stroke-width="0.9"/>
<circle cx="89.70" cy="377.20" r="2.2" fill="#0d8a55" stroke="#05140e" stroke-width="0.9"/>
<circle cx="89.70" cy="399.50" r="2.2" fill="#0d8a55" stroke="#05140e" stroke-width="0.9"/>
<circle cx="83.90" cy="416.50" r="2.2" fill="#0d8a55" stroke="#05140e" stroke-width="0.9"/>
<circle cx="95.70" cy="412.70" r="2.2" fill="#0d8a55" stroke="#05140e" stroke-width="0.9"/>
<text x="29.80" y="381.00" font-size="10" text-anchor="middle" fill="#1c1c1c" transform="rotate(-90 29.80 381.00)">Percentage (%)</text>
<text x="71.60" y="435.10" font-size="9.5" text-anchor="end" fill="#1c1c1c" transform="rotate(-45 71.60 435.10)">PDAC #1</text>
<text x="95.60" y="435.10" font-size="9.5" text-anchor="end" fill="#1c1c1c" transform="rotate(-45 95.60 435.10)">PDAC #2</text>
<line x1="147.80" y1="422.20" x2="147.80" y2="337.80" stroke="#222" stroke-width="1"/>
<line x1="144.20" y1="421.70" x2="147.80" y2="421.70" stroke="#222" stroke-width="1"/>
<text x="142.60" y="425.15" font-size="9.7" text-anchor="end" fill="#1c1c1c">0</text>
<line x1="144.20" y1="393.73" x2="147.80" y2="393.73" stroke="#222" stroke-width="1"/>
<text x="142.60" y="397.18" font-size="9.7" text-anchor="end" fill="#1c1c1c">10</text>
<line x1="144.20" y1="365.77" x2="147.80" y2="365.77" stroke="#222" stroke-width="1"/>
<text x="142.60" y="369.22" font-size="9.7" text-anchor="end" fill="#1c1c1c">20</text>
<line x1="144.20" y1="337.80" x2="147.80" y2="337.80" stroke="#222" stroke-width="1"/>
<text x="142.60" y="341.25" font-size="9.7" text-anchor="end" fill="#1c1c1c">30</text>
<line x1="147.30" y1="421.70" x2="203.80" y2="421.70" stroke="#222" stroke-width="1"/>
<line x1="164.00" y1="421.70" x2="164.00" y2="425.20" stroke="#222" stroke-width="1"/>
<line x1="187.80" y1="421.70" x2="187.80" y2="425.20" stroke="#222" stroke-width="1"/>
<text x="177.60" y="328.70" font-size="10" text-anchor="middle" fill="#1c1c1c">CD8/IFN-<tspan font-family="Liberation Serif, serif">γ</tspan></text>
<text x="175.50" y="344.10" font-size="8.7" text-anchor="middle" fill="#1c1c1c" textLength="35" lengthAdjust="spacingAndGlyphs"><tspan font-style="italic">p</tspan>=0.0181</text>
<line x1="163.20" y1="347.50" x2="188.90" y2="347.50" stroke="#333" stroke-width="1"/>
<line x1="156.00" y1="375.80" x2="171.90" y2="375.80" stroke="#222" stroke-width="1.1"/>
<line x1="180.00" y1="410.90" x2="195.70" y2="410.90" stroke="#222" stroke-width="1.1"/>
<circle cx="164.00" cy="355.20" r="2.2" fill="#ee2a0e" stroke="#1a0a05" stroke-width="0.9"/>
<circle cx="164.00" cy="371.80" r="2.2" fill="#ee2a0e" stroke="#1a0a05" stroke-width="0.9"/>
<circle cx="164.00" cy="379.50" r="2.2" fill="#ee2a0e" stroke="#1a0a05" stroke-width="0.9"/>
<circle cx="164.00" cy="395.50" r="2.2" fill="#ee2a0e" stroke="#1a0a05" stroke-width="0.9"/>
<circle cx="182.00" cy="405.30" r="2.2" fill="#0d8a55" stroke="#05140e" stroke-width="0.9"/>
<circle cx="193.70" cy="403.60" r="2.2" fill="#0d8a55" stroke="#05140e" stroke-width="0.9"/>
<circle cx="182.00" cy="418.60" r="2.2" fill="#0d8a55" stroke="#05140e" stroke-width="0.9"/>
<circle cx="193.70" cy="416.70" r="2.2" fill="#0d8a55" stroke="#05140e" stroke-width="0.9"/>
<text x="127.10" y="381.00" font-size="10" text-anchor="middle" fill="#1c1c1c" transform="rotate(-90 127.10 381.00)">Percentage (%)</text>
<text x="169.80" y="435.20" font-size="9.5" text-anchor="end" fill="#1c1c1c" transform="rotate(-45 169.80 435.20)">PDAC #1</text>
<text x="193.60" y="435.20" font-size="9.5" text-anchor="end" fill="#1c1c1c" transform="rotate(-45 193.60 435.20)">PDAC #2</text>
<line x1="294.30" y1="422.00" x2="294.30" y2="338.00" stroke="#222" stroke-width="1"/>
<line x1="290.70" y1="421.50" x2="294.30" y2="421.50" stroke="#222" stroke-width="1"/>
<text x="287.90" y="424.95" font-size="9.7" text-anchor="end" fill="#1c1c1c">0</text>
<line x1="290.70" y1="400.62" x2="294.30" y2="400.62" stroke="#222" stroke-width="1"/>
<text x="287.90" y="404.07" font-size="9.7" text-anchor="end" fill="#1c1c1c">10</text>
<line x1="290.70" y1="379.75" x2="294.30" y2="379.75" stroke="#222" stroke-width="1"/>
<text x="287.90" y="383.20" font-size="9.7" text-anchor="end" fill="#1c1c1c">20</text>
<line x1="290.70" y1="358.88" x2="294.30" y2="358.88" stroke="#222" stroke-width="1"/>
<text x="287.90" y="362.32" font-size="9.7" text-anchor="end" fill="#1c1c1c">30</text>
<line x1="290.70" y1="338.00" x2="294.30" y2="338.00" stroke="#222" stroke-width="1"/>
<text x="287.90" y="341.45" font-size="9.7" text-anchor="end" fill="#1c1c1c">40</text>
<line x1="293.80" y1="421.50" x2="349.80" y2="421.50" stroke="#222" stroke-width="1"/>
<line x1="310.40" y1="421.50" x2="310.40" y2="425.00" stroke="#222" stroke-width="1"/>
<line x1="334.00" y1="421.50" x2="334.00" y2="425.00" stroke="#222" stroke-width="1"/>
<text x="322.80" y="328.70" font-size="10" text-anchor="middle" fill="#1c1c1c">CD4/TNF-<tspan font-family="Liberation Serif, serif">α</tspan></text>
<text x="322.20" y="351.40" font-size="8.7" text-anchor="middle" fill="#1c1c1c" textLength="35" lengthAdjust="spacingAndGlyphs"><tspan font-style="italic">p</tspan>=0.0466</text>
<line x1="309.30" y1="354.50" x2="335.90" y2="354.50" stroke="#333" stroke-width="1"/>
<line x1="302.30" y1="371.50" x2="318.80" y2="371.50" stroke="#222" stroke-width="1.1"/>
<line x1="326.40" y1="405.60" x2="343.00" y2="405.60" stroke="#222" stroke-width="1.1"/>
<circle cx="310.40" cy="362.80" r="2.2" fill="#ee2a0e" stroke="#1a0a05" stroke-width="0.9"/>
<circle cx="310.40" cy="368.00" r="2.2" fill="#ee2a0e" stroke="#1a0a05" stroke-width="0.9"/>
<circle cx="310.40" cy="374.90" r="2.2" fill="#ee2a0e" stroke="#1a0a05" stroke-width="0.9"/>
<circle cx="310.40" cy="387.00" r="2.2" fill="#ee2a0e" stroke="#1a0a05" stroke-width="0.9"/>
<circle cx="334.00" cy="389.90" r="2.2" fill="#0d8a55" stroke="#05140e" stroke-width="0.9"/>
<circle cx="334.00" cy="402.50" r="2.2" fill="#0d8a55" stroke="#05140e" stroke-width="0.9"/>
<circle cx="328.50" cy="412.20" r="2.2" fill="#0d8a55" stroke="#05140e" stroke-width="0.9"/>
<circle cx="340.10" cy="409.60" r="2.2" fill="#0d8a55" stroke="#05140e" stroke-width="0.9"/>
<text x="273.30" y="381.00" font-size="10" text-anchor="middle" fill="#1c1c1c" transform="rotate(-90 273.30 381.00)">Percentage (%)</text>
<text x="316.20" y="435.00" font-size="9.5" text-anchor="end" fill="#1c1c1c" transform="rotate(-45 316.20 435.00)">PDAC #1</text>
<text x="339.80" y="435.00" font-size="9.5" text-anchor="end" fill="#1c1c1c" transform="rotate(-45 339.80 435.00)">PDAC #2</text>
<line x1="392.30" y1="422.20" x2="392.30" y2="337.80" stroke="#222" stroke-width="1"/>
<line x1="388.70" y1="421.70" x2="392.30" y2="421.70" stroke="#222" stroke-width="1"/>
<text x="387.60" y="425.15" font-size="9.7" text-anchor="end" fill="#1c1c1c">0</text>
<line x1="388.70" y1="404.92" x2="392.30" y2="404.92" stroke="#222" stroke-width="1"/>
<text x="387.60" y="408.37" font-size="9.7" text-anchor="end" fill="#1c1c1c">5</text>
<line x1="388.70" y1="388.14" x2="392.30" y2="388.14" stroke="#222" stroke-width="1"/>
<text x="387.60" y="391.59" font-size="9.7" text-anchor="end" fill="#1c1c1c">10</text>
<line x1="388.70" y1="371.36" x2="392.30" y2="371.36" stroke="#222" stroke-width="1"/>
<text x="387.60" y="374.81" font-size="9.7" text-anchor="end" fill="#1c1c1c">15</text>
<line x1="388.70" y1="354.58" x2="392.30" y2="354.58" stroke="#222" stroke-width="1"/>
<text x="387.60" y="358.03" font-size="9.7" text-anchor="end" fill="#1c1c1c">20</text>
<line x1="388.70" y1="337.80" x2="392.30" y2="337.80" stroke="#222" stroke-width="1"/>
<text x="387.60" y="341.25" font-size="9.7" text-anchor="end" fill="#1c1c1c">25</text>
<line x1="391.80" y1="421.70" x2="447.50" y2="421.70" stroke="#222" stroke-width="1"/>
<line x1="408.10" y1="421.70" x2="408.10" y2="425.20" stroke="#222" stroke-width="1"/>
<line x1="432.00" y1="421.70" x2="432.00" y2="425.20" stroke="#222" stroke-width="1"/>
<text x="421.00" y="328.70" font-size="10" text-anchor="middle" fill="#1c1c1c">CD8/TNF-<tspan font-family="Liberation Serif, serif">α</tspan></text>
<text x="420.30" y="348.20" font-size="8.7" text-anchor="middle" fill="#1c1c1c" textLength="35" lengthAdjust="spacingAndGlyphs"><tspan font-style="italic">p</tspan>=0.0287</text>
<line x1="407.00" y1="351.50" x2="433.00" y2="351.50" stroke="#333" stroke-width="1"/>
<line x1="400.20" y1="370.80" x2="416.20" y2="370.80" stroke="#222" stroke-width="1.1"/>
<line x1="424.10" y1="402.20" x2="440.30" y2="402.20" stroke="#222" stroke-width="1.1"/>
<circle cx="408.50" cy="360.40" r="2.2" fill="#ee2a0e" stroke="#1a0a05" stroke-width="0.9"/>
<circle cx="408.50" cy="366.00" r="2.2" fill="#ee2a0e" stroke="#1a0a05" stroke-width="0.9"/>
<circle cx="408.50" cy="375.60" r="2.2" fill="#ee2a0e" stroke="#1a0a05" stroke-width="0.9"/>
<circle cx="408.50" cy="383.50" r="2.2" fill="#ee2a0e" stroke="#1a0a05" stroke-width="0.9"/>
<circle cx="432.20" cy="394.50" r="2.2" fill="#0d8a55" stroke="#05140e" stroke-width="0.9"/>
<circle cx="432.20" cy="399.50" r="2.2" fill="#0d8a55" stroke="#05140e" stroke-width="0.9"/>
<circle cx="426.20" cy="408.80" r="2.2" fill="#0d8a55" stroke="#05140e" stroke-width="0.9"/>
<circle cx="438.20" cy="405.50" r="2.2" fill="#0d8a55" stroke="#05140e" stroke-width="0.9"/>
<text x="371.50" y="381.00" font-size="10" text-anchor="middle" fill="#1c1c1c" transform="rotate(-90 371.50 381.00)">Percentage (%)</text>
<text x="413.90" y="435.20" font-size="9.5" text-anchor="end" fill="#1c1c1c" transform="rotate(-45 413.90 435.20)">PDAC #1</text>
<text x="437.80" y="435.20" font-size="9.5" text-anchor="end" fill="#1c1c1c" transform="rotate(-45 437.80 435.20)">PDAC #2</text>
<line x1="529.40" y1="422.20" x2="529.40" y2="337.80" stroke="#222" stroke-width="1"/>
<line x1="525.80" y1="421.70" x2="529.40" y2="421.70" stroke="#222" stroke-width="1"/>
<text x="524.20" y="425.15" font-size="9.7" text-anchor="end" fill="#1c1c1c">0</text>
<line x1="525.80" y1="393.73" x2="529.40" y2="393.73" stroke="#222" stroke-width="1"/>
<text x="524.20" y="397.18" font-size="9.7" text-anchor="end" fill="#1c1c1c">4</text>
<line x1="525.80" y1="365.77" x2="529.40" y2="365.77" stroke="#222" stroke-width="1"/>
<text x="524.20" y="369.22" font-size="9.7" text-anchor="end" fill="#1c1c1c">8</text>
<line x1="525.80" y1="337.80" x2="529.40" y2="337.80" stroke="#222" stroke-width="1"/>
<text x="524.20" y="341.25" font-size="9.7" text-anchor="end" fill="#1c1c1c">12</text>
<line x1="528.90" y1="421.70" x2="585.50" y2="421.70" stroke="#222" stroke-width="1"/>
<line x1="546.00" y1="421.70" x2="546.00" y2="425.20" stroke="#222" stroke-width="1"/>
<line x1="569.90" y1="421.70" x2="569.90" y2="425.20" stroke="#222" stroke-width="1"/>
<text x="558.50" y="328.70" font-size="10" text-anchor="middle" fill="#1c1c1c">CD4/GzmB</text>
<text x="557.90" y="349.70" font-size="8.7" text-anchor="middle" fill="#1c1c1c" textLength="35" lengthAdjust="spacingAndGlyphs"><tspan font-style="italic">p</tspan>=0.0362</text>
<line x1="545.00" y1="353.00" x2="571.00" y2="353.00" stroke="#333" stroke-width="1"/>
<line x1="538.20" y1="395.30" x2="554.00" y2="395.30" stroke="#222" stroke-width="1.1"/>
<line x1="562.70" y1="413.40" x2="577.80" y2="413.40" stroke="#222" stroke-width="1.1"/>
<circle cx="546.00" cy="360.80" r="2.2" fill="#ee2a0e" stroke="#1a0a05" stroke-width="0.9"/>
<circle cx="546.00" cy="390.70" r="2.2" fill="#ee2a0e" stroke="#1a0a05" stroke-width="0.9"/>
<circle cx="546.00" cy="399.50" r="2.2" fill="#ee2a0e" stroke="#1a0a05" stroke-width="0.9"/>
<circle cx="546.00" cy="405.50" r="2.2" fill="#ee2a0e" stroke="#1a0a05" stroke-width="0.9"/>
<circle cx="570.30" cy="400.50" r="2.2" fill="#0d8a55" stroke="#05140e" stroke-width="0.9"/>
<circle cx="564.30" cy="412.50" r="2.2" fill="#0d8a55" stroke="#05140e" stroke-width="0.9"/>
<circle cx="575.70" cy="415.00" r="2.2" fill="#0d8a55" stroke="#05140e" stroke-width="0.9"/>
<circle cx="564.30" cy="418.80" r="2.2" fill="#0d8a55" stroke="#05140e" stroke-width="0.9"/>
<text x="513.80" y="381.00" font-size="10" text-anchor="middle" fill="#1c1c1c" transform="rotate(-90 513.80 381.00)">MFI (10<tspan dy="-3.5" font-size="6">3</tspan><tspan dy="3.5">)</tspan></text>
<text x="551.80" y="435.20" font-size="9.5" text-anchor="end" fill="#1c1c1c" transform="rotate(-45 551.80 435.20)">PDAC #1</text>
<text x="575.70" y="435.20" font-size="9.5" text-anchor="end" fill="#1c1c1c" transform="rotate(-45 575.70 435.20)">PDAC #2</text>
<line x1="620.90" y1="422.20" x2="620.90" y2="337.80" stroke="#222" stroke-width="1"/>
<line x1="617.30" y1="421.70" x2="620.90" y2="421.70" stroke="#222" stroke-width="1"/>
<text x="615.70" y="425.15" font-size="9.7" text-anchor="end" fill="#1c1c1c">0</text>
<line x1="617.30" y1="393.73" x2="620.90" y2="393.73" stroke="#222" stroke-width="1"/>
<text x="615.70" y="397.18" font-size="9.7" text-anchor="end" fill="#1c1c1c">2</text>
<line x1="617.30" y1="365.77" x2="620.90" y2="365.77" stroke="#222" stroke-width="1"/>
<text x="615.70" y="369.22" font-size="9.7" text-anchor="end" fill="#1c1c1c">4</text>
<line x1="617.30" y1="337.80" x2="620.90" y2="337.80" stroke="#222" stroke-width="1"/>
<text x="615.70" y="341.25" font-size="9.7" text-anchor="end" fill="#1c1c1c">6</text>
<line x1="620.40" y1="421.70" x2="676.90" y2="421.70" stroke="#222" stroke-width="1"/>
<line x1="637.50" y1="421.70" x2="637.50" y2="425.20" stroke="#222" stroke-width="1"/>
<line x1="661.30" y1="421.70" x2="661.30" y2="425.20" stroke="#222" stroke-width="1"/>
<text x="648.50" y="328.70" font-size="10" text-anchor="middle" fill="#1c1c1c">CD8/GzmB</text>
<text x="649.50" y="351.40" font-size="8.7" text-anchor="middle" fill="#1c1c1c" textLength="35" lengthAdjust="spacingAndGlyphs"><tspan font-style="italic">p</tspan>=0.0169</text>
<line x1="636.10" y1="354.50" x2="662.40" y2="354.50" stroke="#333" stroke-width="1"/>
<line x1="629.80" y1="389.90" x2="645.60" y2="389.90" stroke="#222" stroke-width="1.1"/>
<line x1="653.70" y1="412.10" x2="669.40" y2="412.10" stroke="#222" stroke-width="1.1"/>
<circle cx="637.50" cy="363.50" r="2.2" fill="#ee2a0e" stroke="#1a0a05" stroke-width="0.9"/>
<circle cx="637.50" cy="382.20" r="2.2" fill="#ee2a0e" stroke="#1a0a05" stroke-width="0.9"/>
<circle cx="631.40" cy="400.50" r="2.2" fill="#ee2a0e" stroke="#1a0a05" stroke-width="0.9"/>
<circle cx="643.30" cy="398.40" r="2.2" fill="#ee2a0e" stroke="#1a0a05" stroke-width="0.9"/>
<circle cx="661.50" cy="396.50" r="2.2" fill="#0d8a55" stroke="#05140e" stroke-width="0.9"/>
<circle cx="655.30" cy="411.50" r="2.2" fill="#0d8a55" stroke="#05140e" stroke-width="0.9"/>
<circle cx="667.40" cy="412.50" r="2.2" fill="#0d8a55" stroke="#05140e" stroke-width="0.9"/>
<circle cx="661.50" cy="418.10" r="2.2" fill="#0d8a55" stroke="#05140e" stroke-width="0.9"/>
<text x="605.20" y="381.00" font-size="10" text-anchor="middle" fill="#1c1c1c" transform="rotate(-90 605.20 381.00)">MFI (10<tspan dy="-3.5" font-size="6">4</tspan><tspan dy="3.5">)</tspan></text>
<text x="643.30" y="435.20" font-size="9.5" text-anchor="end" fill="#1c1c1c" transform="rotate(-45 643.30 435.20)">PDAC #1</text>
<text x="667.10" y="435.20" font-size="9.5" text-anchor="end" fill="#1c1c1c" transform="rotate(-45 667.10 435.20)">PDAC #2</text>
<defs><filter id="sblur" x="-5%" y="-5%" width="110%" height="110%"><feGaussianBlur stdDeviation="0.3"/></filter></defs>
<text x="429.40" y="10.20" font-size="16" text-anchor="start" font-weight="bold" fill="#000">c</text>
<text x="507.20" y="9.60" font-size="10" text-anchor="middle" fill="#1c1c1c">Ctrl</text>
<text x="569.00" y="9.60" font-size="10" text-anchor="middle" fill="#1c1c1c">CD19 CAR-T</text>
<text x="631.50" y="9.60" font-size="10" text-anchor="middle" fill="#1c1c1c">mC2 CAR-T</text>
<path d="M517 24h1v1h-1zM520 24h1v1h-1zM501 25h1v1h-1zM502 25h1v1h-1zM492 26h1v1h-1zM495 26h1v1h-1zM498 26h1v1h-1zM503 26h1v1h-1zM488 27h1v1h-1zM493 27h1v1h-1zM494 27h1v1h-1zM506 27h1v1h-1zM520 27h1v1h-1zM521 27h1v1h-1zM481 28h1v1h-1zM483 28h1v1h-1zM485 28h1v1h-1zM491 28h1v1h-1zM493 28h1v1h-1zM507 28h1v1h-1zM508 28h1v1h-1zM481 29h1v1h-1zM482 29h1v1h-1zM483 29h1v1h-1zM486 29h1v1h-1zM487 29h1v1h-1zM488 29h1v1h-1zM490 29h1v1h-1zM491 29h1v1h-1zM510 29h1v1h-1zM521 29h1v1h-1zM481 30h1v1h-1zM485 30h1v1h-1zM486 30h1v1h-1zM487 30h1v1h-1zM488 30h1v1h-1zM512 30h1v1h-1zM482 31h1v1h-1zM484 31h1v1h-1zM486 31h1v1h-1zM487 31h1v1h-1zM509 31h1v1h-1zM510 31h1v1h-1zM480 32h1v1h-1zM481 32h1v1h-1zM482 32h1v1h-1zM484 32h1v1h-1zM486 32h1v1h-1zM481 33h1v1h-1zM482 33h1v1h-1zM484 33h1v1h-1zM509 33h1v1h-1zM522 33h1v1h-1zM481 34h1v1h-1zM484 34h1v1h-1zM485 34h1v1h-1zM486 34h1v1h-1zM487 34h1v1h-1zM488 34h1v1h-1zM520 34h1v1h-1zM483 35h1v1h-1zM487 35h1v1h-1zM488 35h1v1h-1zM489 35h1v1h-1zM509 35h1v1h-1zM485 36h1v1h-1zM486 36h1v1h-1zM490 36h1v1h-1zM493 36h1v1h-1zM494 36h1v1h-1zM506 36h1v1h-1zM517 36h1v1h-1zM520 36h1v1h-1zM487 37h1v1h-1zM492 37h1v1h-1zM495 37h1v1h-1zM497 37h1v1h-1zM498 37h1v1h-1zM500 37h1v1h-1zM501 37h1v1h-1zM491 38h1v1h-1zM498 38h1v1h-1zM501 38h1v1h-1zM503 38h1v1h-1zM519 41h1v1h-1zM521 41h1v1h-1zM514 42h1v1h-1zM518 44h1v1h-1zM519 44h1v1h-1zM521 44h1v1h-1zM522 44h1v1h-1zM515 45h1v1h-1zM516 45h1v1h-1zM520 45h1v1h-1zM522 45h1v1h-1zM515 46h1v1h-1zM517 46h1v1h-1zM518 46h1v1h-1zM519 46h1v1h-1zM520 46h1v1h-1zM523 46h1v1h-1zM525 46h1v1h-1zM484 47h1v1h-1zM518 47h1v1h-1zM520 47h1v1h-1zM522 47h1v1h-1zM524 47h1v1h-1zM525 47h1v1h-1zM517 48h1v1h-1zM521 48h1v1h-1zM524 48h1v1h-1zM512 49h1v1h-1zM514 49h1v1h-1zM521 49h1v1h-1zM522 49h1v1h-1zM514 50h1v1h-1zM515 50h1v1h-1zM524 50h1v1h-1zM525 50h1v1h-1zM515 51h1v1h-1zM523 51h1v1h-1zM525 51h1v1h-1zM515 52h1v1h-1zM514 53h1v1h-1zM524 53h1v1h-1zM525 53h1v1h-1zM515 54h1v1h-1zM526 55h1v1h-1zM527 55h1v1h-1zM514 56h1v1h-1zM526 56h1v1h-1zM505 57h1v1h-1zM512 57h1v1h-1zM515 57h1v1h-1zM525 57h1v1h-1zM526 57h1v1h-1zM504 58h1v1h-1zM513 58h1v1h-1zM514 58h1v1h-1zM518 58h1v1h-1zM524 58h1v1h-1zM513 59h1v1h-1zM515 59h1v1h-1zM516 59h1v1h-1zM517 59h1v1h-1zM518 59h1v1h-1zM523 59h1v1h-1zM524 59h1v1h-1zM495 60h1v1h-1zM513 60h1v1h-1zM515 60h1v1h-1zM516 60h1v1h-1zM517 60h1v1h-1zM524 60h1v1h-1zM516 61h1v1h-1zM514 62h1v1h-1zM515 62h1v1h-1zM516 62h1v1h-1zM517 62h1v1h-1zM523 62h1v1h-1zM524 62h1v1h-1zM515 63h1v1h-1zM518 63h1v1h-1zM522 63h1v1h-1zM525 63h1v1h-1zM518 64h1v1h-1zM519 64h1v1h-1zM521 64h1v1h-1zM517 65h1v1h-1zM522 65h1v1h-1zM513 66h1v1h-1zM518 66h1v1h-1zM519 66h1v1h-1z" fill="#aab2ff" opacity="0.92" filter="url(#sblur)"/>
<path d="M500 26h1v1h-1zM497 27h1v1h-1zM498 27h1v1h-1zM500 27h1v1h-1zM501 27h1v1h-1zM502 27h1v1h-1zM503 27h1v1h-1zM504 27h1v1h-1zM494 28h1v1h-1zM495 28h1v1h-1zM496 28h1v1h-1zM497 28h1v1h-1zM504 28h1v1h-1zM505 28h1v1h-1zM506 28h1v1h-1zM492 29h1v1h-1zM493 29h1v1h-1zM494 29h1v1h-1zM495 29h1v1h-1zM506 29h1v1h-1zM507 29h1v1h-1zM490 30h1v1h-1zM491 30h1v1h-1zM492 30h1v1h-1zM493 30h1v1h-1zM507 30h1v1h-1zM508 30h1v1h-1zM489 31h1v1h-1zM490 31h1v1h-1zM491 31h1v1h-1zM492 31h1v1h-1zM507 31h1v1h-1zM508 31h1v1h-1zM488 32h1v1h-1zM489 32h1v1h-1zM490 32h1v1h-1zM491 32h1v1h-1zM492 32h1v1h-1zM493 32h1v1h-1zM507 32h1v1h-1zM489 33h1v1h-1zM490 33h1v1h-1zM491 33h1v1h-1zM492 33h1v1h-1zM493 33h1v1h-1zM506 33h1v1h-1zM507 33h1v1h-1zM489 34h1v1h-1zM490 34h1v1h-1zM491 34h1v1h-1zM492 34h1v1h-1zM493 34h1v1h-1zM506 34h1v1h-1zM507 34h1v1h-1zM492 35h1v1h-1zM493 35h1v1h-1zM495 35h1v1h-1zM496 35h1v1h-1zM504 35h1v1h-1zM505 35h1v1h-1zM506 35h1v1h-1zM498 36h1v1h-1zM499 36h1v1h-1zM500 36h1v1h-1zM501 36h1v1h-1zM503 36h1v1h-1zM504 36h1v1h-1zM519 47h1v1h-1zM520 48h1v1h-1zM517 49h1v1h-1zM518 49h1v1h-1zM519 49h1v1h-1zM520 49h1v1h-1zM517 50h1v1h-1zM518 50h1v1h-1zM516 51h1v1h-1zM517 51h1v1h-1zM519 51h1v1h-1zM520 51h1v1h-1zM521 51h1v1h-1zM522 51h1v1h-1zM516 52h1v1h-1zM517 52h1v1h-1zM518 52h1v1h-1zM519 52h1v1h-1zM520 52h1v1h-1zM522 52h1v1h-1zM516 53h1v1h-1zM517 53h1v1h-1zM518 53h1v1h-1zM519 53h1v1h-1zM520 53h1v1h-1zM521 53h1v1h-1zM522 53h1v1h-1zM523 53h1v1h-1zM516 54h1v1h-1zM517 54h1v1h-1zM519 54h1v1h-1zM521 54h1v1h-1zM522 54h1v1h-1zM523 54h1v1h-1zM515 55h1v1h-1zM516 55h1v1h-1zM517 55h1v1h-1zM518 55h1v1h-1zM519 55h1v1h-1zM521 55h1v1h-1zM522 55h1v1h-1zM523 55h1v1h-1zM524 55h1v1h-1zM515 56h1v1h-1zM516 56h1v1h-1zM517 56h1v1h-1zM518 56h1v1h-1zM519 56h1v1h-1zM520 56h1v1h-1zM521 56h1v1h-1zM522 56h1v1h-1zM523 56h1v1h-1zM524 56h1v1h-1zM516 57h1v1h-1zM517 57h1v1h-1zM518 57h1v1h-1zM519 57h1v1h-1zM520 57h1v1h-1zM521 57h1v1h-1zM522 57h1v1h-1zM523 57h1v1h-1zM520 58h1v1h-1zM521 58h1v1h-1zM523 58h1v1h-1zM519 59h1v1h-1zM520 59h1v1h-1zM521 59h1v1h-1zM522 59h1v1h-1zM519 60h1v1h-1zM520 60h1v1h-1zM521 60h1v1h-1zM518 61h1v1h-1zM519 61h1v1h-1zM520 61h1v1h-1zM521 61h1v1h-1zM522 61h1v1h-1zM518 62h1v1h-1zM519 62h1v1h-1zM520 62h1v1h-1zM521 62h1v1h-1zM522 62h1v1h-1zM519 63h1v1h-1zM520 63h1v1h-1zM521 63h1v1h-1z" fill="#6a7cff" opacity="0.92" filter="url(#sblur)"/>
<path d="M498 28h1v1h-1zM499 28h1v1h-1zM500 28h1v1h-1zM501 28h1v1h-1zM502 28h1v1h-1zM503 28h1v1h-1zM496 29h1v1h-1zM497 29h1v1h-1zM503 29h1v1h-1zM504 29h1v1h-1zM505 29h1v1h-1zM494 30h1v1h-1zM495 30h1v1h-1zM496 30h1v1h-1zM505 30h1v1h-1zM506 30h1v1h-1zM493 31h1v1h-1zM494 31h1v1h-1zM495 31h1v1h-1zM505 31h1v1h-1zM506 31h1v1h-1zM494 32h1v1h-1zM495 32h1v1h-1zM505 32h1v1h-1zM506 32h1v1h-1zM494 33h1v1h-1zM495 33h1v1h-1zM505 33h1v1h-1zM494 34h1v1h-1zM495 34h1v1h-1zM496 34h1v1h-1zM497 34h1v1h-1zM503 34h1v1h-1zM504 34h1v1h-1zM505 34h1v1h-1zM497 35h1v1h-1zM498 35h1v1h-1zM499 35h1v1h-1zM500 35h1v1h-1zM501 35h1v1h-1zM502 35h1v1h-1zM503 35h1v1h-1zM520 54h1v1h-1zM520 55h1v1h-1z" fill="#3456ff" opacity="0.92" filter="url(#sblur)"/>
<path d="M498 29h1v1h-1zM499 29h1v1h-1zM500 29h1v1h-1zM501 29h1v1h-1zM502 29h1v1h-1zM497 30h1v1h-1zM503 30h1v1h-1zM504 30h1v1h-1zM496 31h1v1h-1zM504 31h1v1h-1zM496 32h1v1h-1zM504 32h1v1h-1zM496 33h1v1h-1zM497 33h1v1h-1zM503 33h1v1h-1zM504 33h1v1h-1zM498 34h1v1h-1zM499 34h1v1h-1zM501 34h1v1h-1zM502 34h1v1h-1z" fill="#1f8cf0" opacity="0.92" filter="url(#sblur)"/>
<path d="M498 30h1v1h-1zM502 30h1v1h-1zM497 31h1v1h-1zM503 31h1v1h-1zM497 32h1v1h-1zM503 32h1v1h-1zM498 33h1v1h-1zM502 33h1v1h-1zM500 34h1v1h-1z" fill="#12c8a8" opacity="0.92" filter="url(#sblur)"/>
<path d="M499 30h1v1h-1zM500 30h1v1h-1zM501 30h1v1h-1zM498 31h1v1h-1zM499 31h1v1h-1zM500 31h1v1h-1zM501 31h1v1h-1zM502 31h1v1h-1zM498 32h1v1h-1zM499 32h1v1h-1zM500 32h1v1h-1zM501 32h1v1h-1zM502 32h1v1h-1zM499 33h1v1h-1zM500 33h1v1h-1zM501 33h1v1h-1z" fill="#1ee04a" opacity="0.92" filter="url(#sblur)"/>
<defs><linearGradient id="pg00" x1="0" x2="1"><stop offset="0" stop-color="#5577ff"/><stop offset="0.2" stop-color="#44cc99"/><stop offset="0.45" stop-color="#aadd44"/><stop offset="0.65" stop-color="#ee6644"/><stop offset="0.85" stop-color="#99dd55"/><stop offset="1" stop-color="#6699ff"/></linearGradient></defs>
<rect x="509.10" y="66.70" width="19.00" height="0.90" fill="url(#pg00)" stroke="none" stroke-width="1" opacity="0.85"/>
<path d="M488.0 66.6h20.6" stroke="#8fa0ff" stroke-width="0.8" stroke-dasharray="1 2.5"/>
<rect x="480.00" y="14.40" width="53.50" height="53.40" fill="none" stroke="#b4b4b4" stroke-width="0.8"/>
<line x1="508.60" y1="14.40" x2="508.60" y2="67.80" stroke="#3a3a3a" stroke-width="1"/>
<line x1="480.00" y1="42.60" x2="533.50" y2="42.60" stroke="#3a3a3a" stroke-width="1"/>
<line x1="478.50" y1="67.30" x2="480.00" y2="67.30" stroke="#555" stroke-width="0.6"/>
<text x="477.80" y="68.40" font-size="2.8" text-anchor="end" fill="#777">10<tspan dy="-0.8" font-size="2">1</tspan></text>
<line x1="478.50" y1="55.62" x2="480.00" y2="55.62" stroke="#555" stroke-width="0.6"/>
<text x="477.80" y="56.72" font-size="2.8" text-anchor="end" fill="#777">10<tspan dy="-0.8" font-size="2">2</tspan></text>
<line x1="478.50" y1="43.94" x2="480.00" y2="43.94" stroke="#555" stroke-width="0.6"/>
<text x="477.80" y="45.04" font-size="2.8" text-anchor="end" fill="#777">10<tspan dy="-0.8" font-size="2">3</tspan></text>
<line x1="478.50" y1="32.25" x2="480.00" y2="32.25" stroke="#555" stroke-width="0.6"/>
<text x="477.80" y="33.35" font-size="2.8" text-anchor="end" fill="#777">10<tspan dy="-0.8" font-size="2">4</tspan></text>
<line x1="478.50" y1="20.57" x2="480.00" y2="20.57" stroke="#555" stroke-width="0.6"/>
<text x="477.80" y="21.67" font-size="2.8" text-anchor="end" fill="#777">10<tspan dy="-0.8" font-size="2">5</tspan></text>
<line x1="482.80" y1="67.80" x2="482.80" y2="69.30" stroke="#555" stroke-width="0.6"/>
<text x="482.80" y="72.10" font-size="2.8" text-anchor="middle" fill="#777">10<tspan dy="-0.8" font-size="2">0</tspan></text>
<line x1="492.14" y1="67.80" x2="492.14" y2="69.30" stroke="#555" stroke-width="0.6"/>
<text x="492.14" y="72.10" font-size="2.8" text-anchor="middle" fill="#777">10<tspan dy="-0.8" font-size="2">1</tspan></text>
<line x1="501.48" y1="67.80" x2="501.48" y2="69.30" stroke="#555" stroke-width="0.6"/>
<text x="501.48" y="72.10" font-size="2.8" text-anchor="middle" fill="#777">10<tspan dy="-0.8" font-size="2">2</tspan></text>
<line x1="510.82" y1="67.80" x2="510.82" y2="69.30" stroke="#555" stroke-width="0.6"/>
<text x="510.82" y="72.10" font-size="2.8" text-anchor="middle" fill="#777">10<tspan dy="-0.8" font-size="2">3</tspan></text>
<line x1="520.16" y1="67.80" x2="520.16" y2="69.30" stroke="#555" stroke-width="0.6"/>
<text x="520.16" y="72.10" font-size="2.8" text-anchor="middle" fill="#777">10<tspan dy="-0.8" font-size="2">4</tspan></text>
<line x1="529.50" y1="67.80" x2="529.50" y2="69.30" stroke="#555" stroke-width="0.6"/>
<text x="529.50" y="72.10" font-size="2.8" text-anchor="middle" fill="#777">10<tspan dy="-0.8" font-size="2">5</tspan></text>
<path d="M521 83h1v1h-1zM494 84h1v1h-1zM491 85h1v1h-1zM494 85h1v1h-1zM495 85h1v1h-1zM497 85h1v1h-1zM498 85h1v1h-1zM500 85h1v1h-1zM502 85h1v1h-1zM506 85h1v1h-1zM498 86h1v1h-1zM501 86h1v1h-1zM505 86h1v1h-1zM506 86h1v1h-1zM526 86h1v1h-1zM481 87h1v1h-1zM483 87h1v1h-1zM493 87h1v1h-1zM502 87h1v1h-1zM508 87h1v1h-1zM487 88h1v1h-1zM488 88h1v1h-1zM490 88h1v1h-1zM504 88h1v1h-1zM512 88h1v1h-1zM523 88h1v1h-1zM481 89h1v1h-1zM485 89h1v1h-1zM486 89h1v1h-1zM488 89h1v1h-1zM490 89h1v1h-1zM505 89h1v1h-1zM508 89h1v1h-1zM509 89h1v1h-1zM483 90h1v1h-1zM486 90h1v1h-1zM488 90h1v1h-1zM506 90h1v1h-1zM510 90h1v1h-1zM482 91h1v1h-1zM483 91h1v1h-1zM484 91h1v1h-1zM508 91h1v1h-1zM482 92h1v1h-1zM507 92h1v1h-1zM510 92h1v1h-1zM483 93h1v1h-1zM484 93h1v1h-1zM507 93h1v1h-1zM508 93h1v1h-1zM525 93h1v1h-1zM526 93h1v1h-1zM484 94h1v1h-1zM485 94h1v1h-1zM508 94h1v1h-1zM480 95h1v1h-1zM482 95h1v1h-1zM483 95h1v1h-1zM484 95h1v1h-1zM485 95h1v1h-1zM486 95h1v1h-1zM487 95h1v1h-1zM506 95h1v1h-1zM481 96h1v1h-1zM482 96h1v1h-1zM483 96h1v1h-1zM485 96h1v1h-1zM487 96h1v1h-1zM488 96h1v1h-1zM489 96h1v1h-1zM490 96h1v1h-1zM491 96h1v1h-1zM503 96h1v1h-1zM504 96h1v1h-1zM505 96h1v1h-1zM512 96h1v1h-1zM484 97h1v1h-1zM486 97h1v1h-1zM487 97h1v1h-1zM493 97h1v1h-1zM502 97h1v1h-1zM507 97h1v1h-1zM521 97h1v1h-1zM500 98h1v1h-1zM493 99h1v1h-1zM496 99h1v1h-1zM486 100h1v1h-1zM514 100h1v1h-1zM518 101h1v1h-1zM519 101h1v1h-1zM518 102h1v1h-1zM520 102h1v1h-1zM521 102h1v1h-1zM521 103h1v1h-1zM519 104h1v1h-1zM521 104h1v1h-1zM516 105h1v1h-1zM518 105h1v1h-1zM519 105h1v1h-1zM520 105h1v1h-1zM521 105h1v1h-1zM524 105h1v1h-1zM485 106h1v1h-1zM519 106h1v1h-1zM522 106h1v1h-1zM524 106h1v1h-1zM514 107h1v1h-1zM518 107h1v1h-1zM521 107h1v1h-1zM522 107h1v1h-1zM523 107h1v1h-1zM524 107h1v1h-1zM514 108h1v1h-1zM517 108h1v1h-1zM522 108h1v1h-1zM528 108h1v1h-1zM502 109h1v1h-1zM515 109h1v1h-1zM516 109h1v1h-1zM523 109h1v1h-1zM524 109h1v1h-1zM515 110h1v1h-1zM516 110h1v1h-1zM524 110h1v1h-1zM516 111h1v1h-1zM524 111h1v1h-1zM525 111h1v1h-1zM526 111h1v1h-1zM513 112h1v1h-1zM515 112h1v1h-1zM524 112h1v1h-1zM515 113h1v1h-1zM526 113h1v1h-1zM514 115h1v1h-1zM515 115h1v1h-1zM515 116h1v1h-1zM516 116h1v1h-1zM514 117h1v1h-1zM515 117h1v1h-1zM516 117h1v1h-1zM525 117h1v1h-1zM526 117h1v1h-1zM512 118h1v1h-1zM516 119h1v1h-1zM517 119h1v1h-1zM526 119h1v1h-1zM515 120h1v1h-1zM516 120h1v1h-1zM523 120h1v1h-1zM524 120h1v1h-1zM515 121h1v1h-1zM516 121h1v1h-1zM523 121h1v1h-1zM525 121h1v1h-1zM498 122h1v1h-1zM515 122h1v1h-1zM517 122h1v1h-1zM523 122h1v1h-1zM515 123h1v1h-1zM516 123h1v1h-1zM517 123h1v1h-1zM524 123h1v1h-1zM496 124h1v1h-1zM517 124h1v1h-1zM518 125h1v1h-1zM519 125h1v1h-1zM521 125h1v1h-1zM519 126h1v1h-1z" fill="#aab2ff" opacity="0.92" filter="url(#sblur)"/>
<path d="M494 87h1v1h-1zM495 87h1v1h-1zM496 87h1v1h-1zM499 87h1v1h-1zM500 87h1v1h-1zM501 87h1v1h-1zM494 88h1v1h-1zM492 89h1v1h-1zM493 89h1v1h-1zM503 89h1v1h-1zM504 89h1v1h-1zM490 90h1v1h-1zM491 90h1v1h-1zM492 90h1v1h-1zM504 90h1v1h-1zM485 91h1v1h-1zM486 91h1v1h-1zM487 91h1v1h-1zM488 91h1v1h-1zM489 91h1v1h-1zM490 91h1v1h-1zM491 91h1v1h-1zM492 91h1v1h-1zM505 91h1v1h-1zM485 92h1v1h-1zM486 92h1v1h-1zM487 92h1v1h-1zM490 92h1v1h-1zM491 92h1v1h-1zM506 92h1v1h-1zM486 93h1v1h-1zM487 93h1v1h-1zM488 93h1v1h-1zM489 93h1v1h-1zM490 93h1v1h-1zM491 93h1v1h-1zM486 94h1v1h-1zM487 94h1v1h-1zM488 94h1v1h-1zM489 94h1v1h-1zM490 94h1v1h-1zM491 94h1v1h-1zM492 94h1v1h-1zM504 94h1v1h-1zM505 94h1v1h-1zM506 94h1v1h-1zM488 95h1v1h-1zM490 95h1v1h-1zM492 95h1v1h-1zM493 95h1v1h-1zM502 95h1v1h-1zM503 95h1v1h-1zM504 95h1v1h-1zM493 96h1v1h-1zM494 96h1v1h-1zM495 96h1v1h-1zM500 96h1v1h-1zM501 96h1v1h-1zM496 97h1v1h-1zM499 97h1v1h-1zM519 107h1v1h-1zM520 107h1v1h-1zM518 108h1v1h-1zM519 108h1v1h-1zM520 108h1v1h-1zM518 109h1v1h-1zM519 109h1v1h-1zM520 109h1v1h-1zM521 109h1v1h-1zM522 109h1v1h-1zM519 110h1v1h-1zM520 110h1v1h-1zM523 110h1v1h-1zM518 111h1v1h-1zM519 111h1v1h-1zM520 111h1v1h-1zM521 111h1v1h-1zM522 111h1v1h-1zM523 111h1v1h-1zM517 112h1v1h-1zM518 112h1v1h-1zM519 112h1v1h-1zM520 112h1v1h-1zM521 112h1v1h-1zM522 112h1v1h-1zM523 112h1v1h-1zM517 113h1v1h-1zM518 113h1v1h-1zM519 113h1v1h-1zM520 113h1v1h-1zM521 113h1v1h-1zM522 113h1v1h-1zM518 114h1v1h-1zM519 114h1v1h-1zM520 114h1v1h-1zM521 114h1v1h-1zM522 114h1v1h-1zM517 115h1v1h-1zM518 115h1v1h-1zM519 115h1v1h-1zM521 115h1v1h-1zM522 115h1v1h-1zM517 116h1v1h-1zM518 116h1v1h-1zM519 116h1v1h-1zM520 116h1v1h-1zM521 116h1v1h-1zM522 116h1v1h-1zM523 116h1v1h-1zM517 117h1v1h-1zM518 117h1v1h-1zM519 117h1v1h-1zM520 117h1v1h-1zM521 117h1v1h-1zM522 117h1v1h-1zM523 117h1v1h-1zM524 117h1v1h-1zM517 118h1v1h-1zM518 118h1v1h-1zM519 118h1v1h-1zM520 118h1v1h-1zM521 118h1v1h-1zM522 118h1v1h-1zM523 118h1v1h-1zM518 119h1v1h-1zM519 119h1v1h-1zM520 119h1v1h-1zM521 119h1v1h-1zM522 119h1v1h-1zM518 120h1v1h-1zM519 120h1v1h-1zM520 120h1v1h-1zM522 120h1v1h-1zM518 121h1v1h-1zM519 121h1v1h-1zM520 121h1v1h-1zM521 121h1v1h-1zM522 121h1v1h-1zM518 122h1v1h-1zM519 122h1v1h-1zM520 122h1v1h-1zM522 122h1v1h-1zM518 123h1v1h-1zM519 123h1v1h-1zM520 123h1v1h-1zM521 123h1v1h-1zM519 124h1v1h-1zM521 124h1v1h-1zM520 125h1v1h-1z" fill="#6a7cff" opacity="0.92" filter="url(#sblur)"/>
<path d="M496 88h1v1h-1zM497 88h1v1h-1zM498 88h1v1h-1zM499 88h1v1h-1zM500 88h1v1h-1zM501 88h1v1h-1zM494 89h1v1h-1zM495 89h1v1h-1zM496 89h1v1h-1zM501 89h1v1h-1zM502 89h1v1h-1zM493 90h1v1h-1zM494 90h1v1h-1zM503 90h1v1h-1zM493 91h1v1h-1zM503 91h1v1h-1zM504 91h1v1h-1zM492 92h1v1h-1zM493 92h1v1h-1zM503 92h1v1h-1zM504 92h1v1h-1zM505 92h1v1h-1zM492 93h1v1h-1zM493 93h1v1h-1zM503 93h1v1h-1zM504 93h1v1h-1zM505 93h1v1h-1zM493 94h1v1h-1zM494 94h1v1h-1zM502 94h1v1h-1zM494 95h1v1h-1zM495 95h1v1h-1zM496 95h1v1h-1zM497 95h1v1h-1zM500 95h1v1h-1zM501 95h1v1h-1zM497 96h1v1h-1zM498 96h1v1h-1zM499 96h1v1h-1z" fill="#3456ff" opacity="0.92" filter="url(#sblur)"/>
<path d="M497 89h1v1h-1zM498 89h1v1h-1zM499 89h1v1h-1zM500 89h1v1h-1zM495 90h1v1h-1zM496 90h1v1h-1zM502 90h1v1h-1zM494 91h1v1h-1zM502 91h1v1h-1zM494 92h1v1h-1zM502 92h1v1h-1zM494 93h1v1h-1zM502 93h1v1h-1zM495 94h1v1h-1zM496 94h1v1h-1zM497 94h1v1h-1zM500 94h1v1h-1zM501 94h1v1h-1zM498 95h1v1h-1zM499 95h1v1h-1z" fill="#1f8cf0" opacity="0.92" filter="url(#sblur)"/>
<path d="M497 90h1v1h-1zM498 90h1v1h-1zM499 90h1v1h-1zM500 90h1v1h-1zM501 90h1v1h-1zM495 91h1v1h-1zM496 91h1v1h-1zM495 92h1v1h-1zM495 93h1v1h-1zM496 93h1v1h-1zM501 93h1v1h-1zM498 94h1v1h-1zM499 94h1v1h-1z" fill="#12c8a8" opacity="0.92" filter="url(#sblur)"/>
<path d="M497 91h1v1h-1zM498 91h1v1h-1zM499 91h1v1h-1zM500 91h1v1h-1zM501 91h1v1h-1zM496 92h1v1h-1zM497 92h1v1h-1zM498 92h1v1h-1zM499 92h1v1h-1zM500 92h1v1h-1zM501 92h1v1h-1zM497 93h1v1h-1zM498 93h1v1h-1zM499 93h1v1h-1zM500 93h1v1h-1z" fill="#1ee04a" opacity="0.92" filter="url(#sblur)"/>
<defs><linearGradient id="pg01" x1="0" x2="1"><stop offset="0" stop-color="#5577ff"/><stop offset="0.2" stop-color="#44cc99"/><stop offset="0.45" stop-color="#aadd44"/><stop offset="0.65" stop-color="#ee6644"/><stop offset="0.85" stop-color="#99dd55"/><stop offset="1" stop-color="#6699ff"/></linearGradient></defs>
<rect x="509.10" y="126.30" width="19.00" height="0.90" fill="url(#pg01)" stroke="none" stroke-width="1" opacity="0.85"/>
<path d="M488.0 126.2h20.6" stroke="#8fa0ff" stroke-width="0.8" stroke-dasharray="1 2.5"/>
<rect x="480.00" y="74.20" width="53.50" height="53.20" fill="none" stroke="#b4b4b4" stroke-width="0.8"/>
<line x1="508.60" y1="74.20" x2="508.60" y2="127.40" stroke="#3a3a3a" stroke-width="1"/>
<line x1="480.00" y1="102.40" x2="533.50" y2="102.40" stroke="#3a3a3a" stroke-width="1"/>
<line x1="478.50" y1="126.90" x2="480.00" y2="126.90" stroke="#555" stroke-width="0.6"/>
<text x="477.80" y="128.00" font-size="2.8" text-anchor="end" fill="#777">10<tspan dy="-0.8" font-size="2">1</tspan></text>
<line x1="478.50" y1="115.26" x2="480.00" y2="115.26" stroke="#555" stroke-width="0.6"/>
<text x="477.80" y="116.36" font-size="2.8" text-anchor="end" fill="#777">10<tspan dy="-0.8" font-size="2">2</tspan></text>
<line x1="478.50" y1="103.63" x2="480.00" y2="103.63" stroke="#555" stroke-width="0.6"/>
<text x="477.80" y="104.73" font-size="2.8" text-anchor="end" fill="#777">10<tspan dy="-0.8" font-size="2">3</tspan></text>
<line x1="478.50" y1="91.99" x2="480.00" y2="91.99" stroke="#555" stroke-width="0.6"/>
<text x="477.80" y="93.09" font-size="2.8" text-anchor="end" fill="#777">10<tspan dy="-0.8" font-size="2">4</tspan></text>
<line x1="478.50" y1="80.35" x2="480.00" y2="80.35" stroke="#555" stroke-width="0.6"/>
<text x="477.80" y="81.45" font-size="2.8" text-anchor="end" fill="#777">10<tspan dy="-0.8" font-size="2">5</tspan></text>
<line x1="482.80" y1="127.40" x2="482.80" y2="128.90" stroke="#555" stroke-width="0.6"/>
<text x="482.80" y="131.70" font-size="2.8" text-anchor="middle" fill="#777">10<tspan dy="-0.8" font-size="2">0</tspan></text>
<line x1="492.14" y1="127.40" x2="492.14" y2="128.90" stroke="#555" stroke-width="0.6"/>
<text x="492.14" y="131.70" font-size="2.8" text-anchor="middle" fill="#777">10<tspan dy="-0.8" font-size="2">1</tspan></text>
<line x1="501.48" y1="127.40" x2="501.48" y2="128.90" stroke="#555" stroke-width="0.6"/>
<text x="501.48" y="131.70" font-size="2.8" text-anchor="middle" fill="#777">10<tspan dy="-0.8" font-size="2">2</tspan></text>
<line x1="510.82" y1="127.40" x2="510.82" y2="128.90" stroke="#555" stroke-width="0.6"/>
<text x="510.82" y="131.70" font-size="2.8" text-anchor="middle" fill="#777">10<tspan dy="-0.8" font-size="2">3</tspan></text>
<line x1="520.16" y1="127.40" x2="520.16" y2="128.90" stroke="#555" stroke-width="0.6"/>
<text x="520.16" y="131.70" font-size="2.8" text-anchor="middle" fill="#777">10<tspan dy="-0.8" font-size="2">4</tspan></text>
<line x1="529.50" y1="127.40" x2="529.50" y2="128.90" stroke="#555" stroke-width="0.6"/>
<text x="529.50" y="131.70" font-size="2.8" text-anchor="middle" fill="#777">10<tspan dy="-0.8" font-size="2">5</tspan></text>
<path d="M584 23h1v1h-1zM564 24h1v1h-1zM559 25h1v1h-1zM560 25h1v1h-1zM548 26h1v1h-1zM555 26h1v1h-1zM559 26h1v1h-1zM564 26h1v1h-1zM574 26h1v1h-1zM582 26h1v1h-1zM544 27h1v1h-1zM550 27h1v1h-1zM551 27h1v1h-1zM557 27h1v1h-1zM568 27h1v1h-1zM573 27h1v1h-1zM581 27h1v1h-1zM548 28h1v1h-1zM551 28h1v1h-1zM555 28h1v1h-1zM570 28h1v1h-1zM587 28h1v1h-1zM545 29h1v1h-1zM546 29h1v1h-1zM547 29h1v1h-1zM548 29h1v1h-1zM551 29h1v1h-1zM570 29h1v1h-1zM573 29h1v1h-1zM548 30h1v1h-1zM549 30h1v1h-1zM550 30h1v1h-1zM572 30h1v1h-1zM542 31h1v1h-1zM544 31h1v1h-1zM545 31h1v1h-1zM546 31h1v1h-1zM548 31h1v1h-1zM570 31h1v1h-1zM574 31h1v1h-1zM543 32h1v1h-1zM544 32h1v1h-1zM545 32h1v1h-1zM546 32h1v1h-1zM547 32h1v1h-1zM570 32h1v1h-1zM571 32h1v1h-1zM574 32h1v1h-1zM581 32h1v1h-1zM549 33h1v1h-1zM570 33h1v1h-1zM543 34h1v1h-1zM544 34h1v1h-1zM547 34h1v1h-1zM548 34h1v1h-1zM549 34h1v1h-1zM550 34h1v1h-1zM569 34h1v1h-1zM570 34h1v1h-1zM546 35h1v1h-1zM548 35h1v1h-1zM550 35h1v1h-1zM552 35h1v1h-1zM583 35h1v1h-1zM543 36h1v1h-1zM544 36h1v1h-1zM545 36h1v1h-1zM546 36h1v1h-1zM550 36h1v1h-1zM554 36h1v1h-1zM555 36h1v1h-1zM568 36h1v1h-1zM555 37h1v1h-1zM557 37h1v1h-1zM568 37h1v1h-1zM581 37h1v1h-1zM544 38h1v1h-1zM551 38h1v1h-1zM554 38h1v1h-1zM557 38h1v1h-1zM560 38h1v1h-1zM561 38h1v1h-1zM554 39h1v1h-1zM582 42h1v1h-1zM578 43h1v1h-1zM583 43h1v1h-1zM577 44h1v1h-1zM580 44h1v1h-1zM584 44h1v1h-1zM585 44h1v1h-1zM579 45h1v1h-1zM580 45h1v1h-1zM582 45h1v1h-1zM579 46h1v1h-1zM581 46h1v1h-1zM576 47h1v1h-1zM578 47h1v1h-1zM579 47h1v1h-1zM580 47h1v1h-1zM582 47h1v1h-1zM583 47h1v1h-1zM584 47h1v1h-1zM579 48h1v1h-1zM581 48h1v1h-1zM585 48h1v1h-1zM578 49h1v1h-1zM577 50h1v1h-1zM578 50h1v1h-1zM585 50h1v1h-1zM545 51h1v1h-1zM565 51h1v1h-1zM585 51h1v1h-1zM587 51h1v1h-1zM586 52h1v1h-1zM586 53h1v1h-1zM587 54h1v1h-1zM575 55h1v1h-1zM578 55h1v1h-1zM590 55h1v1h-1zM577 56h1v1h-1zM587 56h1v1h-1zM552 57h1v1h-1zM574 57h1v1h-1zM575 57h1v1h-1zM576 57h1v1h-1zM586 57h1v1h-1zM587 57h1v1h-1zM577 58h1v1h-1zM585 58h1v1h-1zM586 58h1v1h-1zM576 59h1v1h-1zM585 59h1v1h-1zM586 59h1v1h-1zM588 60h1v1h-1zM554 61h1v1h-1zM577 61h1v1h-1zM588 61h1v1h-1zM578 62h1v1h-1zM581 62h1v1h-1zM585 62h1v1h-1zM579 63h1v1h-1zM580 63h1v1h-1zM581 63h1v1h-1zM582 63h1v1h-1zM583 63h1v1h-1zM584 63h1v1h-1zM585 63h1v1h-1zM578 64h1v1h-1zM579 64h1v1h-1zM581 64h1v1h-1zM582 64h1v1h-1zM585 64h1v1h-1zM580 65h1v1h-1zM582 65h1v1h-1zM583 65h1v1h-1zM581 66h1v1h-1zM584 66h1v1h-1z" fill="#aab2ff" opacity="0.92" filter="url(#sblur)"/>
<path d="M558 27h1v1h-1zM559 27h1v1h-1zM560 27h1v1h-1zM561 27h1v1h-1zM562 27h1v1h-1zM563 27h1v1h-1zM564 27h1v1h-1zM565 27h1v1h-1zM557 28h1v1h-1zM565 28h1v1h-1zM566 28h1v1h-1zM552 29h1v1h-1zM553 29h1v1h-1zM554 29h1v1h-1zM555 29h1v1h-1zM556 29h1v1h-1zM567 29h1v1h-1zM568 29h1v1h-1zM551 30h1v1h-1zM552 30h1v1h-1zM553 30h1v1h-1zM555 30h1v1h-1zM568 30h1v1h-1zM569 30h1v1h-1zM549 31h1v1h-1zM551 31h1v1h-1zM552 31h1v1h-1zM553 31h1v1h-1zM554 31h1v1h-1zM568 31h1v1h-1zM569 31h1v1h-1zM549 32h1v1h-1zM550 32h1v1h-1zM551 32h1v1h-1zM552 32h1v1h-1zM553 32h1v1h-1zM554 32h1v1h-1zM568 32h1v1h-1zM550 33h1v1h-1zM551 33h1v1h-1zM552 33h1v1h-1zM553 33h1v1h-1zM554 33h1v1h-1zM568 33h1v1h-1zM569 33h1v1h-1zM551 34h1v1h-1zM552 34h1v1h-1zM553 34h1v1h-1zM554 34h1v1h-1zM555 34h1v1h-1zM567 34h1v1h-1zM568 34h1v1h-1zM553 35h1v1h-1zM554 35h1v1h-1zM555 35h1v1h-1zM556 35h1v1h-1zM557 35h1v1h-1zM566 35h1v1h-1zM567 35h1v1h-1zM568 35h1v1h-1zM558 36h1v1h-1zM559 36h1v1h-1zM560 36h1v1h-1zM561 36h1v1h-1zM562 36h1v1h-1zM563 36h1v1h-1zM564 36h1v1h-1zM565 36h1v1h-1zM566 36h1v1h-1zM560 37h1v1h-1zM561 37h1v1h-1zM582 48h1v1h-1zM583 48h1v1h-1zM580 49h1v1h-1zM581 49h1v1h-1zM582 49h1v1h-1zM583 49h1v1h-1zM584 49h1v1h-1zM579 50h1v1h-1zM580 50h1v1h-1zM581 50h1v1h-1zM582 50h1v1h-1zM583 50h1v1h-1zM579 51h1v1h-1zM580 51h1v1h-1zM581 51h1v1h-1zM582 51h1v1h-1zM583 51h1v1h-1zM584 51h1v1h-1zM578 52h1v1h-1zM579 52h1v1h-1zM580 52h1v1h-1zM581 52h1v1h-1zM582 52h1v1h-1zM583 52h1v1h-1zM585 52h1v1h-1zM578 53h1v1h-1zM579 53h1v1h-1zM580 53h1v1h-1zM581 53h1v1h-1zM582 53h1v1h-1zM583 53h1v1h-1zM584 53h1v1h-1zM585 53h1v1h-1zM579 54h1v1h-1zM580 54h1v1h-1zM581 54h1v1h-1zM584 54h1v1h-1zM585 54h1v1h-1zM579 55h1v1h-1zM580 55h1v1h-1zM584 55h1v1h-1zM578 56h1v1h-1zM580 56h1v1h-1zM584 56h1v1h-1zM585 56h1v1h-1zM578 57h1v1h-1zM579 57h1v1h-1zM580 57h1v1h-1zM583 57h1v1h-1zM584 57h1v1h-1zM585 57h1v1h-1zM579 58h1v1h-1zM581 58h1v1h-1zM582 58h1v1h-1zM583 58h1v1h-1zM584 58h1v1h-1zM578 59h1v1h-1zM579 59h1v1h-1zM580 59h1v1h-1zM581 59h1v1h-1zM582 59h1v1h-1zM583 59h1v1h-1zM578 60h1v1h-1zM579 60h1v1h-1zM580 60h1v1h-1zM581 60h1v1h-1zM582 60h1v1h-1zM583 60h1v1h-1zM584 60h1v1h-1zM580 61h1v1h-1zM582 61h1v1h-1zM583 61h1v1h-1zM584 61h1v1h-1zM579 62h1v1h-1zM584 62h1v1h-1z" fill="#6a7cff" opacity="0.92" filter="url(#sblur)"/>
<path d="M558 28h1v1h-1zM559 28h1v1h-1zM560 28h1v1h-1zM561 28h1v1h-1zM562 28h1v1h-1zM563 28h1v1h-1zM564 28h1v1h-1zM557 29h1v1h-1zM558 29h1v1h-1zM564 29h1v1h-1zM565 29h1v1h-1zM566 29h1v1h-1zM556 30h1v1h-1zM557 30h1v1h-1zM566 30h1v1h-1zM567 30h1v1h-1zM555 31h1v1h-1zM556 31h1v1h-1zM566 31h1v1h-1zM567 31h1v1h-1zM555 32h1v1h-1zM566 32h1v1h-1zM567 32h1v1h-1zM555 33h1v1h-1zM556 33h1v1h-1zM566 33h1v1h-1zM567 33h1v1h-1zM556 34h1v1h-1zM557 34h1v1h-1zM558 34h1v1h-1zM565 34h1v1h-1zM566 34h1v1h-1zM558 35h1v1h-1zM559 35h1v1h-1zM560 35h1v1h-1zM561 35h1v1h-1zM562 35h1v1h-1zM563 35h1v1h-1zM564 35h1v1h-1zM565 35h1v1h-1zM582 54h1v1h-1zM583 54h1v1h-1zM581 55h1v1h-1zM582 55h1v1h-1zM583 55h1v1h-1zM581 56h1v1h-1zM582 56h1v1h-1zM583 56h1v1h-1zM581 57h1v1h-1zM582 57h1v1h-1z" fill="#3456ff" opacity="0.92" filter="url(#sblur)"/>
<path d="M559 29h1v1h-1zM560 29h1v1h-1zM561 29h1v1h-1zM562 29h1v1h-1zM563 29h1v1h-1zM564 30h1v1h-1zM565 30h1v1h-1zM557 31h1v1h-1zM565 31h1v1h-1zM556 32h1v1h-1zM565 32h1v1h-1zM557 33h1v1h-1zM564 33h1v1h-1zM565 33h1v1h-1zM559 34h1v1h-1zM560 34h1v1h-1zM561 34h1v1h-1zM562 34h1v1h-1zM563 34h1v1h-1zM564 34h1v1h-1z" fill="#1f8cf0" opacity="0.92" filter="url(#sblur)"/>
<path d="M558 30h1v1h-1zM561 30h1v1h-1zM562 30h1v1h-1zM563 30h1v1h-1zM563 31h1v1h-1zM564 31h1v1h-1zM557 32h1v1h-1zM564 32h1v1h-1zM558 33h1v1h-1zM559 33h1v1h-1zM562 33h1v1h-1zM563 33h1v1h-1z" fill="#12c8a8" opacity="0.92" filter="url(#sblur)"/>
<path d="M559 30h1v1h-1zM560 30h1v1h-1zM558 31h1v1h-1zM559 31h1v1h-1zM560 31h1v1h-1zM561 31h1v1h-1zM562 31h1v1h-1zM558 32h1v1h-1zM559 32h1v1h-1zM560 32h1v1h-1zM561 32h1v1h-1zM562 32h1v1h-1zM563 32h1v1h-1zM560 33h1v1h-1zM561 33h1v1h-1z" fill="#1ee04a" opacity="0.92" filter="url(#sblur)"/>
<defs><linearGradient id="pg10" x1="0" x2="1"><stop offset="0" stop-color="#5577ff"/><stop offset="0.2" stop-color="#44cc99"/><stop offset="0.45" stop-color="#aadd44"/><stop offset="0.65" stop-color="#ee6644"/><stop offset="0.85" stop-color="#99dd55"/><stop offset="1" stop-color="#6699ff"/></linearGradient></defs>
<rect x="571.60" y="66.70" width="19.00" height="0.90" fill="url(#pg10)" stroke="none" stroke-width="1" opacity="0.85"/>
<path d="M550.5 66.6h20.6" stroke="#8fa0ff" stroke-width="0.8" stroke-dasharray="1 2.5"/>
<rect x="542.50" y="14.40" width="53.60" height="53.40" fill="none" stroke="#b4b4b4" stroke-width="0.8"/>
<line x1="571.10" y1="14.40" x2="571.10" y2="67.80" stroke="#3a3a3a" stroke-width="1"/>
<line x1="542.50" y1="42.60" x2="596.10" y2="42.60" stroke="#3a3a3a" stroke-width="1"/>
<line x1="541.00" y1="67.30" x2="542.50" y2="67.30" stroke="#555" stroke-width="0.6"/>
<text x="540.30" y="68.40" font-size="2.8" text-anchor="end" fill="#777">10<tspan dy="-0.8" font-size="2">1</tspan></text>
<line x1="541.00" y1="55.62" x2="542.50" y2="55.62" stroke="#555" stroke-width="0.6"/>
<text x="540.30" y="56.72" font-size="2.8" text-anchor="end" fill="#777">10<tspan dy="-0.8" font-size="2">2</tspan></text>
<line x1="541.00" y1="43.94" x2="542.50" y2="43.94" stroke="#555" stroke-width="0.6"/>
<text x="540.30" y="45.04" font-size="2.8" text-anchor="end" fill="#777">10<tspan dy="-0.8" font-size="2">3</tspan></text>
<line x1="541.00" y1="32.25" x2="542.50" y2="32.25" stroke="#555" stroke-width="0.6"/>
<text x="540.30" y="33.35" font-size="2.8" text-anchor="end" fill="#777">10<tspan dy="-0.8" font-size="2">4</tspan></text>
<line x1="541.00" y1="20.57" x2="542.50" y2="20.57" stroke="#555" stroke-width="0.6"/>
<text x="540.30" y="21.67" font-size="2.8" text-anchor="end" fill="#777">10<tspan dy="-0.8" font-size="2">5</tspan></text>
<line x1="545.30" y1="67.80" x2="545.30" y2="69.30" stroke="#555" stroke-width="0.6"/>
<text x="545.30" y="72.10" font-size="2.8" text-anchor="middle" fill="#777">10<tspan dy="-0.8" font-size="2">0</tspan></text>
<line x1="554.66" y1="67.80" x2="554.66" y2="69.30" stroke="#555" stroke-width="0.6"/>
<text x="554.66" y="72.10" font-size="2.8" text-anchor="middle" fill="#777">10<tspan dy="-0.8" font-size="2">1</tspan></text>
<line x1="564.02" y1="67.80" x2="564.02" y2="69.30" stroke="#555" stroke-width="0.6"/>
<text x="564.02" y="72.10" font-size="2.8" text-anchor="middle" fill="#777">10<tspan dy="-0.8" font-size="2">2</tspan></text>
<line x1="573.38" y1="67.80" x2="573.38" y2="69.30" stroke="#555" stroke-width="0.6"/>
<text x="573.38" y="72.10" font-size="2.8" text-anchor="middle" fill="#777">10<tspan dy="-0.8" font-size="2">3</tspan></text>
<line x1="582.73" y1="67.80" x2="582.73" y2="69.30" stroke="#555" stroke-width="0.6"/>
<text x="582.73" y="72.10" font-size="2.8" text-anchor="middle" fill="#777">10<tspan dy="-0.8" font-size="2">4</tspan></text>
<line x1="592.09" y1="67.80" x2="592.09" y2="69.30" stroke="#555" stroke-width="0.6"/>
<text x="592.09" y="72.10" font-size="2.8" text-anchor="middle" fill="#777">10<tspan dy="-0.8" font-size="2">5</tspan></text>
<path d="M582 82h1v1h-1zM586 82h1v1h-1zM557 84h1v1h-1zM579 84h1v1h-1zM550 85h1v1h-1zM561 85h1v1h-1zM552 86h1v1h-1zM555 86h1v1h-1zM556 86h1v1h-1zM558 86h1v1h-1zM559 86h1v1h-1zM562 86h1v1h-1zM565 86h1v1h-1zM581 86h1v1h-1zM548 87h1v1h-1zM551 87h1v1h-1zM563 87h1v1h-1zM564 87h1v1h-1zM543 88h1v1h-1zM549 88h1v1h-1zM565 88h1v1h-1zM566 88h1v1h-1zM545 89h1v1h-1zM546 89h1v1h-1zM547 89h1v1h-1zM543 90h1v1h-1zM545 90h1v1h-1zM566 90h1v1h-1zM543 91h1v1h-1zM544 91h1v1h-1zM569 91h1v1h-1zM578 91h1v1h-1zM543 92h1v1h-1zM544 92h1v1h-1zM566 92h1v1h-1zM567 92h1v1h-1zM544 93h1v1h-1zM545 93h1v1h-1zM543 94h1v1h-1zM544 94h1v1h-1zM545 94h1v1h-1zM565 94h1v1h-1zM567 94h1v1h-1zM542 95h1v1h-1zM544 95h1v1h-1zM546 95h1v1h-1zM547 95h1v1h-1zM567 95h1v1h-1zM548 96h1v1h-1zM551 96h1v1h-1zM563 96h1v1h-1zM564 96h1v1h-1zM579 96h1v1h-1zM546 97h1v1h-1zM549 97h1v1h-1zM552 97h1v1h-1zM562 97h1v1h-1zM577 97h1v1h-1zM548 98h1v1h-1zM551 98h1v1h-1zM552 98h1v1h-1zM561 98h1v1h-1zM561 99h1v1h-1zM556 100h1v1h-1zM581 103h1v1h-1zM585 103h1v1h-1zM578 104h1v1h-1zM582 104h1v1h-1zM583 104h1v1h-1zM584 104h1v1h-1zM585 104h1v1h-1zM577 105h1v1h-1zM579 105h1v1h-1zM580 105h1v1h-1zM581 105h1v1h-1zM582 105h1v1h-1zM583 105h1v1h-1zM584 105h1v1h-1zM586 105h1v1h-1zM558 106h1v1h-1zM578 106h1v1h-1zM584 106h1v1h-1zM585 106h1v1h-1zM588 106h1v1h-1zM548 107h1v1h-1zM576 107h1v1h-1zM577 107h1v1h-1zM578 107h1v1h-1zM579 107h1v1h-1zM576 108h1v1h-1zM578 108h1v1h-1zM584 108h1v1h-1zM585 108h1v1h-1zM576 109h1v1h-1zM577 109h1v1h-1zM585 109h1v1h-1zM586 109h1v1h-1zM575 110h1v1h-1zM576 110h1v1h-1zM585 110h1v1h-1zM586 110h1v1h-1zM577 111h1v1h-1zM586 111h1v1h-1zM586 112h1v1h-1zM575 113h1v1h-1zM587 113h1v1h-1zM588 113h1v1h-1zM576 114h1v1h-1zM577 114h1v1h-1zM586 114h1v1h-1zM550 115h1v1h-1zM575 115h1v1h-1zM586 115h1v1h-1zM565 116h1v1h-1zM576 116h1v1h-1zM576 117h1v1h-1zM577 117h1v1h-1zM585 117h1v1h-1zM577 118h1v1h-1zM585 118h1v1h-1zM584 120h1v1h-1zM586 120h1v1h-1zM577 121h1v1h-1zM578 121h1v1h-1zM586 121h1v1h-1zM580 122h1v1h-1zM585 122h1v1h-1zM586 122h1v1h-1zM590 122h1v1h-1zM578 123h1v1h-1zM579 123h1v1h-1zM581 123h1v1h-1zM586 123h1v1h-1zM577 124h1v1h-1zM581 124h1v1h-1zM582 124h1v1h-1zM584 124h1v1h-1zM587 124h1v1h-1zM582 125h1v1h-1zM583 125h1v1h-1zM579 126h1v1h-1zM582 126h1v1h-1zM583 126h1v1h-1zM584 126h1v1h-1z" fill="#aab2ff" opacity="0.92" filter="url(#sblur)"/>
<path d="M554 87h1v1h-1zM556 87h1v1h-1zM557 87h1v1h-1zM558 87h1v1h-1zM559 87h1v1h-1zM560 87h1v1h-1zM551 88h1v1h-1zM552 88h1v1h-1zM553 88h1v1h-1zM561 88h1v1h-1zM562 88h1v1h-1zM549 89h1v1h-1zM550 89h1v1h-1zM552 89h1v1h-1zM564 89h1v1h-1zM565 89h1v1h-1zM548 90h1v1h-1zM549 90h1v1h-1zM550 90h1v1h-1zM564 90h1v1h-1zM565 90h1v1h-1zM545 91h1v1h-1zM546 91h1v1h-1zM548 91h1v1h-1zM549 91h1v1h-1zM550 91h1v1h-1zM564 91h1v1h-1zM565 91h1v1h-1zM545 92h1v1h-1zM546 92h1v1h-1zM547 92h1v1h-1zM548 92h1v1h-1zM549 92h1v1h-1zM550 92h1v1h-1zM564 92h1v1h-1zM565 92h1v1h-1zM547 93h1v1h-1zM548 93h1v1h-1zM549 93h1v1h-1zM550 93h1v1h-1zM551 93h1v1h-1zM565 93h1v1h-1zM548 94h1v1h-1zM550 94h1v1h-1zM551 94h1v1h-1zM552 94h1v1h-1zM563 94h1v1h-1zM564 94h1v1h-1zM548 95h1v1h-1zM549 95h1v1h-1zM550 95h1v1h-1zM552 95h1v1h-1zM562 95h1v1h-1zM563 95h1v1h-1zM552 96h1v1h-1zM553 96h1v1h-1zM556 96h1v1h-1zM557 96h1v1h-1zM558 96h1v1h-1zM559 96h1v1h-1zM560 96h1v1h-1zM561 96h1v1h-1zM562 96h1v1h-1zM554 97h1v1h-1zM555 97h1v1h-1zM556 97h1v1h-1zM558 97h1v1h-1zM559 97h1v1h-1zM561 97h1v1h-1zM580 106h1v1h-1zM581 106h1v1h-1zM582 106h1v1h-1zM580 107h1v1h-1zM581 107h1v1h-1zM582 107h1v1h-1zM579 108h1v1h-1zM580 108h1v1h-1zM581 108h1v1h-1zM582 108h1v1h-1zM583 108h1v1h-1zM579 109h1v1h-1zM580 109h1v1h-1zM582 109h1v1h-1zM584 109h1v1h-1zM578 110h1v1h-1zM579 110h1v1h-1zM580 110h1v1h-1zM581 110h1v1h-1zM582 110h1v1h-1zM583 110h1v1h-1zM579 111h1v1h-1zM580 111h1v1h-1zM581 111h1v1h-1zM582 111h1v1h-1zM583 111h1v1h-1zM584 111h1v1h-1zM585 111h1v1h-1zM579 112h1v1h-1zM580 112h1v1h-1zM581 112h1v1h-1zM582 112h1v1h-1zM583 112h1v1h-1zM585 112h1v1h-1zM579 113h1v1h-1zM580 113h1v1h-1zM581 113h1v1h-1zM582 113h1v1h-1zM583 113h1v1h-1zM584 113h1v1h-1zM585 113h1v1h-1zM578 114h1v1h-1zM579 114h1v1h-1zM580 114h1v1h-1zM581 114h1v1h-1zM582 114h1v1h-1zM583 114h1v1h-1zM584 114h1v1h-1zM585 114h1v1h-1zM578 115h1v1h-1zM579 115h1v1h-1zM580 115h1v1h-1zM581 115h1v1h-1zM583 115h1v1h-1zM584 115h1v1h-1zM585 115h1v1h-1zM578 116h1v1h-1zM579 116h1v1h-1zM580 116h1v1h-1zM581 116h1v1h-1zM582 116h1v1h-1zM583 116h1v1h-1zM578 117h1v1h-1zM580 117h1v1h-1zM581 117h1v1h-1zM582 117h1v1h-1zM583 117h1v1h-1zM584 117h1v1h-1zM579 118h1v1h-1zM580 118h1v1h-1zM581 118h1v1h-1zM582 118h1v1h-1zM583 118h1v1h-1zM584 118h1v1h-1zM578 119h1v1h-1zM579 119h1v1h-1zM580 119h1v1h-1zM581 119h1v1h-1zM582 119h1v1h-1zM584 119h1v1h-1zM579 120h1v1h-1zM581 120h1v1h-1zM583 120h1v1h-1zM580 121h1v1h-1zM581 121h1v1h-1zM582 121h1v1h-1zM583 121h1v1h-1zM582 122h1v1h-1zM583 122h1v1h-1zM584 122h1v1h-1zM582 123h1v1h-1zM583 123h1v1h-1z" fill="#6a7cff" opacity="0.92" filter="url(#sblur)"/>
<path d="M554 88h1v1h-1zM556 88h1v1h-1zM557 88h1v1h-1zM558 88h1v1h-1zM559 88h1v1h-1zM560 88h1v1h-1zM553 89h1v1h-1zM554 89h1v1h-1zM555 89h1v1h-1zM560 89h1v1h-1zM561 89h1v1h-1zM562 89h1v1h-1zM551 90h1v1h-1zM552 90h1v1h-1zM553 90h1v1h-1zM562 90h1v1h-1zM563 90h1v1h-1zM551 91h1v1h-1zM552 91h1v1h-1zM563 91h1v1h-1zM551 92h1v1h-1zM552 92h1v1h-1zM563 92h1v1h-1zM552 93h1v1h-1zM553 93h1v1h-1zM562 93h1v1h-1zM563 93h1v1h-1zM553 94h1v1h-1zM554 94h1v1h-1zM561 94h1v1h-1zM562 94h1v1h-1zM553 95h1v1h-1zM554 95h1v1h-1zM555 95h1v1h-1zM556 95h1v1h-1zM557 95h1v1h-1zM558 95h1v1h-1zM559 95h1v1h-1zM560 95h1v1h-1zM561 95h1v1h-1zM554 96h1v1h-1zM555 96h1v1h-1zM582 115h1v1h-1z" fill="#3456ff" opacity="0.92" filter="url(#sblur)"/>
<path d="M556 89h1v1h-1zM557 89h1v1h-1zM558 89h1v1h-1zM559 89h1v1h-1zM554 90h1v1h-1zM555 90h1v1h-1zM560 90h1v1h-1zM561 90h1v1h-1zM553 91h1v1h-1zM554 91h1v1h-1zM561 91h1v1h-1zM562 91h1v1h-1zM553 92h1v1h-1zM554 92h1v1h-1zM561 92h1v1h-1zM562 92h1v1h-1zM554 93h1v1h-1zM560 93h1v1h-1zM561 93h1v1h-1zM555 94h1v1h-1zM556 94h1v1h-1zM557 94h1v1h-1zM558 94h1v1h-1zM559 94h1v1h-1zM560 94h1v1h-1z" fill="#1f8cf0" opacity="0.92" filter="url(#sblur)"/>
<path d="M559 90h1v1h-1zM555 91h1v1h-1zM560 91h1v1h-1zM560 92h1v1h-1zM555 93h1v1h-1zM559 93h1v1h-1z" fill="#12c8a8" opacity="0.92" filter="url(#sblur)"/>
<path d="M556 90h1v1h-1zM557 90h1v1h-1zM558 90h1v1h-1zM556 91h1v1h-1zM557 91h1v1h-1zM558 91h1v1h-1zM559 91h1v1h-1zM555 92h1v1h-1zM556 92h1v1h-1zM557 92h1v1h-1zM558 92h1v1h-1zM559 92h1v1h-1zM556 93h1v1h-1zM557 93h1v1h-1zM558 93h1v1h-1z" fill="#1ee04a" opacity="0.92" filter="url(#sblur)"/>
<defs><linearGradient id="pg11" x1="0" x2="1"><stop offset="0" stop-color="#5577ff"/><stop offset="0.2" stop-color="#44cc99"/><stop offset="0.45" stop-color="#aadd44"/><stop offset="0.65" stop-color="#ee6644"/><stop offset="0.85" stop-color="#99dd55"/><stop offset="1" stop-color="#6699ff"/></linearGradient></defs>
<rect x="571.60" y="126.30" width="19.00" height="0.90" fill="url(#pg11)" stroke="none" stroke-width="1" opacity="0.85"/>
<path d="M550.5 126.2h20.6" stroke="#8fa0ff" stroke-width="0.8" stroke-dasharray="1 2.5"/>
<rect x="542.50" y="74.20" width="53.60" height="53.20" fill="none" stroke="#b4b4b4" stroke-width="0.8"/>
<line x1="571.10" y1="74.20" x2="571.10" y2="127.40" stroke="#3a3a3a" stroke-width="1"/>
<line x1="542.50" y1="102.40" x2="596.10" y2="102.40" stroke="#3a3a3a" stroke-width="1"/>
<line x1="541.00" y1="126.90" x2="542.50" y2="126.90" stroke="#555" stroke-width="0.6"/>
<text x="540.30" y="128.00" font-size="2.8" text-anchor="end" fill="#777">10<tspan dy="-0.8" font-size="2">1</tspan></text>
<line x1="541.00" y1="115.26" x2="542.50" y2="115.26" stroke="#555" stroke-width="0.6"/>
<text x="540.30" y="116.36" font-size="2.8" text-anchor="end" fill="#777">10<tspan dy="-0.8" font-size="2">2</tspan></text>
<line x1="541.00" y1="103.63" x2="542.50" y2="103.63" stroke="#555" stroke-width="0.6"/>
<text x="540.30" y="104.73" font-size="2.8" text-anchor="end" fill="#777">10<tspan dy="-0.8" font-size="2">3</tspan></text>
<line x1="541.00" y1="91.99" x2="542.50" y2="91.99" stroke="#555" stroke-width="0.6"/>
<text x="540.30" y="93.09" font-size="2.8" text-anchor="end" fill="#777">10<tspan dy="-0.8" font-size="2">4</tspan></text>
<line x1="541.00" y1="80.35" x2="542.50" y2="80.35" stroke="#555" stroke-width="0.6"/>
<text x="540.30" y="81.45" font-size="2.8" text-anchor="end" fill="#777">10<tspan dy="-0.8" font-size="2">5</tspan></text>
<line x1="545.30" y1="127.40" x2="545.30" y2="128.90" stroke="#555" stroke-width="0.6"/>
<text x="545.30" y="131.70" font-size="2.8" text-anchor="middle" fill="#777">10<tspan dy="-0.8" font-size="2">0</tspan></text>
<line x1="554.66" y1="127.40" x2="554.66" y2="128.90" stroke="#555" stroke-width="0.6"/>
<text x="554.66" y="131.70" font-size="2.8" text-anchor="middle" fill="#777">10<tspan dy="-0.8" font-size="2">1</tspan></text>
<line x1="564.02" y1="127.40" x2="564.02" y2="128.90" stroke="#555" stroke-width="0.6"/>
<text x="564.02" y="131.70" font-size="2.8" text-anchor="middle" fill="#777">10<tspan dy="-0.8" font-size="2">2</tspan></text>
<line x1="573.38" y1="127.40" x2="573.38" y2="128.90" stroke="#555" stroke-width="0.6"/>
<text x="573.38" y="131.70" font-size="2.8" text-anchor="middle" fill="#777">10<tspan dy="-0.8" font-size="2">3</tspan></text>
<line x1="582.73" y1="127.40" x2="582.73" y2="128.90" stroke="#555" stroke-width="0.6"/>
<text x="582.73" y="131.70" font-size="2.8" text-anchor="middle" fill="#777">10<tspan dy="-0.8" font-size="2">4</tspan></text>
<line x1="592.09" y1="127.40" x2="592.09" y2="128.90" stroke="#555" stroke-width="0.6"/>
<text x="592.09" y="131.70" font-size="2.8" text-anchor="middle" fill="#777">10<tspan dy="-0.8" font-size="2">5</tspan></text>
<path d="M632 15h1v1h-1zM629 17h1v1h-1zM631 17h1v1h-1zM628 18h1v1h-1zM630 18h1v1h-1zM626 19h1v1h-1zM627 20h1v1h-1zM635 20h1v1h-1zM627 21h1v1h-1zM631 21h1v1h-1zM632 21h1v1h-1zM637 21h1v1h-1zM628 22h1v1h-1zM630 22h1v1h-1zM640 22h1v1h-1zM626 23h1v1h-1zM628 23h1v1h-1zM627 24h1v1h-1zM628 24h1v1h-1zM651 24h1v1h-1zM623 25h1v1h-1zM624 25h1v1h-1zM627 25h1v1h-1zM628 25h1v1h-1zM622 26h1v1h-1zM636 26h1v1h-1zM643 27h1v1h-1zM645 27h1v1h-1zM630 28h1v1h-1zM647 28h1v1h-1zM648 28h1v1h-1zM627 29h1v1h-1zM637 29h1v1h-1zM638 29h1v1h-1zM642 29h1v1h-1zM648 30h1v1h-1zM629 32h1v1h-1zM628 33h1v1h-1zM635 33h1v1h-1zM636 33h1v1h-1zM622 34h1v1h-1zM625 35h1v1h-1zM645 35h1v1h-1zM646 35h1v1h-1zM643 36h1v1h-1zM635 38h1v1h-1zM643 38h1v1h-1zM644 38h1v1h-1zM645 38h1v1h-1zM628 39h1v1h-1zM645 39h1v1h-1zM647 39h1v1h-1zM648 39h1v1h-1zM645 40h1v1h-1zM635 41h1v1h-1zM639 41h1v1h-1zM645 41h1v1h-1zM647 41h1v1h-1zM650 41h1v1h-1zM638 43h1v1h-1zM641 43h1v1h-1zM647 43h1v1h-1zM648 43h1v1h-1zM649 43h1v1h-1zM650 43h1v1h-1zM639 44h1v1h-1zM649 44h1v1h-1zM650 44h1v1h-1zM638 45h1v1h-1zM637 46h1v1h-1zM632 47h1v1h-1zM649 47h1v1h-1zM651 47h1v1h-1zM635 48h1v1h-1zM635 49h1v1h-1zM625 50h1v1h-1zM634 50h1v1h-1zM650 50h1v1h-1zM651 50h1v1h-1zM634 51h1v1h-1zM650 51h1v1h-1zM633 52h1v1h-1zM636 52h1v1h-1zM611 53h1v1h-1zM633 53h1v1h-1zM635 53h1v1h-1zM650 53h1v1h-1zM651 53h1v1h-1zM652 54h1v1h-1zM634 55h1v1h-1zM635 55h1v1h-1zM651 55h1v1h-1zM634 56h1v1h-1zM635 56h1v1h-1zM635 58h1v1h-1zM650 58h1v1h-1zM625 59h1v1h-1zM634 59h1v1h-1zM635 59h1v1h-1zM607 60h1v1h-1zM652 60h1v1h-1zM635 61h1v1h-1zM632 62h1v1h-1zM636 62h1v1h-1zM650 62h1v1h-1zM655 62h1v1h-1zM637 64h1v1h-1zM648 64h1v1h-1zM649 64h1v1h-1zM637 65h1v1h-1zM647 65h1v1h-1zM649 65h1v1h-1zM640 66h1v1h-1zM641 66h1v1h-1zM642 66h1v1h-1zM643 66h1v1h-1zM644 66h1v1h-1zM648 66h1v1h-1z" fill="#aab2ff" opacity="0.92" filter="url(#sblur)"/>
<path d="M628 20h1v1h-1zM629 20h1v1h-1zM630 20h1v1h-1zM629 21h1v1h-1zM643 43h1v1h-1zM644 43h1v1h-1zM640 44h1v1h-1zM641 44h1v1h-1zM643 44h1v1h-1zM644 44h1v1h-1zM645 44h1v1h-1zM647 44h1v1h-1zM648 44h1v1h-1zM639 45h1v1h-1zM641 45h1v1h-1zM644 45h1v1h-1zM646 45h1v1h-1zM647 45h1v1h-1zM638 46h1v1h-1zM640 46h1v1h-1zM647 46h1v1h-1zM648 46h1v1h-1zM638 47h1v1h-1zM647 47h1v1h-1zM648 48h1v1h-1zM636 49h1v1h-1zM637 49h1v1h-1zM638 49h1v1h-1zM648 49h1v1h-1zM637 50h1v1h-1zM638 50h1v1h-1zM648 50h1v1h-1zM638 51h1v1h-1zM648 52h1v1h-1zM649 52h1v1h-1zM637 53h1v1h-1zM637 54h1v1h-1zM636 55h1v1h-1zM637 55h1v1h-1zM648 55h1v1h-1zM649 55h1v1h-1zM648 57h1v1h-1zM637 58h1v1h-1zM647 58h1v1h-1zM646 59h1v1h-1zM648 59h1v1h-1zM649 59h1v1h-1zM636 60h1v1h-1zM637 60h1v1h-1zM638 60h1v1h-1zM639 60h1v1h-1zM646 60h1v1h-1zM647 60h1v1h-1zM648 60h1v1h-1zM649 60h1v1h-1zM637 61h1v1h-1zM640 61h1v1h-1zM645 61h1v1h-1zM646 61h1v1h-1zM647 61h1v1h-1zM648 61h1v1h-1zM649 61h1v1h-1zM637 62h1v1h-1zM640 62h1v1h-1zM643 62h1v1h-1zM645 62h1v1h-1zM647 62h1v1h-1zM649 62h1v1h-1zM637 63h1v1h-1zM638 63h1v1h-1zM639 63h1v1h-1zM640 63h1v1h-1zM641 63h1v1h-1zM642 63h1v1h-1zM643 63h1v1h-1zM644 63h1v1h-1zM645 63h1v1h-1zM646 63h1v1h-1zM647 63h1v1h-1zM640 64h1v1h-1zM641 64h1v1h-1zM643 64h1v1h-1zM645 64h1v1h-1zM646 64h1v1h-1zM640 65h1v1h-1zM641 65h1v1h-1z" fill="#6a7cff" opacity="0.92" filter="url(#sblur)"/>
<path d="M643 46h1v1h-1zM644 46h1v1h-1zM645 46h1v1h-1zM639 47h1v1h-1zM640 47h1v1h-1zM641 47h1v1h-1zM642 47h1v1h-1zM643 47h1v1h-1zM644 47h1v1h-1zM645 47h1v1h-1zM646 47h1v1h-1zM639 48h1v1h-1zM640 48h1v1h-1zM641 48h1v1h-1zM642 48h1v1h-1zM643 48h1v1h-1zM644 48h1v1h-1zM645 48h1v1h-1zM647 48h1v1h-1zM639 49h1v1h-1zM640 49h1v1h-1zM645 49h1v1h-1zM646 49h1v1h-1zM647 49h1v1h-1zM640 50h1v1h-1zM646 50h1v1h-1zM647 50h1v1h-1zM640 51h1v1h-1zM646 51h1v1h-1zM647 51h1v1h-1zM638 52h1v1h-1zM639 52h1v1h-1zM646 52h1v1h-1zM647 52h1v1h-1zM638 53h1v1h-1zM639 53h1v1h-1zM640 53h1v1h-1zM647 53h1v1h-1zM638 54h1v1h-1zM639 54h1v1h-1zM640 54h1v1h-1zM646 54h1v1h-1zM638 55h1v1h-1zM639 55h1v1h-1zM640 55h1v1h-1zM638 56h1v1h-1zM639 56h1v1h-1zM640 56h1v1h-1zM647 56h1v1h-1zM648 56h1v1h-1zM638 57h1v1h-1zM639 57h1v1h-1zM640 57h1v1h-1zM646 57h1v1h-1zM638 58h1v1h-1zM639 58h1v1h-1zM640 58h1v1h-1zM645 58h1v1h-1zM646 58h1v1h-1zM639 59h1v1h-1zM640 59h1v1h-1zM641 59h1v1h-1zM643 59h1v1h-1zM644 59h1v1h-1zM645 59h1v1h-1zM641 60h1v1h-1zM642 60h1v1h-1zM643 60h1v1h-1zM644 60h1v1h-1zM641 61h1v1h-1zM642 61h1v1h-1zM643 61h1v1h-1zM641 62h1v1h-1z" fill="#3456ff" opacity="0.92" filter="url(#sblur)"/>
<path d="M641 49h1v1h-1zM642 49h1v1h-1zM643 49h1v1h-1zM644 49h1v1h-1zM641 50h1v1h-1zM642 50h1v1h-1zM643 50h1v1h-1zM644 50h1v1h-1zM645 50h1v1h-1zM641 51h1v1h-1zM643 51h1v1h-1zM644 51h1v1h-1zM645 51h1v1h-1zM640 52h1v1h-1zM645 52h1v1h-1zM646 53h1v1h-1zM641 54h1v1h-1zM641 55h1v1h-1zM645 55h1v1h-1zM641 56h1v1h-1zM645 56h1v1h-1zM646 56h1v1h-1zM641 57h1v1h-1zM643 57h1v1h-1zM644 57h1v1h-1zM645 57h1v1h-1zM641 58h1v1h-1zM642 58h1v1h-1zM643 58h1v1h-1zM644 58h1v1h-1zM642 59h1v1h-1z" fill="#1f8cf0" opacity="0.92" filter="url(#sblur)"/>
<path d="M642 51h1v1h-1zM641 52h1v1h-1zM642 52h1v1h-1zM643 52h1v1h-1zM644 52h1v1h-1zM641 53h1v1h-1zM642 53h1v1h-1zM643 53h1v1h-1zM644 53h1v1h-1zM645 53h1v1h-1zM642 54h1v1h-1zM643 54h1v1h-1zM644 54h1v1h-1zM645 54h1v1h-1zM642 55h1v1h-1zM643 55h1v1h-1zM644 55h1v1h-1zM642 56h1v1h-1zM643 56h1v1h-1zM644 56h1v1h-1zM642 57h1v1h-1z" fill="#12c8a8" opacity="0.92" filter="url(#sblur)"/>
<defs><linearGradient id="pg20" x1="0" x2="1"><stop offset="0" stop-color="#5577ff"/><stop offset="0.2" stop-color="#44cc99"/><stop offset="0.45" stop-color="#aadd44"/><stop offset="0.65" stop-color="#ee6644"/><stop offset="0.85" stop-color="#99dd55"/><stop offset="1" stop-color="#6699ff"/></linearGradient></defs>
<rect x="633.70" y="66.70" width="19.00" height="0.90" fill="url(#pg20)" stroke="none" stroke-width="1" opacity="0.85"/>
<path d="M612.6 66.6h20.6" stroke="#8fa0ff" stroke-width="0.8" stroke-dasharray="1 2.5"/>
<rect x="604.60" y="14.40" width="53.40" height="53.40" fill="none" stroke="#b4b4b4" stroke-width="0.8"/>
<line x1="633.20" y1="14.40" x2="633.20" y2="67.80" stroke="#3a3a3a" stroke-width="1"/>
<line x1="604.60" y1="42.60" x2="658.00" y2="42.60" stroke="#3a3a3a" stroke-width="1"/>
<line x1="603.10" y1="67.30" x2="604.60" y2="67.30" stroke="#555" stroke-width="0.6"/>
<text x="602.40" y="68.40" font-size="2.8" text-anchor="end" fill="#777">10<tspan dy="-0.8" font-size="2">1</tspan></text>
<line x1="603.10" y1="55.62" x2="604.60" y2="55.62" stroke="#555" stroke-width="0.6"/>
<text x="602.40" y="56.72" font-size="2.8" text-anchor="end" fill="#777">10<tspan dy="-0.8" font-size="2">2</tspan></text>
<line x1="603.10" y1="43.94" x2="604.60" y2="43.94" stroke="#555" stroke-width="0.6"/>
<text x="602.40" y="45.04" font-size="2.8" text-anchor="end" fill="#777">10<tspan dy="-0.8" font-size="2">3</tspan></text>
<line x1="603.10" y1="32.25" x2="604.60" y2="32.25" stroke="#555" stroke-width="0.6"/>
<text x="602.40" y="33.35" font-size="2.8" text-anchor="end" fill="#777">10<tspan dy="-0.8" font-size="2">4</tspan></text>
<line x1="603.10" y1="20.57" x2="604.60" y2="20.57" stroke="#555" stroke-width="0.6"/>
<text x="602.40" y="21.67" font-size="2.8" text-anchor="end" fill="#777">10<tspan dy="-0.8" font-size="2">5</tspan></text>
<line x1="607.40" y1="67.80" x2="607.40" y2="69.30" stroke="#555" stroke-width="0.6"/>
<text x="607.40" y="72.10" font-size="2.8" text-anchor="middle" fill="#777">10<tspan dy="-0.8" font-size="2">0</tspan></text>
<line x1="616.72" y1="67.80" x2="616.72" y2="69.30" stroke="#555" stroke-width="0.6"/>
<text x="616.72" y="72.10" font-size="2.8" text-anchor="middle" fill="#777">10<tspan dy="-0.8" font-size="2">1</tspan></text>
<line x1="626.04" y1="67.80" x2="626.04" y2="69.30" stroke="#555" stroke-width="0.6"/>
<text x="626.04" y="72.10" font-size="2.8" text-anchor="middle" fill="#777">10<tspan dy="-0.8" font-size="2">2</tspan></text>
<line x1="635.36" y1="67.80" x2="635.36" y2="69.30" stroke="#555" stroke-width="0.6"/>
<text x="635.36" y="72.10" font-size="2.8" text-anchor="middle" fill="#777">10<tspan dy="-0.8" font-size="2">3</tspan></text>
<line x1="644.68" y1="67.80" x2="644.68" y2="69.30" stroke="#555" stroke-width="0.6"/>
<text x="644.68" y="72.10" font-size="2.8" text-anchor="middle" fill="#777">10<tspan dy="-0.8" font-size="2">4</tspan></text>
<line x1="654.00" y1="67.80" x2="654.00" y2="69.30" stroke="#555" stroke-width="0.6"/>
<text x="654.00" y="72.10" font-size="2.8" text-anchor="middle" fill="#777">10<tspan dy="-0.8" font-size="2">5</tspan></text>
<path d="M644 83h1v1h-1zM626 84h1v1h-1zM613 85h1v1h-1zM644 85h1v1h-1zM624 86h1v1h-1zM625 86h1v1h-1zM626 86h1v1h-1zM627 86h1v1h-1zM614 87h1v1h-1zM618 87h1v1h-1zM628 87h1v1h-1zM630 87h1v1h-1zM604 88h1v1h-1zM607 88h1v1h-1zM609 88h1v1h-1zM610 88h1v1h-1zM611 88h1v1h-1zM613 88h1v1h-1zM617 88h1v1h-1zM630 88h1v1h-1zM607 89h1v1h-1zM611 89h1v1h-1zM613 89h1v1h-1zM631 89h1v1h-1zM606 90h1v1h-1zM608 90h1v1h-1zM609 90h1v1h-1zM610 90h1v1h-1zM612 90h1v1h-1zM613 90h1v1h-1zM631 90h1v1h-1zM608 91h1v1h-1zM631 91h1v1h-1zM635 91h1v1h-1zM648 91h1v1h-1zM604 92h1v1h-1zM605 92h1v1h-1zM607 92h1v1h-1zM609 92h1v1h-1zM635 92h1v1h-1zM636 92h1v1h-1zM605 93h1v1h-1zM606 93h1v1h-1zM613 93h1v1h-1zM634 93h1v1h-1zM606 94h1v1h-1zM609 94h1v1h-1zM610 94h1v1h-1zM611 94h1v1h-1zM612 94h1v1h-1zM613 94h1v1h-1zM614 94h1v1h-1zM630 94h1v1h-1zM631 94h1v1h-1zM632 94h1v1h-1zM633 94h1v1h-1zM640 94h1v1h-1zM643 94h1v1h-1zM608 95h1v1h-1zM609 95h1v1h-1zM610 95h1v1h-1zM611 95h1v1h-1zM613 95h1v1h-1zM614 95h1v1h-1zM615 95h1v1h-1zM616 95h1v1h-1zM605 96h1v1h-1zM610 96h1v1h-1zM615 96h1v1h-1zM628 96h1v1h-1zM629 96h1v1h-1zM633 96h1v1h-1zM605 97h1v1h-1zM606 97h1v1h-1zM617 97h1v1h-1zM627 97h1v1h-1zM638 97h1v1h-1zM639 97h1v1h-1zM627 98h1v1h-1zM628 98h1v1h-1zM630 98h1v1h-1zM620 99h1v1h-1zM627 100h1v1h-1zM644 100h1v1h-1zM645 100h1v1h-1zM643 101h1v1h-1zM640 105h1v1h-1zM643 105h1v1h-1zM638 106h1v1h-1zM642 106h1v1h-1zM643 106h1v1h-1zM644 106h1v1h-1zM645 106h1v1h-1zM647 106h1v1h-1zM640 107h1v1h-1zM641 107h1v1h-1zM645 107h1v1h-1zM646 107h1v1h-1zM647 107h1v1h-1zM649 107h1v1h-1zM610 108h1v1h-1zM639 108h1v1h-1zM646 108h1v1h-1zM640 109h1v1h-1zM646 109h1v1h-1zM609 110h1v1h-1zM639 110h1v1h-1zM640 110h1v1h-1zM646 110h1v1h-1zM647 110h1v1h-1zM648 110h1v1h-1zM640 111h1v1h-1zM648 111h1v1h-1zM639 112h1v1h-1zM640 112h1v1h-1zM640 113h1v1h-1zM648 113h1v1h-1zM649 113h1v1h-1zM640 114h1v1h-1zM649 114h1v1h-1zM611 115h1v1h-1zM639 115h1v1h-1zM649 115h1v1h-1zM650 115h1v1h-1zM640 116h1v1h-1zM649 116h1v1h-1zM651 116h1v1h-1zM620 117h1v1h-1zM637 117h1v1h-1zM648 117h1v1h-1zM640 118h1v1h-1zM648 118h1v1h-1zM649 118h1v1h-1zM638 119h1v1h-1zM647 119h1v1h-1zM639 120h1v1h-1zM640 120h1v1h-1zM649 120h1v1h-1zM638 121h1v1h-1zM640 122h1v1h-1zM642 122h1v1h-1zM646 122h1v1h-1zM647 122h1v1h-1zM640 123h1v1h-1zM641 123h1v1h-1zM642 123h1v1h-1zM643 123h1v1h-1zM647 123h1v1h-1zM640 124h1v1h-1zM641 124h1v1h-1zM643 124h1v1h-1zM644 124h1v1h-1zM645 124h1v1h-1zM644 125h1v1h-1zM648 125h1v1h-1zM647 126h1v1h-1z" fill="#aab2ff" opacity="0.92" filter="url(#sblur)"/>
<path d="M621 87h1v1h-1zM622 87h1v1h-1zM624 87h1v1h-1zM618 88h1v1h-1zM619 88h1v1h-1zM620 88h1v1h-1zM626 88h1v1h-1zM627 88h1v1h-1zM628 88h1v1h-1zM629 88h1v1h-1zM615 89h1v1h-1zM616 89h1v1h-1zM617 89h1v1h-1zM618 89h1v1h-1zM628 89h1v1h-1zM629 89h1v1h-1zM630 89h1v1h-1zM611 90h1v1h-1zM614 90h1v1h-1zM615 90h1v1h-1zM616 90h1v1h-1zM629 90h1v1h-1zM630 90h1v1h-1zM610 91h1v1h-1zM613 91h1v1h-1zM614 91h1v1h-1zM615 91h1v1h-1zM629 91h1v1h-1zM630 91h1v1h-1zM610 92h1v1h-1zM611 92h1v1h-1zM612 92h1v1h-1zM613 92h1v1h-1zM614 92h1v1h-1zM615 92h1v1h-1zM629 92h1v1h-1zM630 92h1v1h-1zM610 93h1v1h-1zM611 93h1v1h-1zM615 93h1v1h-1zM616 93h1v1h-1zM629 93h1v1h-1zM617 94h1v1h-1zM618 94h1v1h-1zM628 94h1v1h-1zM629 94h1v1h-1zM618 95h1v1h-1zM627 95h1v1h-1zM618 96h1v1h-1zM619 96h1v1h-1zM620 96h1v1h-1zM625 96h1v1h-1zM626 96h1v1h-1zM627 96h1v1h-1zM620 97h1v1h-1zM621 97h1v1h-1zM622 97h1v1h-1zM623 97h1v1h-1zM643 107h1v1h-1zM644 107h1v1h-1zM641 108h1v1h-1zM642 108h1v1h-1zM643 108h1v1h-1zM644 108h1v1h-1zM641 109h1v1h-1zM642 109h1v1h-1zM643 109h1v1h-1zM644 109h1v1h-1zM641 110h1v1h-1zM642 110h1v1h-1zM643 110h1v1h-1zM644 110h1v1h-1zM645 110h1v1h-1zM641 111h1v1h-1zM642 111h1v1h-1zM643 111h1v1h-1zM644 111h1v1h-1zM645 111h1v1h-1zM642 112h1v1h-1zM643 112h1v1h-1zM645 112h1v1h-1zM646 112h1v1h-1zM642 113h1v1h-1zM643 113h1v1h-1zM645 113h1v1h-1zM646 113h1v1h-1zM641 114h1v1h-1zM642 114h1v1h-1zM646 114h1v1h-1zM647 114h1v1h-1zM648 114h1v1h-1zM640 115h1v1h-1zM641 115h1v1h-1zM642 115h1v1h-1zM646 115h1v1h-1zM647 115h1v1h-1zM648 115h1v1h-1zM641 116h1v1h-1zM642 116h1v1h-1zM643 116h1v1h-1zM645 116h1v1h-1zM646 116h1v1h-1zM641 117h1v1h-1zM643 117h1v1h-1zM644 117h1v1h-1zM645 117h1v1h-1zM646 117h1v1h-1zM647 117h1v1h-1zM641 118h1v1h-1zM642 118h1v1h-1zM643 118h1v1h-1zM644 118h1v1h-1zM645 118h1v1h-1zM646 118h1v1h-1zM647 118h1v1h-1zM641 119h1v1h-1zM642 119h1v1h-1zM643 119h1v1h-1zM644 119h1v1h-1zM645 119h1v1h-1zM646 119h1v1h-1zM642 120h1v1h-1zM643 120h1v1h-1zM644 120h1v1h-1zM645 120h1v1h-1zM646 120h1v1h-1zM642 121h1v1h-1zM643 121h1v1h-1zM644 121h1v1h-1zM645 121h1v1h-1zM646 121h1v1h-1zM643 122h1v1h-1zM644 122h1v1h-1zM645 122h1v1h-1zM644 123h1v1h-1z" fill="#6a7cff" opacity="0.92" filter="url(#sblur)"/>
<path d="M621 88h1v1h-1zM622 88h1v1h-1zM623 88h1v1h-1zM624 88h1v1h-1zM625 88h1v1h-1zM619 89h1v1h-1zM620 89h1v1h-1zM621 89h1v1h-1zM626 89h1v1h-1zM627 89h1v1h-1zM617 90h1v1h-1zM618 90h1v1h-1zM619 90h1v1h-1zM627 90h1v1h-1zM628 90h1v1h-1zM616 91h1v1h-1zM617 91h1v1h-1zM618 91h1v1h-1zM627 91h1v1h-1zM628 91h1v1h-1zM616 92h1v1h-1zM617 92h1v1h-1zM618 92h1v1h-1zM619 92h1v1h-1zM627 92h1v1h-1zM628 92h1v1h-1zM617 93h1v1h-1zM618 93h1v1h-1zM619 93h1v1h-1zM627 93h1v1h-1zM628 93h1v1h-1zM619 94h1v1h-1zM620 94h1v1h-1zM626 94h1v1h-1zM627 94h1v1h-1zM619 95h1v1h-1zM620 95h1v1h-1zM621 95h1v1h-1zM622 95h1v1h-1zM624 95h1v1h-1zM626 95h1v1h-1zM621 96h1v1h-1zM622 96h1v1h-1zM623 96h1v1h-1zM624 96h1v1h-1zM644 112h1v1h-1zM644 113h1v1h-1zM643 114h1v1h-1zM644 114h1v1h-1zM645 114h1v1h-1zM643 115h1v1h-1zM644 115h1v1h-1zM645 115h1v1h-1z" fill="#3456ff" opacity="0.92" filter="url(#sblur)"/>
<path d="M622 89h1v1h-1zM624 89h1v1h-1zM625 89h1v1h-1zM620 90h1v1h-1zM626 90h1v1h-1zM619 91h1v1h-1zM620 91h1v1h-1zM620 92h1v1h-1zM620 93h1v1h-1zM626 93h1v1h-1zM621 94h1v1h-1zM625 94h1v1h-1zM623 95h1v1h-1z" fill="#1f8cf0" opacity="0.92" filter="url(#sblur)"/>
<path d="M623 89h1v1h-1zM621 90h1v1h-1zM622 90h1v1h-1zM624 90h1v1h-1zM625 90h1v1h-1zM621 91h1v1h-1zM626 91h1v1h-1zM621 92h1v1h-1zM626 92h1v1h-1zM621 93h1v1h-1zM625 93h1v1h-1zM622 94h1v1h-1zM623 94h1v1h-1zM624 94h1v1h-1z" fill="#12c8a8" opacity="0.92" filter="url(#sblur)"/>
<path d="M623 90h1v1h-1zM622 91h1v1h-1zM623 91h1v1h-1zM624 91h1v1h-1zM625 91h1v1h-1zM622 92h1v1h-1zM623 92h1v1h-1zM624 92h1v1h-1zM625 92h1v1h-1zM622 93h1v1h-1zM623 93h1v1h-1zM624 93h1v1h-1z" fill="#1ee04a" opacity="0.92" filter="url(#sblur)"/>
<defs><linearGradient id="pg21" x1="0" x2="1"><stop offset="0" stop-color="#5577ff"/><stop offset="0.2" stop-color="#44cc99"/><stop offset="0.45" stop-color="#aadd44"/><stop offset="0.65" stop-color="#ee6644"/><stop offset="0.85" stop-color="#99dd55"/><stop offset="1" stop-color="#6699ff"/></linearGradient></defs>
<rect x="633.70" y="126.30" width="19.00" height="0.90" fill="url(#pg21)" stroke="none" stroke-width="1" opacity="0.85"/>
<path d="M612.6 126.2h20.6" stroke="#8fa0ff" stroke-width="0.8" stroke-dasharray="1 2.5"/>
<rect x="604.60" y="74.20" width="53.40" height="53.20" fill="none" stroke="#b4b4b4" stroke-width="0.8"/>
<line x1="633.20" y1="74.20" x2="633.20" y2="127.40" stroke="#3a3a3a" stroke-width="1"/>
<line x1="604.60" y1="102.40" x2="658.00" y2="102.40" stroke="#3a3a3a" stroke-width="1"/>
<line x1="603.10" y1="126.90" x2="604.60" y2="126.90" stroke="#555" stroke-width="0.6"/>
<text x="602.40" y="128.00" font-size="2.8" text-anchor="end" fill="#777">10<tspan dy="-0.8" font-size="2">1</tspan></text>
<line x1="603.10" y1="115.26" x2="604.60" y2="115.26" stroke="#555" stroke-width="0.6"/>
<text x="602.40" y="116.36" font-size="2.8" text-anchor="end" fill="#777">10<tspan dy="-0.8" font-size="2">2</tspan></text>
<line x1="603.10" y1="103.63" x2="604.60" y2="103.63" stroke="#555" stroke-width="0.6"/>
<text x="602.40" y="104.73" font-size="2.8" text-anchor="end" fill="#777">10<tspan dy="-0.8" font-size="2">3</tspan></text>
<line x1="603.10" y1="91.99" x2="604.60" y2="91.99" stroke="#555" stroke-width="0.6"/>
<text x="602.40" y="93.09" font-size="2.8" text-anchor="end" fill="#777">10<tspan dy="-0.8" font-size="2">4</tspan></text>
<line x1="603.10" y1="80.35" x2="604.60" y2="80.35" stroke="#555" stroke-width="0.6"/>
<text x="602.40" y="81.45" font-size="2.8" text-anchor="end" fill="#777">10<tspan dy="-0.8" font-size="2">5</tspan></text>
<line x1="607.40" y1="127.40" x2="607.40" y2="128.90" stroke="#555" stroke-width="0.6"/>
<text x="607.40" y="131.70" font-size="2.8" text-anchor="middle" fill="#777">10<tspan dy="-0.8" font-size="2">0</tspan></text>
<line x1="616.72" y1="127.40" x2="616.72" y2="128.90" stroke="#555" stroke-width="0.6"/>
<text x="616.72" y="131.70" font-size="2.8" text-anchor="middle" fill="#777">10<tspan dy="-0.8" font-size="2">1</tspan></text>
<line x1="626.04" y1="127.40" x2="626.04" y2="128.90" stroke="#555" stroke-width="0.6"/>
<text x="626.04" y="131.70" font-size="2.8" text-anchor="middle" fill="#777">10<tspan dy="-0.8" font-size="2">2</tspan></text>
<line x1="635.36" y1="127.40" x2="635.36" y2="128.90" stroke="#555" stroke-width="0.6"/>
<text x="635.36" y="131.70" font-size="2.8" text-anchor="middle" fill="#777">10<tspan dy="-0.8" font-size="2">3</tspan></text>
<line x1="644.68" y1="127.40" x2="644.68" y2="128.90" stroke="#555" stroke-width="0.6"/>
<text x="644.68" y="131.70" font-size="2.8" text-anchor="middle" fill="#777">10<tspan dy="-0.8" font-size="2">4</tspan></text>
<line x1="654.00" y1="127.40" x2="654.00" y2="128.90" stroke="#555" stroke-width="0.6"/>
<text x="654.00" y="131.70" font-size="2.8" text-anchor="middle" fill="#777">10<tspan dy="-0.8" font-size="2">5</tspan></text>
<text x="456.00" y="43.00" font-size="10" text-anchor="middle" fill="#1c1c1c" transform="rotate(-90 456.00 43.00)">PDAC #1</text>
<text x="456.00" y="101.80" font-size="10" text-anchor="middle" fill="#1c1c1c" transform="rotate(-90 456.00 101.80)">PDAC #2</text>
<text x="471.40" y="49.80" font-size="10" text-anchor="middle" fill="#1c1c1c" transform="rotate(-90 471.40 49.80)">Celltrace Violet</text>
<line x1="468.50" y1="124.00" x2="468.50" y2="95.00" stroke="#000" stroke-width="1.1"/>
<path d="M468.5,88 L465.6,96.5 L471.4,96.5 Z" fill="#000"/>
<line x1="483.90" y1="139.60" x2="612.00" y2="139.60" stroke="#000" stroke-width="1.1"/>
<path d="M619.6,139.6 L611,136.7 L611,142.5 Z" fill="#000"/>
<text x="627.00" y="143.10" font-size="10" text-anchor="start" fill="#1c1c1c">eGFP</text>
<text x="428.00" y="164.20" font-size="16" text-anchor="start" font-weight="bold" fill="#000">d</text>
<line x1="479.10" y1="257.40" x2="479.10" y2="170.80" stroke="#222" stroke-width="1"/>
<line x1="475.50" y1="256.90" x2="479.10" y2="256.90" stroke="#222" stroke-width="1"/>
<text x="472.70" y="260.35" font-size="9.7" text-anchor="end" fill="#1c1c1c">0</text>
<line x1="475.50" y1="228.20" x2="479.10" y2="228.20" stroke="#222" stroke-width="1"/>
<text x="472.70" y="231.65" font-size="9.7" text-anchor="end" fill="#1c1c1c">20</text>
<line x1="475.50" y1="199.50" x2="479.10" y2="199.50" stroke="#222" stroke-width="1"/>
<text x="472.70" y="202.95" font-size="9.7" text-anchor="end" fill="#1c1c1c">40</text>
<line x1="475.50" y1="170.80" x2="479.10" y2="170.80" stroke="#222" stroke-width="1"/>
<text x="472.70" y="174.25" font-size="9.7" text-anchor="end" fill="#1c1c1c">60</text>
<line x1="478.60" y1="256.90" x2="565.60" y2="256.90" stroke="#222" stroke-width="1"/>
<line x1="499.90" y1="256.90" x2="499.90" y2="260.90" stroke="#222" stroke-width="1"/>
<line x1="544.80" y1="256.90" x2="544.80" y2="260.90" stroke="#222" stroke-width="1"/>
<rect x="483.50" y="191.89" width="7.70" height="65.01" fill="#8a8a8a" stroke="#111" stroke-width="0.9"/>
<line x1="487.35" y1="191.89" x2="487.35" y2="190.89" stroke="#111" stroke-width="0.9"/>
<line x1="485.75" y1="190.89" x2="488.95" y2="190.89" stroke="#111" stroke-width="0.9"/>
<rect x="496.20" y="195.63" width="7.70" height="61.27" fill="#0b8a4a" stroke="#111" stroke-width="0.9"/>
<line x1="500.05" y1="195.63" x2="500.05" y2="192.32" stroke="#111" stroke-width="0.9"/>
<line x1="498.45" y1="192.32" x2="501.65" y2="192.32" stroke="#111" stroke-width="0.9"/>
<rect x="528.60" y="190.03" width="8.00" height="66.87" fill="#8a8a8a" stroke="#111" stroke-width="0.9"/>
<line x1="532.60" y1="190.03" x2="532.60" y2="187.88" stroke="#111" stroke-width="0.9"/>
<line x1="531.00" y1="187.88" x2="534.20" y2="187.88" stroke="#111" stroke-width="0.9"/>
<rect x="541.50" y="188.16" width="7.70" height="68.74" fill="#0b8a4a" stroke="#111" stroke-width="0.9"/>
<line x1="545.35" y1="188.16" x2="545.35" y2="187.16" stroke="#111" stroke-width="0.9"/>
<line x1="543.75" y1="187.16" x2="546.95" y2="187.16" stroke="#111" stroke-width="0.9"/>
<rect x="553.60" y="194.48" width="7.60" height="62.42" fill="#ff2200" stroke="#111" stroke-width="0.9"/>
<line x1="557.40" y1="194.48" x2="557.40" y2="191.89" stroke="#111" stroke-width="0.9"/>
<line x1="555.80" y1="191.89" x2="559.00" y2="191.89" stroke="#111" stroke-width="0.9"/>
<circle cx="485.30" cy="193.47" r="2.1" fill="#fff" stroke="#111" stroke-width="0.9"/>
<circle cx="489.30" cy="191.46" r="2.1" fill="#fff" stroke="#111" stroke-width="0.9"/>
<circle cx="499.60" cy="191.75" r="2.1" fill="#fff" stroke="#111" stroke-width="0.9"/>
<circle cx="499.60" cy="198.50" r="2.1" fill="#fff" stroke="#111" stroke-width="0.9"/>
<circle cx="509.80" cy="256.18" r="2.1" fill="#fff" stroke="#111" stroke-width="0.9"/>
<circle cx="513.70" cy="255.46" r="2.1" fill="#fff" stroke="#111" stroke-width="0.9"/>
<circle cx="532.70" cy="186.15" r="2.1" fill="#fff" stroke="#111" stroke-width="0.9"/>
<circle cx="532.70" cy="193.47" r="2.1" fill="#fff" stroke="#111" stroke-width="0.9"/>
<circle cx="543.70" cy="189.02" r="2.1" fill="#fff" stroke="#111" stroke-width="0.9"/>
<circle cx="547.00" cy="186.30" r="2.1" fill="#fff" stroke="#111" stroke-width="0.9"/>
<circle cx="557.50" cy="189.74" r="2.1" fill="#fff" stroke="#111" stroke-width="0.9"/>
<circle cx="557.50" cy="197.35" r="2.1" fill="#fff" stroke="#111" stroke-width="0.9"/>
<text x="456.00" y="212.30" font-size="10" text-anchor="middle" fill="#1c1c1c" transform="rotate(-90 456.00 212.30)">Percent tumor cell (%)</text>
<text x="505.70" y="269.30" font-size="9.5" text-anchor="end" fill="#1c1c1c" transform="rotate(-45 505.70 269.30)">PDAC #1</text>
<text x="549.90" y="270.00" font-size="9.5" text-anchor="end" fill="#1c1c1c" transform="rotate(-45 549.90 270.00)">PDAC #2</text>
<rect x="581.50" y="207.20" width="10.00" height="5.60" fill="#8a8a8a" stroke="#222" stroke-width="0.8"/>
<text x="601.00" y="213.40" font-size="10" text-anchor="start" fill="#1c1c1c">Ctrl</text>
<rect x="581.50" y="218.50" width="10.00" height="5.60" fill="#0b8a4a" stroke="#222" stroke-width="0.8"/>
<text x="601.00" y="224.70" font-size="10" text-anchor="start" fill="#1c1c1c">CD19 CAR-T</text>
<rect x="581.50" y="229.80" width="10.00" height="5.60" fill="#ff1a00" stroke="#222" stroke-width="0.8"/>
<text x="601.00" y="236.00" font-size="10" text-anchor="start" fill="#1c1c1c">mC2 CAR-T</text>
<text x="-0.30" y="494.40" font-size="16" text-anchor="start" font-weight="bold" fill="#000">h</text>
<text x="66.20" y="505.60" font-size="9.7" text-anchor="end" fill="#1c1c1c">NSG mice</text>
<line x1="68.20" y1="502.30" x2="372.00" y2="502.30" stroke="#000" stroke-width="1.1"/>
<path d="M378.6,502.3 L369.8,499.4 L369.8,505.2 Z" fill="#000"/>
<line x1="97.40" y1="498.30" x2="97.40" y2="506.50" stroke="#000" stroke-width="1.1"/>
<text x="97.40" y="496.10" font-size="9.7" text-anchor="middle" fill="#1c1c1c">-2</text>
<line x1="170.70" y1="498.30" x2="170.70" y2="506.50" stroke="#000" stroke-width="1.1"/>
<text x="170.70" y="496.10" font-size="9.7" text-anchor="middle" fill="#1c1c1c">0</text>
<line x1="201.90" y1="498.30" x2="201.90" y2="506.50" stroke="#000" stroke-width="1.1"/>
<text x="201.90" y="496.10" font-size="9.7" text-anchor="middle" fill="#1c1c1c">1</text>
<line x1="233.20" y1="498.30" x2="233.20" y2="506.50" stroke="#000" stroke-width="1.1"/>
<text x="233.20" y="496.10" font-size="9.7" text-anchor="middle" fill="#1c1c1c">2</text>
<line x1="264.20" y1="498.30" x2="264.20" y2="506.50" stroke="#000" stroke-width="1.1"/>
<text x="264.20" y="496.10" font-size="9.7" text-anchor="middle" fill="#1c1c1c">3</text>
<line x1="295.30" y1="498.30" x2="295.30" y2="506.50" stroke="#000" stroke-width="1.1"/>
<text x="295.30" y="496.10" font-size="9.7" text-anchor="middle" fill="#1c1c1c">4</text>
<text x="337.40" y="496.10" font-size="9.7" text-anchor="middle" fill="#1c1c1c">Weeks</text>
<text x="95.70" y="519.90" font-size="9.7" text-anchor="middle" fill="#1c1c1c">PDAC #1</text>
<text x="95.70" y="531.65" font-size="9.7" text-anchor="middle" fill="#1c1c1c">Tumor fragments</text>
<text x="95.70" y="543.40" font-size="9.7" text-anchor="middle" fill="#1c1c1c">s.c.</text>
<text x="170.80" y="519.90" font-size="9.7" text-anchor="middle" fill="#1c1c1c">CAR-T cells</text>
<text x="170.80" y="531.65" font-size="9.7" text-anchor="middle" fill="#1c1c1c">10×10<tspan dy="-3" font-size="6.5">6</tspan><tspan dy="3">/mouse</tspan></text>
<text x="170.80" y="543.40" font-size="9.7" text-anchor="middle" fill="#1c1c1c">i.v.</text>
<text x="259.70" y="519.90" font-size="9.7" text-anchor="middle" fill="#1c1c1c">Tumor volume</text>
<text x="259.70" y="531.65" font-size="9.7" text-anchor="middle" fill="#1c1c1c">Survival monitoring</text>
<text x="1.60" y="565.80" font-size="16" text-anchor="start" font-weight="bold" fill="#000">i</text>
<line x1="50.40" y1="684.90" x2="50.40" y2="576.20" stroke="#222" stroke-width="1"/>
<line x1="46.30" y1="684.40" x2="50.40" y2="684.40" stroke="#222" stroke-width="1"/>
<text x="43.10" y="687.85" font-size="9.7" text-anchor="end" fill="#1c1c1c">0</text>
<line x1="46.30" y1="662.76" x2="50.40" y2="662.76" stroke="#222" stroke-width="1"/>
<text x="43.10" y="666.21" font-size="9.7" text-anchor="end" fill="#1c1c1c">200</text>
<line x1="46.30" y1="641.12" x2="50.40" y2="641.12" stroke="#222" stroke-width="1"/>
<text x="43.10" y="644.57" font-size="9.7" text-anchor="end" fill="#1c1c1c">400</text>
<line x1="46.30" y1="619.48" x2="50.40" y2="619.48" stroke="#222" stroke-width="1"/>
<text x="43.10" y="622.93" font-size="9.7" text-anchor="end" fill="#1c1c1c">600</text>
<line x1="46.30" y1="597.84" x2="50.40" y2="597.84" stroke="#222" stroke-width="1"/>
<text x="43.10" y="601.29" font-size="9.7" text-anchor="end" fill="#1c1c1c">800</text>
<line x1="46.30" y1="576.20" x2="50.40" y2="576.20" stroke="#222" stroke-width="1"/>
<text x="43.10" y="579.65" font-size="9.7" text-anchor="end" fill="#1c1c1c">1000</text>
<line x1="49.90" y1="684.40" x2="160.60" y2="684.40" stroke="#222" stroke-width="1"/>
<line x1="50.30" y1="684.40" x2="50.30" y2="688.40" stroke="#222" stroke-width="1"/>
<text x="49.60" y="698.90" font-size="10" text-anchor="middle" fill="#1c1c1c">0</text>
<line x1="77.35" y1="684.40" x2="77.35" y2="688.40" stroke="#222" stroke-width="1"/>
<text x="76.65" y="698.90" font-size="10" text-anchor="middle" fill="#1c1c1c">1</text>
<line x1="104.40" y1="684.40" x2="104.40" y2="688.40" stroke="#222" stroke-width="1"/>
<text x="103.70" y="698.90" font-size="10" text-anchor="middle" fill="#1c1c1c">2</text>
<line x1="131.45" y1="684.40" x2="131.45" y2="688.40" stroke="#222" stroke-width="1"/>
<text x="130.75" y="698.90" font-size="10" text-anchor="middle" fill="#1c1c1c">3</text>
<line x1="158.50" y1="684.40" x2="158.50" y2="688.40" stroke="#222" stroke-width="1"/>
<text x="157.80" y="698.90" font-size="10" text-anchor="middle" fill="#1c1c1c">4</text>
<text x="103.40" y="710.30" font-size="10" text-anchor="middle" fill="#1c1c1c">Weeks</text>
<text x="17.70" y="627.20" font-size="10" text-anchor="middle" fill="#1c1c1c" transform="rotate(-90 17.70 627.20)">Tumor volume (mm<tspan dy="-3.5" font-size="6.5">3</tspan><tspan dy="3.5">)</tspan></text>
<path d="M50.30,681.15 L77.35,681.80 L104.40,683.32 L131.45,683.75 L158.50,684.18" fill="none" stroke="#ff3a2a" stroke-width="1.6"/>
<rect x="48.40" y="679.75" width="3.80" height="2.80" fill="#ff3a2a" stroke="none" stroke-width="1"/>
<rect x="75.45" y="680.40" width="3.80" height="2.80" fill="#ff3a2a" stroke="none" stroke-width="1"/>
<rect x="102.50" y="681.92" width="3.80" height="2.80" fill="#ff3a2a" stroke="none" stroke-width="1"/>
<rect x="129.55" y="682.35" width="3.80" height="2.80" fill="#ff3a2a" stroke="none" stroke-width="1"/>
<rect x="156.60" y="682.78" width="3.80" height="2.80" fill="#ff3a2a" stroke="none" stroke-width="1"/>
<path d="M50.30,680.07 L77.35,676.18 L104.40,668.17 L131.45,644.91 L158.50,612.34" fill="none" stroke="#14935a" stroke-width="1.5"/>
<line x1="50.30" y1="679.53" x2="50.30" y2="680.61" stroke="#14935a" stroke-width="1"/>
<line x1="48.10" y1="679.53" x2="52.50" y2="679.53" stroke="#14935a" stroke-width="1"/>
<line x1="48.10" y1="680.61" x2="52.50" y2="680.61" stroke="#14935a" stroke-width="1"/>
<line x1="77.35" y1="675.53" x2="77.35" y2="676.83" stroke="#14935a" stroke-width="1"/>
<line x1="75.15" y1="675.53" x2="79.55" y2="675.53" stroke="#14935a" stroke-width="1"/>
<line x1="75.15" y1="676.83" x2="79.55" y2="676.83" stroke="#14935a" stroke-width="1"/>
<line x1="104.40" y1="665.68" x2="104.40" y2="670.66" stroke="#14935a" stroke-width="1"/>
<line x1="102.20" y1="665.68" x2="106.60" y2="665.68" stroke="#14935a" stroke-width="1"/>
<line x1="102.20" y1="670.66" x2="106.60" y2="670.66" stroke="#14935a" stroke-width="1"/>
<line x1="131.45" y1="639.82" x2="131.45" y2="649.99" stroke="#14935a" stroke-width="1"/>
<line x1="129.25" y1="639.82" x2="133.65" y2="639.82" stroke="#14935a" stroke-width="1"/>
<line x1="129.25" y1="649.99" x2="133.65" y2="649.99" stroke="#14935a" stroke-width="1"/>
<line x1="158.50" y1="600.22" x2="158.50" y2="624.46" stroke="#14935a" stroke-width="1"/>
<line x1="156.30" y1="600.22" x2="160.70" y2="600.22" stroke="#14935a" stroke-width="1"/>
<line x1="156.30" y1="624.46" x2="160.70" y2="624.46" stroke="#14935a" stroke-width="1"/>
<rect x="48.40" y="678.67" width="3.80" height="2.80" fill="#14935a" stroke="none" stroke-width="1"/>
<rect x="75.45" y="674.78" width="3.80" height="2.80" fill="#14935a" stroke="none" stroke-width="1"/>
<rect x="102.50" y="666.77" width="3.80" height="2.80" fill="#14935a" stroke="none" stroke-width="1"/>
<rect x="129.55" y="643.51" width="3.80" height="2.80" fill="#14935a" stroke="none" stroke-width="1"/>
<rect x="156.60" y="610.94" width="3.80" height="2.80" fill="#14935a" stroke="none" stroke-width="1"/>
<path d="M50.30,680.18 L77.35,676.28 L104.40,669.25 L131.45,646.10 L158.50,620.56" fill="none" stroke="#111" stroke-width="1.5"/>
<line x1="50.30" y1="679.64" x2="50.30" y2="680.72" stroke="#111" stroke-width="1"/>
<line x1="48.10" y1="679.64" x2="52.50" y2="679.64" stroke="#111" stroke-width="1"/>
<line x1="48.10" y1="680.72" x2="52.50" y2="680.72" stroke="#111" stroke-width="1"/>
<line x1="77.35" y1="675.64" x2="77.35" y2="676.93" stroke="#111" stroke-width="1"/>
<line x1="75.15" y1="675.64" x2="79.55" y2="675.64" stroke="#111" stroke-width="1"/>
<line x1="75.15" y1="676.93" x2="79.55" y2="676.93" stroke="#111" stroke-width="1"/>
<line x1="104.40" y1="666.66" x2="104.40" y2="671.85" stroke="#111" stroke-width="1"/>
<line x1="102.20" y1="666.66" x2="106.60" y2="666.66" stroke="#111" stroke-width="1"/>
<line x1="102.20" y1="671.85" x2="106.60" y2="671.85" stroke="#111" stroke-width="1"/>
<line x1="131.45" y1="641.01" x2="131.45" y2="651.18" stroke="#111" stroke-width="1"/>
<line x1="129.25" y1="641.01" x2="133.65" y2="641.01" stroke="#111" stroke-width="1"/>
<line x1="129.25" y1="651.18" x2="133.65" y2="651.18" stroke="#111" stroke-width="1"/>
<line x1="158.50" y1="610.28" x2="158.50" y2="630.84" stroke="#111" stroke-width="1"/>
<line x1="156.30" y1="610.28" x2="160.70" y2="610.28" stroke="#111" stroke-width="1"/>
<line x1="156.30" y1="630.84" x2="160.70" y2="630.84" stroke="#111" stroke-width="1"/>
<rect x="48.40" y="678.78" width="3.80" height="2.80" fill="#111" stroke="none" stroke-width="1"/>
<rect x="75.45" y="674.88" width="3.80" height="2.80" fill="#111" stroke="none" stroke-width="1"/>
<rect x="102.50" y="667.85" width="3.80" height="2.80" fill="#111" stroke="none" stroke-width="1"/>
<rect x="129.55" y="644.70" width="3.80" height="2.80" fill="#111" stroke="none" stroke-width="1"/>
<rect x="156.60" y="619.16" width="3.80" height="2.80" fill="#111" stroke="none" stroke-width="1"/>
<text x="141.30" y="677.60" font-size="8.7" text-anchor="middle" fill="#1c1c1c" textLength="33.6" lengthAdjust="spacingAndGlyphs"><tspan font-style="italic">p</tspan>&lt;0.0001</text>
<line x1="68.20" y1="721.30" x2="79.00" y2="721.30" stroke="#111" stroke-width="1.2"/>
<text x="83.40" y="724.80" font-size="10" text-anchor="start" fill="#1c1c1c">Ctrl</text>
<line x1="68.20" y1="732.40" x2="79.00" y2="732.40" stroke="#14935a" stroke-width="1.2"/>
<text x="83.40" y="735.90" font-size="10" text-anchor="start" fill="#1c1c1c">CD19 CAR-T</text>
<line x1="68.20" y1="743.50" x2="79.00" y2="743.50" stroke="#ff3a2a" stroke-width="1.2"/>
<text x="83.40" y="747.00" font-size="10" text-anchor="start" fill="#1c1c1c">mC2 CAR-T</text>
<text x="185.20" y="565.20" font-size="16" text-anchor="start" font-weight="bold" fill="#000">j</text>
<line x1="229.60" y1="685.00" x2="229.60" y2="570.60" stroke="#222" stroke-width="1"/>
<line x1="225.40" y1="684.50" x2="229.60" y2="684.50" stroke="#222" stroke-width="1"/>
<text x="221.60" y="687.95" font-size="9.7" text-anchor="end" fill="#1c1c1c">0</text>
<line x1="225.40" y1="656.02" x2="229.60" y2="656.02" stroke="#222" stroke-width="1"/>
<text x="221.60" y="659.48" font-size="9.7" text-anchor="end" fill="#1c1c1c">25</text>
<line x1="225.40" y1="627.55" x2="229.60" y2="627.55" stroke="#222" stroke-width="1"/>
<text x="221.60" y="631.00" font-size="9.7" text-anchor="end" fill="#1c1c1c">50</text>
<line x1="225.40" y1="599.08" x2="229.60" y2="599.08" stroke="#222" stroke-width="1"/>
<text x="221.60" y="602.53" font-size="9.7" text-anchor="end" fill="#1c1c1c">75</text>
<line x1="225.40" y1="570.60" x2="229.60" y2="570.60" stroke="#222" stroke-width="1"/>
<text x="221.60" y="574.05" font-size="9.7" text-anchor="end" fill="#1c1c1c">100</text>
<line x1="229.10" y1="684.50" x2="343.00" y2="684.50" stroke="#222" stroke-width="1"/>
<line x1="229.80" y1="684.50" x2="229.80" y2="688.50" stroke="#222" stroke-width="1"/>
<text x="229.80" y="698.90" font-size="10" text-anchor="middle" fill="#1c1c1c">0</text>
<line x1="258.00" y1="684.50" x2="258.00" y2="688.50" stroke="#222" stroke-width="1"/>
<text x="258.00" y="698.90" font-size="10" text-anchor="middle" fill="#1c1c1c">2</text>
<line x1="286.20" y1="684.50" x2="286.20" y2="688.50" stroke="#222" stroke-width="1"/>
<text x="286.20" y="698.90" font-size="10" text-anchor="middle" fill="#1c1c1c">4</text>
<line x1="314.40" y1="684.50" x2="314.40" y2="688.50" stroke="#222" stroke-width="1"/>
<text x="314.40" y="698.90" font-size="10" text-anchor="middle" fill="#1c1c1c">6</text>
<line x1="342.60" y1="684.50" x2="342.60" y2="688.50" stroke="#222" stroke-width="1"/>
<text x="342.60" y="698.90" font-size="10" text-anchor="middle" fill="#1c1c1c">8</text>
<text x="286.40" y="710.30" font-size="10" text-anchor="middle" fill="#1c1c1c">Weeks</text>
<text x="203.20" y="628.20" font-size="10" text-anchor="middle" fill="#1c1c1c" transform="rotate(-90 203.20 628.20)">Percent survival (%)</text>
<line x1="229.80" y1="570.60" x2="342.80" y2="570.60" stroke="#ff5a40" stroke-width="1.3"/>
<line x1="342.60" y1="568.40" x2="342.60" y2="571.20" stroke="#ff5a40" stroke-width="1"/>
<path d="M229.80,570.60 L294.60,570.60 L294.60,593.38 L296.50,593.38 L296.50,616.16 L298.30,616.16 L298.30,638.94 L303.00,638.94 L303.00,661.72 L303.00,661.72 L303.00,684.50" fill="none" stroke="#14935a" stroke-width="1.2"/>
<path d="M229.80,570.60 L298.60,570.60 L298.60,593.38 L300.40,593.38 L300.40,616.16 L307.00,616.16 L307.00,638.94 L308.80,638.94 L308.80,661.72 L312.80,661.72 L312.80,684.50" fill="none" stroke="#111" stroke-width="1.2"/>
<text x="325.20" y="582.80" font-size="8.8" text-anchor="middle" fill="#1c1c1c" textLength="34.6" lengthAdjust="spacingAndGlyphs"><tspan font-style="italic">p</tspan>=0.0018</text>
<line x1="250.30" y1="721.30" x2="261.00" y2="721.30" stroke="#111" stroke-width="1.2"/>
<text x="265.30" y="724.80" font-size="10" text-anchor="start" fill="#1c1c1c">Ctrl</text>
<line x1="250.30" y1="732.40" x2="261.00" y2="732.40" stroke="#14935a" stroke-width="1.2"/>
<text x="265.30" y="735.90" font-size="10" text-anchor="start" fill="#1c1c1c">CD19 CAR-T</text>
<line x1="250.30" y1="743.50" x2="261.00" y2="743.50" stroke="#ff3a2a" stroke-width="1.2"/>
<text x="265.30" y="747.00" font-size="10" text-anchor="start" fill="#1c1c1c">mC2 CAR-T</text>
<text x="373.40" y="566.40" font-size="16" text-anchor="start" font-weight="bold" fill="#000">k</text>
<line x1="407.20" y1="673.80" x2="407.20" y2="589.60" stroke="#222" stroke-width="1"/>
<line x1="403.60" y1="673.30" x2="407.20" y2="673.30" stroke="#222" stroke-width="1"/>
<text x="401.40" y="676.75" font-size="9.7" text-anchor="end" fill="#1c1c1c">0</text>
<line x1="403.60" y1="652.38" x2="407.20" y2="652.38" stroke="#222" stroke-width="1"/>
<text x="401.40" y="655.83" font-size="9.7" text-anchor="end" fill="#1c1c1c">1</text>
<line x1="403.60" y1="631.45" x2="407.20" y2="631.45" stroke="#222" stroke-width="1"/>
<text x="401.40" y="634.90" font-size="9.7" text-anchor="end" fill="#1c1c1c">2</text>
<line x1="403.60" y1="610.52" x2="407.20" y2="610.52" stroke="#222" stroke-width="1"/>
<text x="401.40" y="613.98" font-size="9.7" text-anchor="end" fill="#1c1c1c">3</text>
<line x1="403.60" y1="589.60" x2="407.20" y2="589.60" stroke="#222" stroke-width="1"/>
<text x="401.40" y="593.05" font-size="9.7" text-anchor="end" fill="#1c1c1c">4</text>
<line x1="403.80" y1="673.30" x2="462.90" y2="673.30" stroke="#222" stroke-width="1"/>
<line x1="418.40" y1="673.30" x2="418.40" y2="676.90" stroke="#222" stroke-width="1"/>
<line x1="435.30" y1="673.30" x2="435.30" y2="676.90" stroke="#222" stroke-width="1"/>
<line x1="452.40" y1="673.30" x2="452.40" y2="676.90" stroke="#222" stroke-width="1"/>
<text x="437.30" y="580.90" font-size="10" text-anchor="middle" fill="#1c1c1c">Blood</text>
<text x="437.10" y="603.80" font-size="8.7" text-anchor="middle" fill="#1c1c1c" textLength="35" lengthAdjust="spacingAndGlyphs"><tspan font-style="italic">p</tspan>=0.0022</text>
<line x1="419.70" y1="606.50" x2="455.00" y2="606.50" stroke="#333" stroke-width="1"/>
<text x="446.80" y="615.40" font-size="8.7" text-anchor="middle" fill="#1c1c1c" textLength="35" lengthAdjust="spacingAndGlyphs"><tspan font-style="italic">p</tspan>=0.0024</text>
<line x1="437.30" y1="619.00" x2="455.00" y2="619.00" stroke="#333" stroke-width="1"/>
<circle cx="415.50" cy="673.20" r="2.2" fill="#999999" stroke="#222" stroke-width="0.9"/>
<circle cx="418.00" cy="673.00" r="2.2" fill="#999999" stroke="#222" stroke-width="0.9"/>
<circle cx="420.50" cy="673.20" r="2.2" fill="#999999" stroke="#222" stroke-width="0.9"/>
<circle cx="422.50" cy="673.00" r="2.2" fill="#999999" stroke="#222" stroke-width="0.9"/>
<circle cx="432.00" cy="673.00" r="2.2" fill="#0d8a55" stroke="#05140e" stroke-width="0.9"/>
<circle cx="434.50" cy="673.20" r="2.2" fill="#0d8a55" stroke="#05140e" stroke-width="0.9"/>
<circle cx="436.50" cy="673.00" r="2.2" fill="#0d8a55" stroke="#05140e" stroke-width="0.9"/>
<circle cx="438.60" cy="673.20" r="2.2" fill="#0d8a55" stroke="#05140e" stroke-width="0.9"/>
<line x1="448.60" y1="640.50" x2="457.30" y2="640.50" stroke="#222" stroke-width="1.1"/>
<circle cx="452.60" cy="628.60" r="2.2" fill="#ee2a0e" stroke="#1a0a05" stroke-width="0.9"/>
<circle cx="448.60" cy="640.50" r="2.2" fill="#ee2a0e" stroke="#1a0a05" stroke-width="0.9"/>
<circle cx="455.70" cy="637.80" r="2.2" fill="#ee2a0e" stroke="#1a0a05" stroke-width="0.9"/>
<circle cx="452.60" cy="648.10" r="2.2" fill="#ee2a0e" stroke="#1a0a05" stroke-width="0.9"/>
<circle cx="452.30" cy="667.50" r="2.2" fill="#ee2a0e" stroke="#1a0a05" stroke-width="0.9"/>
<text x="390.60" y="632.00" font-size="10" text-anchor="middle" fill="#1c1c1c" transform="rotate(-90 390.60 632.00)">Percentage (%)</text>
<text x="423.60" y="686.10" font-size="9.7" text-anchor="end" fill="#1c1c1c" transform="rotate(-45 423.60 686.10)">Ctrl</text>
<text x="440.50" y="686.10" font-size="9.7" text-anchor="end" fill="#1c1c1c" transform="rotate(-45 440.50 686.10)">CD19 CAR-T</text>
<text x="457.60" y="686.10" font-size="9.7" text-anchor="end" fill="#1c1c1c" transform="rotate(-45 457.60 686.10)">mC2 CAR-T</text>
<line x1="518.80" y1="673.90" x2="518.80" y2="589.50" stroke="#222" stroke-width="1"/>
<line x1="515.20" y1="673.40" x2="518.80" y2="673.40" stroke="#222" stroke-width="1"/>
<text x="513.00" y="676.85" font-size="9.7" text-anchor="end" fill="#1c1c1c">0</text>
<line x1="515.20" y1="656.62" x2="518.80" y2="656.62" stroke="#222" stroke-width="1"/>
<text x="513.00" y="660.07" font-size="9.7" text-anchor="end" fill="#1c1c1c">0.1</text>
<line x1="515.20" y1="639.84" x2="518.80" y2="639.84" stroke="#222" stroke-width="1"/>
<text x="513.00" y="643.29" font-size="9.7" text-anchor="end" fill="#1c1c1c">0.2</text>
<line x1="515.20" y1="623.06" x2="518.80" y2="623.06" stroke="#222" stroke-width="1"/>
<text x="513.00" y="626.51" font-size="9.7" text-anchor="end" fill="#1c1c1c">0.3</text>
<line x1="515.20" y1="606.28" x2="518.80" y2="606.28" stroke="#222" stroke-width="1"/>
<text x="513.00" y="609.73" font-size="9.7" text-anchor="end" fill="#1c1c1c">0.4</text>
<line x1="515.20" y1="589.50" x2="518.80" y2="589.50" stroke="#222" stroke-width="1"/>
<text x="513.00" y="592.95" font-size="9.7" text-anchor="end" fill="#1c1c1c">0.5</text>
<line x1="515.40" y1="673.40" x2="573.80" y2="673.40" stroke="#222" stroke-width="1"/>
<line x1="529.50" y1="673.40" x2="529.50" y2="677.00" stroke="#222" stroke-width="1"/>
<line x1="546.00" y1="673.40" x2="546.00" y2="677.00" stroke="#222" stroke-width="1"/>
<line x1="563.10" y1="673.40" x2="563.10" y2="677.00" stroke="#222" stroke-width="1"/>
<text x="546.00" y="580.90" font-size="10" text-anchor="middle" fill="#1c1c1c">Spleen</text>
<text x="545.30" y="596.20" font-size="8.7" text-anchor="middle" fill="#1c1c1c" textLength="35" lengthAdjust="spacingAndGlyphs"><tspan font-style="italic">p</tspan>=0.0058</text>
<line x1="527.80" y1="600.00" x2="563.70" y2="600.00" stroke="#333" stroke-width="1"/>
<text x="555.60" y="609.70" font-size="8.7" text-anchor="middle" fill="#1c1c1c" textLength="35" lengthAdjust="spacingAndGlyphs"><tspan font-style="italic">p</tspan>=0.0072</text>
<line x1="546.00" y1="612.50" x2="563.70" y2="612.50" stroke="#333" stroke-width="1"/>
<circle cx="527.60" cy="669.30" r="2.2" fill="#999999" stroke="#222" stroke-width="0.9"/>
<circle cx="531.30" cy="669.50" r="2.2" fill="#999999" stroke="#222" stroke-width="0.9"/>
<circle cx="529.20" cy="671.80" r="2.2" fill="#999999" stroke="#222" stroke-width="0.9"/>
<circle cx="525.90" cy="673.30" r="2.2" fill="#999999" stroke="#222" stroke-width="0.9"/>
<circle cx="533.00" cy="673.50" r="2.2" fill="#999999" stroke="#222" stroke-width="0.9"/>
<circle cx="546.30" cy="664.00" r="2.2" fill="#0d8a55" stroke="#05140e" stroke-width="0.9"/>
<circle cx="545.00" cy="669.50" r="2.2" fill="#0d8a55" stroke="#05140e" stroke-width="0.9"/>
<circle cx="550.00" cy="671.20" r="2.2" fill="#0d8a55" stroke="#05140e" stroke-width="0.9"/>
<circle cx="542.80" cy="673.30" r="2.2" fill="#0d8a55" stroke="#05140e" stroke-width="0.9"/>
<circle cx="547.10" cy="673.50" r="2.2" fill="#0d8a55" stroke="#05140e" stroke-width="0.9"/>
<line x1="560.50" y1="626.30" x2="566.70" y2="626.30" stroke="#222" stroke-width="1.1"/>
<circle cx="559.50" cy="617.80" r="2.2" fill="#ee2a0e" stroke="#1a0a05" stroke-width="0.9"/>
<circle cx="566.70" cy="619.90" r="2.2" fill="#ee2a0e" stroke="#1a0a05" stroke-width="0.9"/>
<circle cx="559.50" cy="626.30" r="2.2" fill="#ee2a0e" stroke="#1a0a05" stroke-width="0.9"/>
<circle cx="566.70" cy="628.50" r="2.2" fill="#ee2a0e" stroke="#1a0a05" stroke-width="0.9"/>
<circle cx="563.10" cy="673.20" r="2.2" fill="#ee2a0e" stroke="#1a0a05" stroke-width="0.9"/>
<text x="494.10" y="632.00" font-size="10" text-anchor="middle" fill="#1c1c1c" transform="rotate(-90 494.10 632.00)">Percentage (%)</text>
<text x="534.70" y="686.20" font-size="9.7" text-anchor="end" fill="#1c1c1c" transform="rotate(-45 534.70 686.20)">Ctrl</text>
<text x="551.20" y="686.20" font-size="9.7" text-anchor="end" fill="#1c1c1c" transform="rotate(-45 551.20 686.20)">CD19 CAR-T</text>
<text x="568.30" y="686.20" font-size="9.7" text-anchor="end" fill="#1c1c1c" transform="rotate(-45 568.30 686.20)">mC2 CAR-T</text>
<line x1="628.50" y1="673.90" x2="628.50" y2="590.00" stroke="#222" stroke-width="1"/>
<line x1="624.90" y1="673.40" x2="628.50" y2="673.40" stroke="#222" stroke-width="1"/>
<text x="625.10" y="676.85" font-size="9.7" text-anchor="end" fill="#1c1c1c">0</text>
<line x1="624.90" y1="652.55" x2="628.50" y2="652.55" stroke="#222" stroke-width="1"/>
<text x="625.10" y="656.00" font-size="9.7" text-anchor="end" fill="#1c1c1c">0.05</text>
<line x1="624.90" y1="631.70" x2="628.50" y2="631.70" stroke="#222" stroke-width="1"/>
<text x="625.10" y="635.15" font-size="9.7" text-anchor="end" fill="#1c1c1c">0.1</text>
<line x1="624.90" y1="610.85" x2="628.50" y2="610.85" stroke="#222" stroke-width="1"/>
<text x="625.10" y="614.30" font-size="9.7" text-anchor="end" fill="#1c1c1c">0.15</text>
<line x1="624.90" y1="590.00" x2="628.50" y2="590.00" stroke="#222" stroke-width="1"/>
<text x="625.10" y="593.45" font-size="9.7" text-anchor="end" fill="#1c1c1c">0.2</text>
<line x1="625.10" y1="673.40" x2="685.00" y2="673.40" stroke="#222" stroke-width="1"/>
<line x1="639.80" y1="673.40" x2="639.80" y2="677.00" stroke="#222" stroke-width="1"/>
<line x1="657.00" y1="673.40" x2="657.00" y2="677.00" stroke="#222" stroke-width="1"/>
<line x1="673.90" y1="673.40" x2="673.90" y2="677.00" stroke="#222" stroke-width="1"/>
<text x="655.20" y="580.90" font-size="10" text-anchor="middle" fill="#1c1c1c">Bone marrow</text>
<text x="654.20" y="601.90" font-size="8.7" text-anchor="middle" fill="#1c1c1c" textLength="35" lengthAdjust="spacingAndGlyphs"><tspan font-style="italic">p</tspan>=0.0009</text>
<line x1="637.30" y1="605.00" x2="672.30" y2="605.00" stroke="#333" stroke-width="1"/>
<text x="664.50" y="614.30" font-size="8.7" text-anchor="middle" fill="#1c1c1c" textLength="35" lengthAdjust="spacingAndGlyphs"><tspan font-style="italic">p</tspan>=0.0027</text>
<line x1="654.80" y1="617.50" x2="672.30" y2="617.50" stroke="#333" stroke-width="1"/>
<circle cx="638.00" cy="669.50" r="2.2" fill="#999999" stroke="#222" stroke-width="0.9"/>
<circle cx="641.70" cy="669.50" r="2.2" fill="#999999" stroke="#222" stroke-width="0.9"/>
<circle cx="636.30" cy="673.50" r="2.2" fill="#999999" stroke="#222" stroke-width="0.9"/>
<circle cx="644.20" cy="673.50" r="2.2" fill="#999999" stroke="#222" stroke-width="0.9"/>
<circle cx="640.30" cy="672.50" r="2.2" fill="#999999" stroke="#222" stroke-width="0.9"/>
<circle cx="653.80" cy="660.60" r="2.2" fill="#0d8a55" stroke="#05140e" stroke-width="0.9"/>
<circle cx="653.80" cy="665.30" r="2.2" fill="#0d8a55" stroke="#05140e" stroke-width="0.9"/>
<circle cx="660.60" cy="665.30" r="2.2" fill="#0d8a55" stroke="#05140e" stroke-width="0.9"/>
<circle cx="653.80" cy="673.00" r="2.2" fill="#0d8a55" stroke="#05140e" stroke-width="0.9"/>
<circle cx="660.60" cy="673.00" r="2.2" fill="#0d8a55" stroke="#05140e" stroke-width="0.9"/>
<line x1="635.00" y1="669.60" x2="646.00" y2="669.60" stroke="#222" stroke-width="1.1"/>
<line x1="653.60" y1="665.20" x2="660.50" y2="665.20" stroke="#222" stroke-width="1.1"/>
<circle cx="673.70" cy="623.10" r="2.2" fill="#ee2a0e" stroke="#1a0a05" stroke-width="0.9"/>
<circle cx="673.70" cy="627.40" r="2.2" fill="#ee2a0e" stroke="#1a0a05" stroke-width="0.9"/>
<circle cx="670.20" cy="647.70" r="2.2" fill="#ee2a0e" stroke="#1a0a05" stroke-width="0.9"/>
<circle cx="677.30" cy="648.20" r="2.2" fill="#ee2a0e" stroke="#1a0a05" stroke-width="0.9"/>
<circle cx="670.20" cy="652.40" r="2.2" fill="#ee2a0e" stroke="#1a0a05" stroke-width="0.9"/>
<text x="601.30" y="632.00" font-size="10" text-anchor="middle" fill="#1c1c1c" transform="rotate(-90 601.30 632.00)">Percentage (%)</text>
<text x="645.00" y="686.20" font-size="9.7" text-anchor="end" fill="#1c1c1c" transform="rotate(-45 645.00 686.20)">Ctrl</text>
<text x="662.20" y="686.20" font-size="9.7" text-anchor="end" fill="#1c1c1c" transform="rotate(-45 662.20 686.20)">CD19 CAR-T</text>
<text x="679.10" y="686.20" font-size="9.7" text-anchor="end" fill="#1c1c1c" transform="rotate(-45 679.10 686.20)">mC2 CAR-T</text>
</svg>
</body></html>
